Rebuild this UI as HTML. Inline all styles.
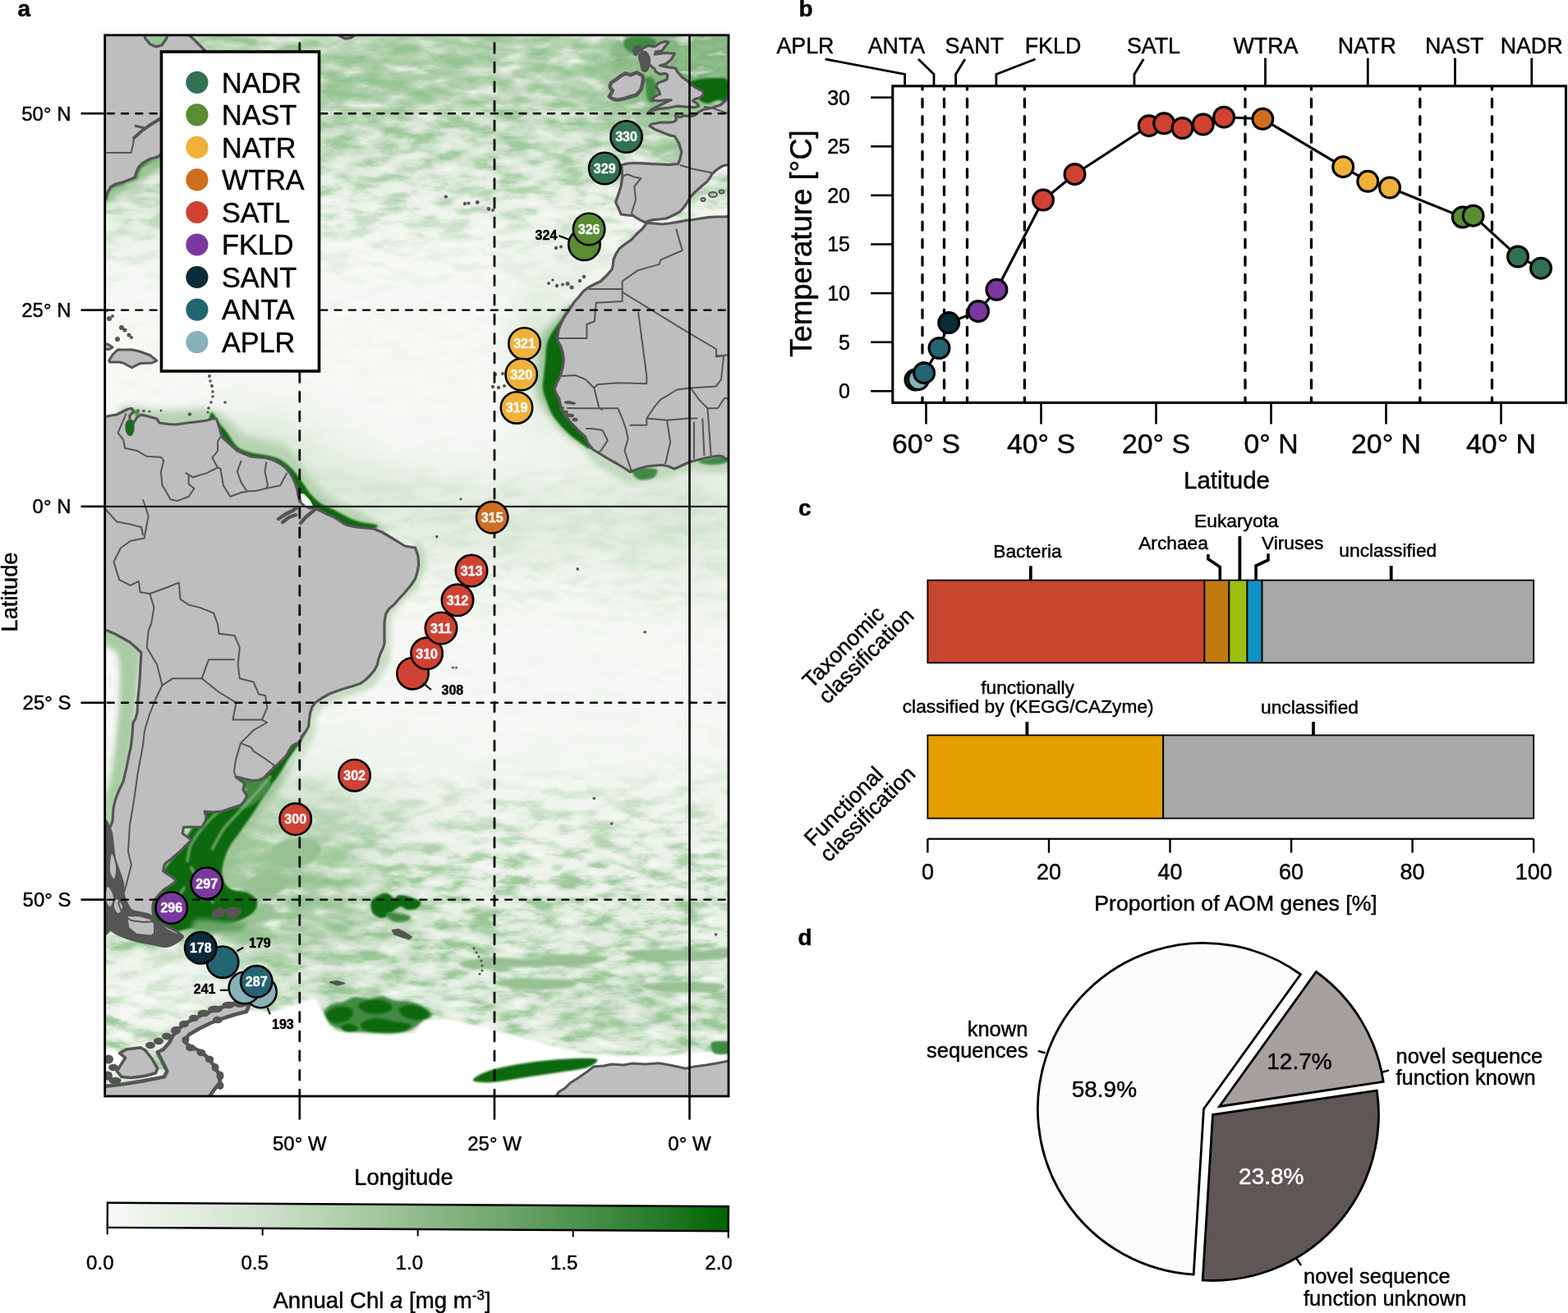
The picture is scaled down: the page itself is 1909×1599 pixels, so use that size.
<!DOCTYPE html>
<html><head><meta charset="utf-8"><title>Figure</title>
<style>
html,body{margin:0;padding:0;background:#fff;overflow:hidden;}
svg{display:block;}
text{font-family:"Liberation Sans", Arial, Helvetica, sans-serif;stroke-width:0.45px;}
</style></head>
<body>
<svg width="1909" height="1599" viewBox="0 0 1909 1599">
<rect width="1909" height="1599" fill="#fff"/>
<defs>
<clipPath id="mapclip"><rect x="127.7" y="42.8" width="759.3" height="1292.2"/></clipPath>
<filter id="blur8" x="-10%" y="-10%" width="120%" height="120%"><feGaussianBlur stdDeviation="9"/></filter>
<filter id="blur3" x="-20%" y="-20%" width="140%" height="140%"><feGaussianBlur stdDeviation="3"/></filter>
<filter id="blur2" x="-20%" y="-20%" width="140%" height="140%"><feGaussianBlur stdDeviation="1.6"/></filter>
<filter id="blur5" x="-30%" y="-30%" width="160%" height="160%"><feGaussianBlur stdDeviation="5"/></filter>
<filter id="blur1" x="-20%" y="-20%" width="140%" height="140%"><feGaussianBlur stdDeviation="0.8"/></filter>
</defs>
<rect x="87" y="34" width="806" height="1311" fill="#fdfdfd"/>
<g clip-path="url(#mapclip)">
<g filter="url(#blur8)">
<rect x="96" y="10" width="240" height="16" fill="#c3dabf"/>
<rect x="336" y="10" width="32" height="16" fill="#c2dabf"/>
<rect x="368" y="10" width="32" height="16" fill="#c2dabe"/>
<rect x="400" y="10" width="64" height="16" fill="#c2d9be"/>
<rect x="464" y="10" width="160" height="16" fill="#c1d9bd"/>
<rect x="624" y="10" width="16" height="16" fill="#c0d9bd"/>
<rect x="640" y="10" width="32" height="16" fill="#c0d8bc"/>
<rect x="672" y="10" width="32" height="16" fill="#bfd8bb"/>
<rect x="704" y="10" width="16" height="16" fill="#bed7ba"/>
<rect x="720" y="10" width="16" height="16" fill="#bdd7b9"/>
<rect x="736" y="10" width="16" height="16" fill="#bbd6b7"/>
<rect x="752" y="10" width="16" height="16" fill="#b9d4b4"/>
<rect x="768" y="10" width="16" height="16" fill="#b5d2b1"/>
<rect x="784" y="10" width="16" height="16" fill="#b3d0ae"/>
<rect x="800" y="10" width="32" height="16" fill="#b1cfac"/>
<rect x="832" y="10" width="16" height="16" fill="#b2d0ad"/>
<rect x="848" y="10" width="16" height="16" fill="#b4d1af"/>
<rect x="864" y="10" width="16" height="16" fill="#b7d3b2"/>
<rect x="880" y="10" width="16" height="16" fill="#b9d4b5"/>
<rect x="896" y="10" width="16" height="16" fill="#bcd6b8"/>
<rect x="912" y="10" width="16" height="16" fill="#bed7ba"/>
<rect x="96" y="26" width="208" height="16" fill="#c3dabf"/>
<rect x="304" y="26" width="32" height="16" fill="#c2dabf"/>
<rect x="336" y="26" width="16" height="16" fill="#c2dabe"/>
<rect x="352" y="26" width="32" height="16" fill="#c2d9be"/>
<rect x="384" y="26" width="16" height="16" fill="#c1d9be"/>
<rect x="400" y="26" width="32" height="16" fill="#c1d9bd"/>
<rect x="432" y="26" width="32" height="16" fill="#c0d8bc"/>
<rect x="464" y="26" width="48" height="16" fill="#bfd8bb"/>
<rect x="512" y="26" width="32" height="16" fill="#bfd7bb"/>
<rect x="544" y="26" width="80" height="16" fill="#bfd8bb"/>
<rect x="624" y="26" width="32" height="16" fill="#bed7ba"/>
<rect x="656" y="26" width="32" height="16" fill="#bdd7b9"/>
<rect x="688" y="26" width="16" height="16" fill="#bcd6b8"/>
<rect x="704" y="26" width="16" height="16" fill="#bbd6b7"/>
<rect x="720" y="26" width="16" height="16" fill="#bad5b5"/>
<rect x="736" y="26" width="16" height="16" fill="#b6d3b2"/>
<rect x="752" y="26" width="16" height="16" fill="#b1d0ac"/>
<rect x="768" y="26" width="16" height="16" fill="#abcca6"/>
<rect x="784" y="26" width="16" height="16" fill="#a6c9a1"/>
<rect x="800" y="26" width="16" height="16" fill="#a2c69d"/>
<rect x="816" y="26" width="16" height="16" fill="#a0c59b"/>
<rect x="832" y="26" width="16" height="16" fill="#a2c69d"/>
<rect x="848" y="26" width="16" height="16" fill="#a5c8a0"/>
<rect x="864" y="26" width="16" height="16" fill="#aacba5"/>
<rect x="880" y="26" width="16" height="16" fill="#afceaa"/>
<rect x="896" y="26" width="16" height="16" fill="#b5d2b0"/>
<rect x="912" y="26" width="16" height="16" fill="#b9d4b5"/>
<rect x="96" y="42" width="240" height="16" fill="#c3dabf"/>
<rect x="336" y="42" width="16" height="16" fill="#c2dabe"/>
<rect x="352" y="42" width="16" height="16" fill="#c2d9be"/>
<rect x="368" y="42" width="16" height="16" fill="#c1d9bd"/>
<rect x="384" y="42" width="16" height="16" fill="#c0d8bc"/>
<rect x="400" y="42" width="16" height="16" fill="#bfd8bb"/>
<rect x="416" y="42" width="16" height="16" fill="#bed7ba"/>
<rect x="432" y="42" width="16" height="16" fill="#bdd7b9"/>
<rect x="448" y="42" width="16" height="16" fill="#bcd6b8"/>
<rect x="464" y="42" width="16" height="16" fill="#bcd6b7"/>
<rect x="480" y="42" width="16" height="16" fill="#bbd5b7"/>
<rect x="496" y="42" width="16" height="16" fill="#bbd5b6"/>
<rect x="512" y="42" width="32" height="16" fill="#bbd5b7"/>
<rect x="544" y="42" width="16" height="16" fill="#bbd6b7"/>
<rect x="560" y="42" width="32" height="16" fill="#bcd6b8"/>
<rect x="592" y="42" width="32" height="16" fill="#bdd6b8"/>
<rect x="624" y="42" width="32" height="16" fill="#bcd6b8"/>
<rect x="656" y="42" width="16" height="16" fill="#bbd6b7"/>
<rect x="672" y="42" width="16" height="16" fill="#bbd5b6"/>
<rect x="688" y="42" width="16" height="16" fill="#bad5b5"/>
<rect x="704" y="42" width="16" height="16" fill="#b8d4b4"/>
<rect x="720" y="42" width="16" height="16" fill="#b6d2b1"/>
<rect x="736" y="42" width="16" height="16" fill="#b0cfab"/>
<rect x="752" y="42" width="16" height="16" fill="#a9cba4"/>
<rect x="768" y="42" width="16" height="16" fill="#a0c59b"/>
<rect x="784" y="42" width="16" height="16" fill="#97bf92"/>
<rect x="800" y="42" width="16" height="16" fill="#90bb8b"/>
<rect x="816" y="42" width="16" height="16" fill="#8db989"/>
<rect x="832" y="42" width="16" height="16" fill="#8eba8a"/>
<rect x="848" y="42" width="16" height="16" fill="#93bd8e"/>
<rect x="864" y="42" width="16" height="16" fill="#9bc196"/>
<rect x="880" y="42" width="16" height="16" fill="#a3c79e"/>
<rect x="896" y="42" width="16" height="16" fill="#accca7"/>
<rect x="912" y="42" width="16" height="16" fill="#b4d1af"/>
<rect x="96" y="58" width="192" height="16" fill="#c4dbc0"/>
<rect x="288" y="58" width="16" height="16" fill="#c4dac0"/>
<rect x="304" y="58" width="16" height="16" fill="#c3dac0"/>
<rect x="320" y="58" width="16" height="16" fill="#c3dabf"/>
<rect x="336" y="58" width="16" height="16" fill="#c2d9be"/>
<rect x="352" y="58" width="16" height="16" fill="#c1d9bd"/>
<rect x="368" y="58" width="16" height="16" fill="#c0d8bc"/>
<rect x="384" y="58" width="16" height="16" fill="#bed7ba"/>
<rect x="400" y="58" width="16" height="16" fill="#bcd6b8"/>
<rect x="416" y="58" width="16" height="16" fill="#bad5b6"/>
<rect x="432" y="58" width="16" height="16" fill="#b8d4b4"/>
<rect x="448" y="58" width="16" height="16" fill="#b7d3b2"/>
<rect x="464" y="58" width="48" height="16" fill="#b6d2b1"/>
<rect x="512" y="58" width="16" height="16" fill="#b6d3b2"/>
<rect x="528" y="58" width="16" height="16" fill="#b7d3b3"/>
<rect x="544" y="58" width="16" height="16" fill="#b8d4b4"/>
<rect x="560" y="58" width="16" height="16" fill="#b9d4b5"/>
<rect x="576" y="58" width="16" height="16" fill="#bad5b6"/>
<rect x="592" y="58" width="48" height="16" fill="#bbd5b7"/>
<rect x="640" y="58" width="16" height="16" fill="#bbd5b6"/>
<rect x="656" y="58" width="16" height="16" fill="#bad5b6"/>
<rect x="672" y="58" width="16" height="16" fill="#b9d4b5"/>
<rect x="688" y="58" width="16" height="16" fill="#b8d4b4"/>
<rect x="704" y="58" width="16" height="16" fill="#b6d3b2"/>
<rect x="720" y="58" width="16" height="16" fill="#b2d0ae"/>
<rect x="736" y="58" width="16" height="16" fill="#accca7"/>
<rect x="752" y="58" width="16" height="16" fill="#a2c69d"/>
<rect x="768" y="58" width="16" height="16" fill="#97bf92"/>
<rect x="784" y="58" width="16" height="16" fill="#8bb887"/>
<rect x="800" y="58" width="16" height="16" fill="#82b27e"/>
<rect x="816" y="58" width="16" height="16" fill="#7eb07a"/>
<rect x="832" y="58" width="16" height="16" fill="#7eb07b"/>
<rect x="848" y="58" width="16" height="16" fill="#84b37f"/>
<rect x="864" y="58" width="16" height="16" fill="#8db988"/>
<rect x="880" y="58" width="16" height="16" fill="#99c094"/>
<rect x="896" y="58" width="16" height="16" fill="#a5c8a0"/>
<rect x="912" y="58" width="16" height="16" fill="#b0cfab"/>
<rect x="96" y="74" width="176" height="16" fill="#c5dbc2"/>
<rect x="272" y="74" width="32" height="16" fill="#c5dbc1"/>
<rect x="304" y="74" width="16" height="16" fill="#c4dbc0"/>
<rect x="320" y="74" width="16" height="16" fill="#c3dabf"/>
<rect x="336" y="74" width="16" height="16" fill="#c2d9be"/>
<rect x="352" y="74" width="16" height="16" fill="#bfd8bb"/>
<rect x="368" y="74" width="16" height="16" fill="#bdd6b9"/>
<rect x="384" y="74" width="16" height="16" fill="#bad5b5"/>
<rect x="400" y="74" width="16" height="16" fill="#b6d3b2"/>
<rect x="416" y="74" width="16" height="16" fill="#b3d1af"/>
<rect x="432" y="74" width="16" height="16" fill="#b1d0ac"/>
<rect x="448" y="74" width="16" height="16" fill="#afcfaa"/>
<rect x="464" y="74" width="32" height="16" fill="#afceaa"/>
<rect x="496" y="74" width="16" height="16" fill="#b0cfab"/>
<rect x="512" y="74" width="16" height="16" fill="#b2d0ad"/>
<rect x="528" y="74" width="16" height="16" fill="#b4d1b0"/>
<rect x="544" y="74" width="16" height="16" fill="#b6d3b2"/>
<rect x="560" y="74" width="16" height="16" fill="#b8d4b4"/>
<rect x="576" y="74" width="16" height="16" fill="#bad5b5"/>
<rect x="592" y="74" width="16" height="16" fill="#bbd5b7"/>
<rect x="608" y="74" width="32" height="16" fill="#bbd6b7"/>
<rect x="640" y="74" width="16" height="16" fill="#bbd5b7"/>
<rect x="656" y="74" width="16" height="16" fill="#bad5b6"/>
<rect x="672" y="74" width="16" height="16" fill="#bad5b5"/>
<rect x="688" y="74" width="16" height="16" fill="#b8d4b4"/>
<rect x="704" y="74" width="16" height="16" fill="#b6d2b1"/>
<rect x="720" y="74" width="16" height="16" fill="#b1cfac"/>
<rect x="736" y="74" width="16" height="16" fill="#a9caa4"/>
<rect x="752" y="74" width="16" height="16" fill="#9ec399"/>
<rect x="768" y="74" width="16" height="16" fill="#92bc8d"/>
<rect x="784" y="74" width="16" height="16" fill="#86b582"/>
<rect x="800" y="74" width="16" height="16" fill="#7eaf7a"/>
<rect x="816" y="74" width="16" height="16" fill="#78ac74"/>
<rect x="832" y="74" width="16" height="16" fill="#75aa71"/>
<rect x="848" y="74" width="16" height="16" fill="#76aa73"/>
<rect x="864" y="74" width="16" height="16" fill="#7eaf7a"/>
<rect x="880" y="74" width="16" height="16" fill="#8db989"/>
<rect x="896" y="74" width="16" height="16" fill="#9fc49a"/>
<rect x="912" y="74" width="16" height="16" fill="#aecea9"/>
<rect x="96" y="90" width="176" height="16" fill="#c8ddc5"/>
<rect x="272" y="90" width="16" height="16" fill="#c8ddc4"/>
<rect x="288" y="90" width="16" height="16" fill="#c7ddc4"/>
<rect x="304" y="90" width="16" height="16" fill="#c7dcc3"/>
<rect x="320" y="90" width="16" height="16" fill="#c5dbc1"/>
<rect x="336" y="90" width="16" height="16" fill="#c3dabf"/>
<rect x="352" y="90" width="16" height="16" fill="#c0d8bc"/>
<rect x="368" y="90" width="16" height="16" fill="#bcd6b8"/>
<rect x="384" y="90" width="16" height="16" fill="#b8d3b3"/>
<rect x="400" y="90" width="16" height="16" fill="#b3d1ae"/>
<rect x="416" y="90" width="16" height="16" fill="#afcfaa"/>
<rect x="432" y="90" width="16" height="16" fill="#accda7"/>
<rect x="448" y="90" width="32" height="16" fill="#abcca6"/>
<rect x="480" y="90" width="16" height="16" fill="#adcda8"/>
<rect x="496" y="90" width="16" height="16" fill="#afcfaa"/>
<rect x="512" y="90" width="16" height="16" fill="#b3d1ae"/>
<rect x="528" y="90" width="16" height="16" fill="#b6d2b1"/>
<rect x="544" y="90" width="16" height="16" fill="#b9d4b5"/>
<rect x="560" y="90" width="16" height="16" fill="#bcd6b7"/>
<rect x="576" y="90" width="16" height="16" fill="#bdd7b9"/>
<rect x="592" y="90" width="16" height="16" fill="#bfd7bb"/>
<rect x="608" y="90" width="48" height="16" fill="#bfd8bb"/>
<rect x="656" y="90" width="16" height="16" fill="#bed7ba"/>
<rect x="672" y="90" width="16" height="16" fill="#bdd7b9"/>
<rect x="688" y="90" width="16" height="16" fill="#bcd6b7"/>
<rect x="704" y="90" width="16" height="16" fill="#b8d4b4"/>
<rect x="720" y="90" width="16" height="16" fill="#b1d0ad"/>
<rect x="736" y="90" width="16" height="16" fill="#a8caa3"/>
<rect x="752" y="90" width="16" height="16" fill="#9dc398"/>
<rect x="768" y="90" width="16" height="16" fill="#93bd8e"/>
<rect x="784" y="90" width="16" height="16" fill="#8ab786"/>
<rect x="800" y="90" width="16" height="16" fill="#83b37f"/>
<rect x="816" y="90" width="16" height="16" fill="#7cae78"/>
<rect x="832" y="90" width="16" height="16" fill="#72a86f"/>
<rect x="848" y="90" width="16" height="16" fill="#6ba469"/>
<rect x="864" y="90" width="16" height="16" fill="#70a76d"/>
<rect x="880" y="90" width="16" height="16" fill="#82b27e"/>
<rect x="896" y="90" width="16" height="16" fill="#9bc196"/>
<rect x="912" y="90" width="16" height="16" fill="#afceaa"/>
<rect x="96" y="106" width="192" height="16" fill="#cbdfc8"/>
<rect x="288" y="106" width="16" height="16" fill="#cadec7"/>
<rect x="304" y="106" width="16" height="16" fill="#c9dec6"/>
<rect x="320" y="106" width="16" height="16" fill="#c8ddc4"/>
<rect x="336" y="106" width="16" height="16" fill="#c6dcc2"/>
<rect x="352" y="106" width="16" height="16" fill="#c2dabf"/>
<rect x="368" y="106" width="16" height="16" fill="#bed7ba"/>
<rect x="384" y="106" width="16" height="16" fill="#bad5b6"/>
<rect x="400" y="106" width="16" height="16" fill="#b5d2b1"/>
<rect x="416" y="106" width="16" height="16" fill="#b2d0ad"/>
<rect x="432" y="106" width="16" height="16" fill="#afceaa"/>
<rect x="448" y="106" width="16" height="16" fill="#aecea9"/>
<rect x="464" y="106" width="16" height="16" fill="#afceaa"/>
<rect x="480" y="106" width="16" height="16" fill="#b1d0ac"/>
<rect x="496" y="106" width="16" height="16" fill="#b4d1b0"/>
<rect x="512" y="106" width="16" height="16" fill="#b8d4b3"/>
<rect x="528" y="106" width="16" height="16" fill="#bbd6b7"/>
<rect x="544" y="106" width="16" height="16" fill="#bfd7ba"/>
<rect x="560" y="106" width="16" height="16" fill="#c1d9bd"/>
<rect x="576" y="106" width="16" height="16" fill="#c3dabf"/>
<rect x="592" y="106" width="16" height="16" fill="#c4dac0"/>
<rect x="608" y="106" width="16" height="16" fill="#c4dbc0"/>
<rect x="624" y="106" width="16" height="16" fill="#c4dac0"/>
<rect x="640" y="106" width="16" height="16" fill="#c3dac0"/>
<rect x="656" y="106" width="16" height="16" fill="#c3dabf"/>
<rect x="672" y="106" width="16" height="16" fill="#c2d9be"/>
<rect x="688" y="106" width="16" height="16" fill="#c0d8bc"/>
<rect x="704" y="106" width="16" height="16" fill="#bbd5b7"/>
<rect x="720" y="106" width="16" height="16" fill="#b3d0ae"/>
<rect x="736" y="106" width="16" height="16" fill="#a8caa3"/>
<rect x="752" y="106" width="16" height="16" fill="#9dc398"/>
<rect x="768" y="106" width="16" height="16" fill="#96be91"/>
<rect x="784" y="106" width="16" height="16" fill="#92bc8d"/>
<rect x="800" y="106" width="16" height="16" fill="#90bb8b"/>
<rect x="816" y="106" width="16" height="16" fill="#8ab785"/>
<rect x="832" y="106" width="16" height="16" fill="#80b17c"/>
<rect x="848" y="106" width="16" height="16" fill="#76ab73"/>
<rect x="864" y="106" width="16" height="16" fill="#78ac75"/>
<rect x="880" y="106" width="16" height="16" fill="#89b785"/>
<rect x="896" y="106" width="16" height="16" fill="#a1c69c"/>
<rect x="912" y="106" width="16" height="16" fill="#b5d2b1"/>
<rect x="96" y="122" width="160" height="16" fill="#d0e1cd"/>
<rect x="256" y="122" width="48" height="16" fill="#cfe1cc"/>
<rect x="304" y="122" width="16" height="16" fill="#cee1cb"/>
<rect x="320" y="122" width="16" height="16" fill="#cde0ca"/>
<rect x="336" y="122" width="16" height="16" fill="#cbdfc8"/>
<rect x="352" y="122" width="16" height="16" fill="#c9ddc5"/>
<rect x="368" y="122" width="16" height="16" fill="#c5dbc2"/>
<rect x="384" y="122" width="16" height="16" fill="#c2d9be"/>
<rect x="400" y="122" width="16" height="16" fill="#bed7ba"/>
<rect x="416" y="122" width="16" height="16" fill="#bbd6b7"/>
<rect x="432" y="122" width="32" height="16" fill="#bad5b5"/>
<rect x="464" y="122" width="16" height="16" fill="#bbd5b7"/>
<rect x="480" y="122" width="16" height="16" fill="#bdd7b9"/>
<rect x="496" y="122" width="16" height="16" fill="#c0d8bc"/>
<rect x="512" y="122" width="16" height="16" fill="#c2dabf"/>
<rect x="528" y="122" width="16" height="16" fill="#c5dbc1"/>
<rect x="544" y="122" width="16" height="16" fill="#c7dcc3"/>
<rect x="560" y="122" width="16" height="16" fill="#c8ddc5"/>
<rect x="576" y="122" width="64" height="16" fill="#c9dec6"/>
<rect x="640" y="122" width="16" height="16" fill="#c9ddc5"/>
<rect x="656" y="122" width="16" height="16" fill="#c8ddc5"/>
<rect x="672" y="122" width="16" height="16" fill="#c7dcc4"/>
<rect x="688" y="122" width="16" height="16" fill="#c5dbc1"/>
<rect x="704" y="122" width="16" height="16" fill="#bfd8bb"/>
<rect x="720" y="122" width="16" height="16" fill="#b6d2b1"/>
<rect x="736" y="122" width="16" height="16" fill="#aacba5"/>
<rect x="752" y="122" width="16" height="16" fill="#a0c59b"/>
<rect x="768" y="122" width="16" height="16" fill="#9cc397"/>
<rect x="784" y="122" width="16" height="16" fill="#9ec399"/>
<rect x="800" y="122" width="16" height="16" fill="#a1c59c"/>
<rect x="816" y="122" width="16" height="16" fill="#a1c69c"/>
<rect x="832" y="122" width="16" height="16" fill="#9fc49a"/>
<rect x="848" y="122" width="16" height="16" fill="#9cc297"/>
<rect x="864" y="122" width="16" height="16" fill="#9ec499"/>
<rect x="880" y="122" width="16" height="16" fill="#a9caa4"/>
<rect x="896" y="122" width="16" height="16" fill="#b7d3b3"/>
<rect x="912" y="122" width="16" height="16" fill="#c4dac0"/>
<rect x="96" y="138" width="16" height="16" fill="#d3e4d0"/>
<rect x="112" y="138" width="64" height="16" fill="#d3e3d0"/>
<rect x="176" y="138" width="96" height="16" fill="#d3e4d0"/>
<rect x="272" y="138" width="48" height="16" fill="#d3e3d0"/>
<rect x="320" y="138" width="16" height="16" fill="#d2e3cf"/>
<rect x="336" y="138" width="16" height="16" fill="#d1e2ce"/>
<rect x="352" y="138" width="16" height="16" fill="#cfe1cc"/>
<rect x="368" y="138" width="16" height="16" fill="#ccdfc9"/>
<rect x="384" y="138" width="16" height="16" fill="#c8ddc5"/>
<rect x="400" y="138" width="16" height="16" fill="#c5dbc1"/>
<rect x="416" y="138" width="32" height="16" fill="#c3dac0"/>
<rect x="448" y="138" width="16" height="16" fill="#c5dbc1"/>
<rect x="464" y="138" width="16" height="16" fill="#c7ddc4"/>
<rect x="480" y="138" width="16" height="16" fill="#cadec6"/>
<rect x="496" y="138" width="16" height="16" fill="#ccdfc8"/>
<rect x="512" y="138" width="16" height="16" fill="#cde0ca"/>
<rect x="528" y="138" width="16" height="16" fill="#cee1cb"/>
<rect x="544" y="138" width="64" height="16" fill="#cfe1cc"/>
<rect x="608" y="138" width="16" height="16" fill="#cee1cb"/>
<rect x="624" y="138" width="16" height="16" fill="#cee0cb"/>
<rect x="640" y="138" width="16" height="16" fill="#cee0ca"/>
<rect x="656" y="138" width="16" height="16" fill="#cde0ca"/>
<rect x="672" y="138" width="16" height="16" fill="#cce0c9"/>
<rect x="688" y="138" width="16" height="16" fill="#cadec7"/>
<rect x="704" y="138" width="16" height="16" fill="#c5dbc2"/>
<rect x="720" y="138" width="16" height="16" fill="#bcd6b8"/>
<rect x="736" y="138" width="16" height="16" fill="#b2d0ad"/>
<rect x="752" y="138" width="16" height="16" fill="#aacba5"/>
<rect x="768" y="138" width="16" height="16" fill="#a8caa3"/>
<rect x="784" y="138" width="16" height="16" fill="#accca7"/>
<rect x="800" y="138" width="16" height="16" fill="#b2d0ad"/>
<rect x="816" y="138" width="16" height="16" fill="#b8d3b3"/>
<rect x="832" y="138" width="16" height="16" fill="#bbd6b7"/>
<rect x="848" y="138" width="16" height="16" fill="#bed7ba"/>
<rect x="864" y="138" width="16" height="16" fill="#c2d9be"/>
<rect x="880" y="138" width="16" height="16" fill="#c7dcc4"/>
<rect x="896" y="138" width="16" height="16" fill="#cde0c9"/>
<rect x="912" y="138" width="16" height="16" fill="#d0e2cd"/>
<rect x="96" y="154" width="32" height="16" fill="#d6e5d3"/>
<rect x="128" y="154" width="32" height="16" fill="#d5e5d3"/>
<rect x="160" y="154" width="16" height="16" fill="#d6e5d3"/>
<rect x="176" y="154" width="16" height="16" fill="#d6e5d4"/>
<rect x="192" y="154" width="16" height="16" fill="#d6e6d4"/>
<rect x="208" y="154" width="96" height="16" fill="#d7e6d4"/>
<rect x="304" y="154" width="16" height="16" fill="#d6e6d4"/>
<rect x="320" y="154" width="16" height="16" fill="#d6e5d3"/>
<rect x="336" y="154" width="16" height="16" fill="#d4e4d2"/>
<rect x="352" y="154" width="16" height="16" fill="#d2e3cf"/>
<rect x="368" y="154" width="16" height="16" fill="#cfe1cc"/>
<rect x="384" y="154" width="16" height="16" fill="#cbdfc8"/>
<rect x="400" y="154" width="16" height="16" fill="#c7ddc4"/>
<rect x="416" y="154" width="16" height="16" fill="#c6dcc3"/>
<rect x="432" y="154" width="16" height="16" fill="#c8ddc4"/>
<rect x="448" y="154" width="16" height="16" fill="#cbdfc8"/>
<rect x="464" y="154" width="16" height="16" fill="#cfe1cc"/>
<rect x="480" y="154" width="16" height="16" fill="#d1e2ce"/>
<rect x="496" y="154" width="16" height="16" fill="#d3e3d0"/>
<rect x="512" y="154" width="48" height="16" fill="#d3e4d1"/>
<rect x="560" y="154" width="32" height="16" fill="#d3e3d0"/>
<rect x="592" y="154" width="32" height="16" fill="#d2e3cf"/>
<rect x="624" y="154" width="16" height="16" fill="#d1e3cf"/>
<rect x="640" y="154" width="48" height="16" fill="#d1e2ce"/>
<rect x="688" y="154" width="16" height="16" fill="#d0e2cd"/>
<rect x="704" y="154" width="16" height="16" fill="#cde0ca"/>
<rect x="720" y="154" width="16" height="16" fill="#c6dcc3"/>
<rect x="736" y="154" width="16" height="16" fill="#bed7ba"/>
<rect x="752" y="154" width="16" height="16" fill="#b9d4b4"/>
<rect x="768" y="154" width="16" height="16" fill="#b8d4b4"/>
<rect x="784" y="154" width="16" height="16" fill="#bcd6b8"/>
<rect x="800" y="154" width="16" height="16" fill="#c2d9be"/>
<rect x="816" y="154" width="16" height="16" fill="#c8ddc4"/>
<rect x="832" y="154" width="16" height="16" fill="#cde0ca"/>
<rect x="848" y="154" width="16" height="16" fill="#d0e2cd"/>
<rect x="864" y="154" width="16" height="16" fill="#d2e3d0"/>
<rect x="880" y="154" width="16" height="16" fill="#d4e4d1"/>
<rect x="896" y="154" width="16" height="16" fill="#d5e5d3"/>
<rect x="912" y="154" width="16" height="16" fill="#d6e5d3"/>
<rect x="96" y="170" width="16" height="16" fill="#d7e6d4"/>
<rect x="112" y="170" width="16" height="16" fill="#d5e4d2"/>
<rect x="128" y="170" width="16" height="16" fill="#d3e4d0"/>
<rect x="144" y="170" width="16" height="16" fill="#d4e4d1"/>
<rect x="160" y="170" width="16" height="16" fill="#d5e5d3"/>
<rect x="176" y="170" width="16" height="16" fill="#d8e6d5"/>
<rect x="192" y="170" width="16" height="16" fill="#d9e7d7"/>
<rect x="208" y="170" width="16" height="16" fill="#dae8d7"/>
<rect x="224" y="170" width="80" height="16" fill="#dae8d8"/>
<rect x="304" y="170" width="16" height="16" fill="#dae8d7"/>
<rect x="320" y="170" width="16" height="16" fill="#d9e7d7"/>
<rect x="336" y="170" width="16" height="16" fill="#d8e7d6"/>
<rect x="352" y="170" width="16" height="16" fill="#d6e6d4"/>
<rect x="368" y="170" width="16" height="16" fill="#d4e4d1"/>
<rect x="384" y="170" width="16" height="16" fill="#d1e2ce"/>
<rect x="400" y="170" width="16" height="16" fill="#cfe1cc"/>
<rect x="416" y="170" width="16" height="16" fill="#cee0cb"/>
<rect x="432" y="170" width="16" height="16" fill="#cfe1cc"/>
<rect x="448" y="170" width="16" height="16" fill="#d2e3cf"/>
<rect x="464" y="170" width="16" height="16" fill="#d4e4d1"/>
<rect x="480" y="170" width="16" height="16" fill="#d6e5d4"/>
<rect x="496" y="170" width="16" height="16" fill="#d7e6d5"/>
<rect x="512" y="170" width="32" height="16" fill="#d8e6d5"/>
<rect x="544" y="170" width="16" height="16" fill="#d7e6d5"/>
<rect x="560" y="170" width="16" height="16" fill="#d7e6d4"/>
<rect x="576" y="170" width="16" height="16" fill="#d6e6d4"/>
<rect x="592" y="170" width="32" height="16" fill="#d6e5d3"/>
<rect x="624" y="170" width="16" height="16" fill="#d5e5d3"/>
<rect x="640" y="170" width="64" height="16" fill="#d5e5d2"/>
<rect x="704" y="170" width="16" height="16" fill="#d3e4d1"/>
<rect x="720" y="170" width="16" height="16" fill="#d1e2ce"/>
<rect x="736" y="170" width="16" height="16" fill="#cde0ca"/>
<rect x="752" y="170" width="32" height="16" fill="#cadec7"/>
<rect x="784" y="170" width="16" height="16" fill="#ccdfc9"/>
<rect x="800" y="170" width="16" height="16" fill="#d0e1cd"/>
<rect x="816" y="170" width="16" height="16" fill="#d2e3d0"/>
<rect x="832" y="170" width="16" height="16" fill="#d5e5d2"/>
<rect x="848" y="170" width="16" height="16" fill="#d7e6d4"/>
<rect x="864" y="170" width="16" height="16" fill="#d8e7d6"/>
<rect x="880" y="170" width="16" height="16" fill="#d9e7d7"/>
<rect x="896" y="170" width="16" height="16" fill="#dae8d7"/>
<rect x="912" y="170" width="16" height="16" fill="#dae8d8"/>
<rect x="96" y="186" width="16" height="16" fill="#d5e4d2"/>
<rect x="112" y="186" width="16" height="16" fill="#cee1cb"/>
<rect x="128" y="186" width="16" height="16" fill="#c9ddc6"/>
<rect x="144" y="186" width="16" height="16" fill="#cbdec7"/>
<rect x="160" y="186" width="16" height="16" fill="#d1e2ce"/>
<rect x="176" y="186" width="16" height="16" fill="#d7e6d4"/>
<rect x="192" y="186" width="16" height="16" fill="#dae8d8"/>
<rect x="208" y="186" width="16" height="16" fill="#dce9da"/>
<rect x="224" y="186" width="16" height="16" fill="#ddeadb"/>
<rect x="240" y="186" width="80" height="16" fill="#deeadb"/>
<rect x="320" y="186" width="32" height="16" fill="#ddeadb"/>
<rect x="352" y="186" width="16" height="16" fill="#dce9d9"/>
<rect x="368" y="186" width="16" height="16" fill="#dae8d8"/>
<rect x="384" y="186" width="16" height="16" fill="#d9e7d6"/>
<rect x="400" y="186" width="16" height="16" fill="#d8e7d5"/>
<rect x="416" y="186" width="16" height="16" fill="#d8e6d5"/>
<rect x="432" y="186" width="16" height="16" fill="#d8e7d6"/>
<rect x="448" y="186" width="16" height="16" fill="#d9e7d7"/>
<rect x="464" y="186" width="16" height="16" fill="#dbe8d8"/>
<rect x="480" y="186" width="16" height="16" fill="#dce9d9"/>
<rect x="496" y="186" width="48" height="16" fill="#dce9da"/>
<rect x="544" y="186" width="16" height="16" fill="#dce9d9"/>
<rect x="560" y="186" width="16" height="16" fill="#dbe9d9"/>
<rect x="576" y="186" width="16" height="16" fill="#dbe8d9"/>
<rect x="592" y="186" width="16" height="16" fill="#dbe8d8"/>
<rect x="608" y="186" width="96" height="16" fill="#dae8d8"/>
<rect x="704" y="186" width="16" height="16" fill="#dae8d7"/>
<rect x="720" y="186" width="16" height="16" fill="#d9e7d6"/>
<rect x="736" y="186" width="16" height="16" fill="#d7e6d5"/>
<rect x="752" y="186" width="32" height="16" fill="#d6e5d3"/>
<rect x="784" y="186" width="16" height="16" fill="#d7e6d4"/>
<rect x="800" y="186" width="16" height="16" fill="#d8e7d5"/>
<rect x="816" y="186" width="16" height="16" fill="#d9e7d7"/>
<rect x="832" y="186" width="16" height="16" fill="#dbe8d8"/>
<rect x="848" y="186" width="16" height="16" fill="#dce9da"/>
<rect x="864" y="186" width="32" height="16" fill="#ddeadb"/>
<rect x="896" y="186" width="16" height="16" fill="#deeadb"/>
<rect x="912" y="186" width="16" height="16" fill="#deeadc"/>
<rect x="96" y="202" width="16" height="16" fill="#d4e4d1"/>
<rect x="112" y="202" width="16" height="16" fill="#cadec6"/>
<rect x="128" y="202" width="16" height="16" fill="#c2d9be"/>
<rect x="144" y="202" width="16" height="16" fill="#c4dac0"/>
<rect x="160" y="202" width="16" height="16" fill="#cee0ca"/>
<rect x="176" y="202" width="16" height="16" fill="#d6e5d3"/>
<rect x="192" y="202" width="16" height="16" fill="#dbe9d9"/>
<rect x="208" y="202" width="16" height="16" fill="#deebdc"/>
<rect x="224" y="202" width="16" height="16" fill="#e0ebde"/>
<rect x="240" y="202" width="16" height="16" fill="#e1ecde"/>
<rect x="256" y="202" width="112" height="16" fill="#e1ecdf"/>
<rect x="368" y="202" width="16" height="16" fill="#e1ecde"/>
<rect x="384" y="202" width="16" height="16" fill="#e0ecde"/>
<rect x="400" y="202" width="16" height="16" fill="#e0ebde"/>
<rect x="416" y="202" width="16" height="16" fill="#e0ebdd"/>
<rect x="432" y="202" width="16" height="16" fill="#e0ebde"/>
<rect x="448" y="202" width="32" height="16" fill="#e0ecde"/>
<rect x="480" y="202" width="48" height="16" fill="#e1ecdf"/>
<rect x="528" y="202" width="16" height="16" fill="#e1ecde"/>
<rect x="544" y="202" width="32" height="16" fill="#e0ecde"/>
<rect x="576" y="202" width="16" height="16" fill="#e0ebde"/>
<rect x="592" y="202" width="32" height="16" fill="#e0ebdd"/>
<rect x="624" y="202" width="112" height="16" fill="#dfebdd"/>
<rect x="736" y="202" width="16" height="16" fill="#deebdc"/>
<rect x="752" y="202" width="48" height="16" fill="#deeadc"/>
<rect x="800" y="202" width="16" height="16" fill="#dfebdc"/>
<rect x="816" y="202" width="16" height="16" fill="#dfebdd"/>
<rect x="832" y="202" width="16" height="16" fill="#e0ebde"/>
<rect x="848" y="202" width="16" height="16" fill="#e0ecde"/>
<rect x="864" y="202" width="64" height="16" fill="#e1ecdf"/>
<rect x="96" y="218" width="16" height="16" fill="#dae8d7"/>
<rect x="112" y="218" width="16" height="16" fill="#d3e3d0"/>
<rect x="128" y="218" width="32" height="16" fill="#cee0cb"/>
<rect x="160" y="218" width="16" height="16" fill="#d3e4d0"/>
<rect x="176" y="218" width="16" height="16" fill="#d9e7d6"/>
<rect x="192" y="218" width="16" height="16" fill="#ddeadb"/>
<rect x="208" y="218" width="16" height="16" fill="#e0ecde"/>
<rect x="224" y="218" width="16" height="16" fill="#e2ede0"/>
<rect x="240" y="218" width="16" height="16" fill="#e4eee1"/>
<rect x="256" y="218" width="16" height="16" fill="#e4eee2"/>
<rect x="272" y="218" width="304" height="16" fill="#e5efe3"/>
<rect x="576" y="218" width="144" height="16" fill="#e5eee3"/>
<rect x="720" y="218" width="112" height="16" fill="#e4eee2"/>
<rect x="832" y="218" width="16" height="16" fill="#e5eee3"/>
<rect x="848" y="218" width="80" height="16" fill="#e5efe3"/>
<rect x="96" y="234" width="16" height="16" fill="#e2ede0"/>
<rect x="112" y="234" width="16" height="16" fill="#ddeadb"/>
<rect x="128" y="234" width="16" height="16" fill="#dae8d8"/>
<rect x="144" y="234" width="16" height="16" fill="#d9e7d7"/>
<rect x="160" y="234" width="16" height="16" fill="#dae8d8"/>
<rect x="176" y="234" width="16" height="16" fill="#ddeadb"/>
<rect x="192" y="234" width="16" height="16" fill="#e0ebde"/>
<rect x="208" y="234" width="16" height="16" fill="#e2ede0"/>
<rect x="224" y="234" width="16" height="16" fill="#e5eee3"/>
<rect x="240" y="234" width="16" height="16" fill="#e6efe4"/>
<rect x="256" y="234" width="16" height="16" fill="#e8f0e6"/>
<rect x="272" y="234" width="16" height="16" fill="#e8f1e6"/>
<rect x="288" y="234" width="640" height="16" fill="#e9f1e7"/>
<rect x="96" y="250" width="16" height="16" fill="#e7f0e5"/>
<rect x="112" y="250" width="16" height="16" fill="#e4eee2"/>
<rect x="128" y="250" width="16" height="16" fill="#e2ede0"/>
<rect x="144" y="250" width="16" height="16" fill="#e0ecde"/>
<rect x="160" y="250" width="16" height="16" fill="#e0ebdd"/>
<rect x="176" y="250" width="16" height="16" fill="#e1ecde"/>
<rect x="192" y="250" width="16" height="16" fill="#e2ede0"/>
<rect x="208" y="250" width="16" height="16" fill="#e5eee3"/>
<rect x="224" y="250" width="16" height="16" fill="#e7f0e5"/>
<rect x="240" y="250" width="16" height="16" fill="#e9f1e7"/>
<rect x="256" y="250" width="16" height="16" fill="#ebf2e9"/>
<rect x="272" y="250" width="16" height="16" fill="#ecf2ea"/>
<rect x="288" y="250" width="32" height="16" fill="#ecf3ea"/>
<rect x="320" y="250" width="288" height="16" fill="#edf3eb"/>
<rect x="608" y="250" width="224" height="16" fill="#ecf3ea"/>
<rect x="832" y="250" width="96" height="16" fill="#edf3eb"/>
<rect x="96" y="266" width="16" height="16" fill="#ebf2e9"/>
<rect x="112" y="266" width="16" height="16" fill="#e9f1e7"/>
<rect x="128" y="266" width="16" height="16" fill="#e7f0e5"/>
<rect x="144" y="266" width="16" height="16" fill="#e5efe3"/>
<rect x="160" y="266" width="16" height="16" fill="#e5eee3"/>
<rect x="176" y="266" width="16" height="16" fill="#e5efe3"/>
<rect x="192" y="266" width="16" height="16" fill="#e7f0e5"/>
<rect x="208" y="266" width="16" height="16" fill="#e9f1e7"/>
<rect x="224" y="266" width="16" height="16" fill="#ebf2e9"/>
<rect x="240" y="266" width="16" height="16" fill="#ecf3ea"/>
<rect x="256" y="266" width="16" height="16" fill="#eef4ec"/>
<rect x="272" y="266" width="16" height="16" fill="#eff4ed"/>
<rect x="288" y="266" width="32" height="16" fill="#eff5ed"/>
<rect x="320" y="266" width="288" height="16" fill="#f0f5ee"/>
<rect x="608" y="266" width="16" height="16" fill="#eff5ed"/>
<rect x="624" y="266" width="32" height="16" fill="#eff4ed"/>
<rect x="656" y="266" width="64" height="16" fill="#eef4ec"/>
<rect x="720" y="266" width="16" height="16" fill="#eff4ed"/>
<rect x="736" y="266" width="16" height="16" fill="#eff5ed"/>
<rect x="752" y="266" width="176" height="16" fill="#f0f5ee"/>
<rect x="96" y="282" width="16" height="16" fill="#eff4ed"/>
<rect x="112" y="282" width="16" height="16" fill="#edf3eb"/>
<rect x="128" y="282" width="16" height="16" fill="#ecf3ea"/>
<rect x="144" y="282" width="16" height="16" fill="#ebf2e9"/>
<rect x="160" y="282" width="16" height="16" fill="#eaf2e8"/>
<rect x="176" y="282" width="16" height="16" fill="#ebf2e9"/>
<rect x="192" y="282" width="16" height="16" fill="#ecf2ea"/>
<rect x="208" y="282" width="16" height="16" fill="#edf3eb"/>
<rect x="224" y="282" width="16" height="16" fill="#eef4ec"/>
<rect x="240" y="282" width="16" height="16" fill="#eff5ed"/>
<rect x="256" y="282" width="16" height="16" fill="#f0f5ee"/>
<rect x="272" y="282" width="16" height="16" fill="#f1f6ef"/>
<rect x="288" y="282" width="16" height="16" fill="#f1f6f0"/>
<rect x="304" y="282" width="304" height="16" fill="#f2f6f0"/>
<rect x="608" y="282" width="16" height="16" fill="#f1f6f0"/>
<rect x="624" y="282" width="16" height="16" fill="#f1f5ef"/>
<rect x="640" y="282" width="16" height="16" fill="#eff5ed"/>
<rect x="656" y="282" width="16" height="16" fill="#eff4ed"/>
<rect x="672" y="282" width="32" height="16" fill="#eef4ec"/>
<rect x="704" y="282" width="16" height="16" fill="#eff4ed"/>
<rect x="720" y="282" width="16" height="16" fill="#f0f5ee"/>
<rect x="736" y="282" width="16" height="16" fill="#f1f6ef"/>
<rect x="752" y="282" width="176" height="16" fill="#f2f6f0"/>
<rect x="96" y="298" width="16" height="16" fill="#f2f6f0"/>
<rect x="112" y="298" width="16" height="16" fill="#f1f6ef"/>
<rect x="128" y="298" width="32" height="16" fill="#f0f5ee"/>
<rect x="160" y="298" width="16" height="16" fill="#eff5ed"/>
<rect x="176" y="298" width="32" height="16" fill="#f0f5ee"/>
<rect x="208" y="298" width="16" height="16" fill="#f1f5ef"/>
<rect x="224" y="298" width="16" height="16" fill="#f2f6f0"/>
<rect x="240" y="298" width="16" height="16" fill="#f2f6f1"/>
<rect x="256" y="298" width="16" height="16" fill="#f3f7f1"/>
<rect x="272" y="298" width="48" height="16" fill="#f3f7f2"/>
<rect x="320" y="298" width="272" height="16" fill="#f4f7f2"/>
<rect x="592" y="298" width="16" height="16" fill="#f3f7f2"/>
<rect x="608" y="298" width="16" height="16" fill="#f3f7f1"/>
<rect x="624" y="298" width="16" height="16" fill="#f1f6ef"/>
<rect x="640" y="298" width="16" height="16" fill="#eff5ed"/>
<rect x="656" y="298" width="16" height="16" fill="#eef4ec"/>
<rect x="672" y="298" width="32" height="16" fill="#edf3eb"/>
<rect x="704" y="298" width="16" height="16" fill="#eef4ec"/>
<rect x="720" y="298" width="16" height="16" fill="#f0f5ee"/>
<rect x="736" y="298" width="16" height="16" fill="#f2f6f0"/>
<rect x="752" y="298" width="32" height="16" fill="#f3f7f2"/>
<rect x="784" y="298" width="144" height="16" fill="#f4f7f2"/>
<rect x="96" y="314" width="32" height="16" fill="#f4f7f2"/>
<rect x="128" y="314" width="16" height="16" fill="#f3f7f2"/>
<rect x="144" y="314" width="48" height="16" fill="#f3f7f1"/>
<rect x="192" y="314" width="16" height="16" fill="#f3f7f2"/>
<rect x="208" y="314" width="32" height="16" fill="#f4f7f2"/>
<rect x="240" y="314" width="48" height="16" fill="#f4f7f3"/>
<rect x="288" y="314" width="304" height="16" fill="#f5f8f3"/>
<rect x="592" y="314" width="16" height="16" fill="#f4f7f3"/>
<rect x="608" y="314" width="16" height="16" fill="#f3f7f2"/>
<rect x="624" y="314" width="16" height="16" fill="#f1f5ef"/>
<rect x="640" y="314" width="16" height="16" fill="#eef4ec"/>
<rect x="656" y="314" width="16" height="16" fill="#ecf3ea"/>
<rect x="672" y="314" width="32" height="16" fill="#ecf2ea"/>
<rect x="704" y="314" width="16" height="16" fill="#edf3eb"/>
<rect x="720" y="314" width="16" height="16" fill="#f0f5ee"/>
<rect x="736" y="314" width="16" height="16" fill="#f3f7f1"/>
<rect x="752" y="314" width="16" height="16" fill="#f4f7f3"/>
<rect x="768" y="314" width="160" height="16" fill="#f5f8f3"/>
<rect x="96" y="330" width="16" height="16" fill="#f6f8f4"/>
<rect x="112" y="330" width="112" height="16" fill="#f5f8f4"/>
<rect x="224" y="330" width="368" height="16" fill="#f6f8f4"/>
<rect x="592" y="330" width="16" height="16" fill="#f5f8f4"/>
<rect x="608" y="330" width="16" height="16" fill="#f4f7f2"/>
<rect x="624" y="330" width="16" height="16" fill="#f0f5ee"/>
<rect x="640" y="330" width="16" height="16" fill="#ecf3ea"/>
<rect x="656" y="330" width="16" height="16" fill="#eaf2e8"/>
<rect x="672" y="330" width="16" height="16" fill="#ebf2e9"/>
<rect x="688" y="330" width="16" height="16" fill="#ecf3ea"/>
<rect x="704" y="330" width="16" height="16" fill="#eef4ec"/>
<rect x="720" y="330" width="16" height="16" fill="#f1f6ef"/>
<rect x="736" y="330" width="16" height="16" fill="#f4f7f2"/>
<rect x="752" y="330" width="16" height="16" fill="#f5f8f4"/>
<rect x="768" y="330" width="160" height="16" fill="#f6f8f4"/>
<rect x="96" y="346" width="496" height="16" fill="#f6f8f5"/>
<rect x="592" y="346" width="16" height="16" fill="#f5f8f4"/>
<rect x="608" y="346" width="16" height="16" fill="#f3f7f1"/>
<rect x="624" y="346" width="16" height="16" fill="#eef4ec"/>
<rect x="640" y="346" width="16" height="16" fill="#e9f1e7"/>
<rect x="656" y="346" width="16" height="16" fill="#e8f0e6"/>
<rect x="672" y="346" width="16" height="16" fill="#ebf2e9"/>
<rect x="688" y="346" width="16" height="16" fill="#edf4eb"/>
<rect x="704" y="346" width="16" height="16" fill="#f0f5ee"/>
<rect x="720" y="346" width="16" height="16" fill="#f3f6f1"/>
<rect x="736" y="346" width="16" height="16" fill="#f5f8f3"/>
<rect x="752" y="346" width="16" height="16" fill="#f6f8f4"/>
<rect x="768" y="346" width="160" height="16" fill="#f6f8f5"/>
<rect x="96" y="362" width="496" height="16" fill="#f6f8f5"/>
<rect x="592" y="362" width="16" height="16" fill="#f5f8f4"/>
<rect x="608" y="362" width="16" height="16" fill="#f2f6f1"/>
<rect x="624" y="362" width="16" height="16" fill="#ecf2ea"/>
<rect x="640" y="362" width="16" height="16" fill="#e5efe3"/>
<rect x="656" y="362" width="16" height="16" fill="#e5eee3"/>
<rect x="672" y="362" width="16" height="16" fill="#eaf2e8"/>
<rect x="688" y="362" width="16" height="16" fill="#eff5ed"/>
<rect x="704" y="362" width="16" height="16" fill="#f2f6f1"/>
<rect x="720" y="362" width="16" height="16" fill="#f4f7f3"/>
<rect x="736" y="362" width="16" height="16" fill="#f6f8f4"/>
<rect x="752" y="362" width="176" height="16" fill="#f6f8f5"/>
<rect x="96" y="378" width="480" height="16" fill="#f7f9f5"/>
<rect x="576" y="378" width="16" height="16" fill="#f6f9f5"/>
<rect x="592" y="378" width="16" height="16" fill="#f5f8f4"/>
<rect x="608" y="378" width="16" height="16" fill="#f2f6f0"/>
<rect x="624" y="378" width="16" height="16" fill="#e9f1e7"/>
<rect x="640" y="378" width="16" height="16" fill="#e1ecdf"/>
<rect x="656" y="378" width="16" height="16" fill="#e2ecdf"/>
<rect x="672" y="378" width="16" height="16" fill="#eaf1e8"/>
<rect x="688" y="378" width="16" height="16" fill="#f1f5ef"/>
<rect x="704" y="378" width="16" height="16" fill="#f4f7f3"/>
<rect x="720" y="378" width="16" height="16" fill="#f6f8f4"/>
<rect x="736" y="378" width="16" height="16" fill="#f6f8f5"/>
<rect x="752" y="378" width="16" height="16" fill="#f6f9f5"/>
<rect x="768" y="378" width="160" height="16" fill="#f7f9f5"/>
<rect x="96" y="394" width="496" height="16" fill="#f7f9f5"/>
<rect x="592" y="394" width="16" height="16" fill="#f6f8f4"/>
<rect x="608" y="394" width="16" height="16" fill="#f1f5ef"/>
<rect x="624" y="394" width="16" height="16" fill="#e7f0e5"/>
<rect x="640" y="394" width="16" height="16" fill="#deeadb"/>
<rect x="656" y="394" width="16" height="16" fill="#deebdc"/>
<rect x="672" y="394" width="16" height="16" fill="#e9f1e7"/>
<rect x="688" y="394" width="16" height="16" fill="#f1f6ef"/>
<rect x="704" y="394" width="16" height="16" fill="#f5f8f4"/>
<rect x="720" y="394" width="16" height="16" fill="#f6f9f5"/>
<rect x="736" y="394" width="192" height="16" fill="#f7f9f5"/>
<rect x="96" y="410" width="496" height="16" fill="#f7f9f5"/>
<rect x="592" y="410" width="16" height="16" fill="#f5f8f4"/>
<rect x="608" y="410" width="16" height="16" fill="#f0f5ee"/>
<rect x="624" y="410" width="16" height="16" fill="#e6efe4"/>
<rect x="640" y="410" width="16" height="16" fill="#dbe9d9"/>
<rect x="656" y="410" width="16" height="16" fill="#dce9da"/>
<rect x="672" y="410" width="16" height="16" fill="#e8f0e6"/>
<rect x="688" y="410" width="16" height="16" fill="#f1f6ef"/>
<rect x="704" y="410" width="16" height="16" fill="#f6f8f4"/>
<rect x="720" y="410" width="208" height="16" fill="#f7f9f5"/>
<rect x="96" y="426" width="496" height="16" fill="#f7f9f5"/>
<rect x="592" y="426" width="16" height="16" fill="#f5f8f4"/>
<rect x="608" y="426" width="16" height="16" fill="#f0f5ee"/>
<rect x="624" y="426" width="16" height="16" fill="#e6efe4"/>
<rect x="640" y="426" width="16" height="16" fill="#dbe8d9"/>
<rect x="656" y="426" width="16" height="16" fill="#dce9da"/>
<rect x="672" y="426" width="16" height="16" fill="#e7f0e5"/>
<rect x="688" y="426" width="16" height="16" fill="#f1f6ef"/>
<rect x="704" y="426" width="16" height="16" fill="#f6f8f4"/>
<rect x="720" y="426" width="208" height="16" fill="#f7f9f5"/>
<rect x="96" y="442" width="496" height="16" fill="#f7f9f5"/>
<rect x="592" y="442" width="16" height="16" fill="#f5f8f4"/>
<rect x="608" y="442" width="16" height="16" fill="#f1f5ef"/>
<rect x="624" y="442" width="16" height="16" fill="#e7f0e5"/>
<rect x="640" y="442" width="16" height="16" fill="#dce9da"/>
<rect x="656" y="442" width="16" height="16" fill="#ddeadb"/>
<rect x="672" y="442" width="16" height="16" fill="#e8f0e6"/>
<rect x="688" y="442" width="16" height="16" fill="#f1f6ef"/>
<rect x="704" y="442" width="16" height="16" fill="#f5f8f4"/>
<rect x="720" y="442" width="16" height="16" fill="#f6f8f5"/>
<rect x="736" y="442" width="16" height="16" fill="#f6f9f5"/>
<rect x="752" y="442" width="176" height="16" fill="#f7f9f5"/>
<rect x="96" y="458" width="144" height="16" fill="#f7f9f5"/>
<rect x="240" y="458" width="16" height="16" fill="#f6f9f5"/>
<rect x="256" y="458" width="96" height="16" fill="#f6f8f5"/>
<rect x="352" y="458" width="32" height="16" fill="#f6f9f5"/>
<rect x="384" y="458" width="208" height="16" fill="#f7f9f5"/>
<rect x="592" y="458" width="16" height="16" fill="#f6f8f4"/>
<rect x="608" y="458" width="16" height="16" fill="#f1f6ef"/>
<rect x="624" y="458" width="16" height="16" fill="#e8f1e6"/>
<rect x="640" y="458" width="16" height="16" fill="#e0ebdd"/>
<rect x="656" y="458" width="16" height="16" fill="#e0ecde"/>
<rect x="672" y="458" width="16" height="16" fill="#e9f1e7"/>
<rect x="688" y="458" width="16" height="16" fill="#f1f5ef"/>
<rect x="704" y="458" width="16" height="16" fill="#f3f7f2"/>
<rect x="720" y="458" width="16" height="16" fill="#f4f7f3"/>
<rect x="736" y="458" width="16" height="16" fill="#f5f8f4"/>
<rect x="752" y="458" width="16" height="16" fill="#f6f9f5"/>
<rect x="768" y="458" width="160" height="16" fill="#f7f9f5"/>
<rect x="96" y="474" width="96" height="16" fill="#f7f9f5"/>
<rect x="192" y="474" width="16" height="16" fill="#f6f9f5"/>
<rect x="208" y="474" width="16" height="16" fill="#f6f8f5"/>
<rect x="224" y="474" width="16" height="16" fill="#f6f8f4"/>
<rect x="240" y="474" width="16" height="16" fill="#f5f8f4"/>
<rect x="256" y="474" width="16" height="16" fill="#f5f8f3"/>
<rect x="272" y="474" width="16" height="16" fill="#f4f7f3"/>
<rect x="288" y="474" width="32" height="16" fill="#f4f7f2"/>
<rect x="320" y="474" width="16" height="16" fill="#f4f7f3"/>
<rect x="336" y="474" width="16" height="16" fill="#f5f8f3"/>
<rect x="352" y="474" width="16" height="16" fill="#f5f8f4"/>
<rect x="368" y="474" width="16" height="16" fill="#f6f8f4"/>
<rect x="384" y="474" width="32" height="16" fill="#f6f8f5"/>
<rect x="416" y="474" width="16" height="16" fill="#f6f9f5"/>
<rect x="432" y="474" width="160" height="16" fill="#f7f9f5"/>
<rect x="592" y="474" width="16" height="16" fill="#f6f8f4"/>
<rect x="608" y="474" width="16" height="16" fill="#f2f6f1"/>
<rect x="624" y="474" width="16" height="16" fill="#ebf2e9"/>
<rect x="640" y="474" width="32" height="16" fill="#e4eee2"/>
<rect x="672" y="474" width="16" height="16" fill="#ebf2e9"/>
<rect x="688" y="474" width="16" height="16" fill="#eff4ed"/>
<rect x="704" y="474" width="16" height="16" fill="#eef4ec"/>
<rect x="720" y="474" width="16" height="16" fill="#eff4ed"/>
<rect x="736" y="474" width="16" height="16" fill="#f3f6f1"/>
<rect x="752" y="474" width="16" height="16" fill="#f6f8f4"/>
<rect x="768" y="474" width="16" height="16" fill="#f6f9f5"/>
<rect x="784" y="474" width="144" height="16" fill="#f7f9f5"/>
<rect x="96" y="490" width="64" height="16" fill="#f7f9f5"/>
<rect x="160" y="490" width="16" height="16" fill="#f6f9f5"/>
<rect x="176" y="490" width="16" height="16" fill="#f6f8f5"/>
<rect x="192" y="490" width="16" height="16" fill="#f6f8f4"/>
<rect x="208" y="490" width="16" height="16" fill="#f5f8f3"/>
<rect x="224" y="490" width="16" height="16" fill="#f4f7f2"/>
<rect x="240" y="490" width="16" height="16" fill="#f2f6f0"/>
<rect x="256" y="490" width="16" height="16" fill="#f1f5ef"/>
<rect x="272" y="490" width="16" height="16" fill="#eff5ed"/>
<rect x="288" y="490" width="48" height="16" fill="#eff4ed"/>
<rect x="336" y="490" width="16" height="16" fill="#f0f5ee"/>
<rect x="352" y="490" width="16" height="16" fill="#f2f6f0"/>
<rect x="368" y="490" width="16" height="16" fill="#f3f7f1"/>
<rect x="384" y="490" width="16" height="16" fill="#f4f7f3"/>
<rect x="400" y="490" width="16" height="16" fill="#f5f8f4"/>
<rect x="416" y="490" width="16" height="16" fill="#f6f8f4"/>
<rect x="432" y="490" width="16" height="16" fill="#f6f8f5"/>
<rect x="448" y="490" width="16" height="16" fill="#f6f9f5"/>
<rect x="464" y="490" width="128" height="16" fill="#f7f9f5"/>
<rect x="592" y="490" width="16" height="16" fill="#f6f8f5"/>
<rect x="608" y="490" width="16" height="16" fill="#f3f7f2"/>
<rect x="624" y="490" width="16" height="16" fill="#edf4eb"/>
<rect x="640" y="490" width="32" height="16" fill="#e8f0e6"/>
<rect x="672" y="490" width="16" height="16" fill="#ecf3ea"/>
<rect x="688" y="490" width="16" height="16" fill="#ebf2e9"/>
<rect x="704" y="490" width="16" height="16" fill="#e6efe4"/>
<rect x="720" y="490" width="16" height="16" fill="#e7f0e5"/>
<rect x="736" y="490" width="16" height="16" fill="#eef4ec"/>
<rect x="752" y="490" width="16" height="16" fill="#f4f7f3"/>
<rect x="768" y="490" width="16" height="16" fill="#f6f8f5"/>
<rect x="784" y="490" width="128" height="16" fill="#f6f9f5"/>
<rect x="912" y="490" width="16" height="16" fill="#f7f9f5"/>
<rect x="96" y="506" width="64" height="16" fill="#f6f8f5"/>
<rect x="160" y="506" width="16" height="16" fill="#f6f8f4"/>
<rect x="176" y="506" width="16" height="16" fill="#f5f8f4"/>
<rect x="192" y="506" width="16" height="16" fill="#f4f7f3"/>
<rect x="208" y="506" width="16" height="16" fill="#f2f6f1"/>
<rect x="224" y="506" width="16" height="16" fill="#f0f5ee"/>
<rect x="240" y="506" width="16" height="16" fill="#edf3eb"/>
<rect x="256" y="506" width="16" height="16" fill="#ebf2e9"/>
<rect x="272" y="506" width="16" height="16" fill="#e8f0e6"/>
<rect x="288" y="506" width="16" height="16" fill="#e7efe5"/>
<rect x="304" y="506" width="16" height="16" fill="#e6efe4"/>
<rect x="320" y="506" width="16" height="16" fill="#e7f0e5"/>
<rect x="336" y="506" width="16" height="16" fill="#e9f1e7"/>
<rect x="352" y="506" width="16" height="16" fill="#ebf2e9"/>
<rect x="368" y="506" width="16" height="16" fill="#eef4ec"/>
<rect x="384" y="506" width="16" height="16" fill="#f0f5ee"/>
<rect x="400" y="506" width="16" height="16" fill="#f2f6f0"/>
<rect x="416" y="506" width="16" height="16" fill="#f4f7f2"/>
<rect x="432" y="506" width="16" height="16" fill="#f5f8f3"/>
<rect x="448" y="506" width="16" height="16" fill="#f5f8f4"/>
<rect x="464" y="506" width="16" height="16" fill="#f6f8f4"/>
<rect x="480" y="506" width="112" height="16" fill="#f6f8f5"/>
<rect x="592" y="506" width="16" height="16" fill="#f6f8f4"/>
<rect x="608" y="506" width="16" height="16" fill="#f4f7f2"/>
<rect x="624" y="506" width="16" height="16" fill="#eff5ed"/>
<rect x="640" y="506" width="32" height="16" fill="#ebf2e9"/>
<rect x="672" y="506" width="16" height="16" fill="#edf3eb"/>
<rect x="688" y="506" width="16" height="16" fill="#e8f0e6"/>
<rect x="704" y="506" width="16" height="16" fill="#dfebdd"/>
<rect x="720" y="506" width="16" height="16" fill="#e0ebdd"/>
<rect x="736" y="506" width="16" height="16" fill="#eaf1e8"/>
<rect x="752" y="506" width="16" height="16" fill="#f2f6f1"/>
<rect x="768" y="506" width="16" height="16" fill="#f5f8f4"/>
<rect x="784" y="506" width="32" height="16" fill="#f6f8f4"/>
<rect x="816" y="506" width="64" height="16" fill="#f5f8f4"/>
<rect x="880" y="506" width="48" height="16" fill="#f6f8f4"/>
<rect x="96" y="522" width="32" height="16" fill="#f6f8f4"/>
<rect x="128" y="522" width="32" height="16" fill="#f5f8f4"/>
<rect x="160" y="522" width="16" height="16" fill="#f5f8f3"/>
<rect x="176" y="522" width="16" height="16" fill="#f4f7f2"/>
<rect x="192" y="522" width="16" height="16" fill="#f2f6f1"/>
<rect x="208" y="522" width="16" height="16" fill="#f0f5ee"/>
<rect x="224" y="522" width="16" height="16" fill="#edf3eb"/>
<rect x="240" y="522" width="16" height="16" fill="#e9f1e7"/>
<rect x="256" y="522" width="16" height="16" fill="#e5efe3"/>
<rect x="272" y="522" width="16" height="16" fill="#e1ecdf"/>
<rect x="288" y="522" width="16" height="16" fill="#deebdc"/>
<rect x="304" y="522" width="16" height="16" fill="#ddeadb"/>
<rect x="320" y="522" width="16" height="16" fill="#deeadc"/>
<rect x="336" y="522" width="16" height="16" fill="#e1ecdf"/>
<rect x="352" y="522" width="16" height="16" fill="#e4eee2"/>
<rect x="368" y="522" width="16" height="16" fill="#e8f0e6"/>
<rect x="384" y="522" width="16" height="16" fill="#ecf2ea"/>
<rect x="400" y="522" width="16" height="16" fill="#eef4ec"/>
<rect x="416" y="522" width="16" height="16" fill="#f1f5ef"/>
<rect x="432" y="522" width="16" height="16" fill="#f3f6f1"/>
<rect x="448" y="522" width="16" height="16" fill="#f4f7f2"/>
<rect x="464" y="522" width="16" height="16" fill="#f5f8f3"/>
<rect x="480" y="522" width="128" height="16" fill="#f5f8f4"/>
<rect x="608" y="522" width="16" height="16" fill="#f4f7f2"/>
<rect x="624" y="522" width="16" height="16" fill="#f1f6ef"/>
<rect x="640" y="522" width="48" height="16" fill="#eef4ec"/>
<rect x="688" y="522" width="16" height="16" fill="#e9f1e7"/>
<rect x="704" y="522" width="16" height="16" fill="#e0ebde"/>
<rect x="720" y="522" width="16" height="16" fill="#e0ecde"/>
<rect x="736" y="522" width="16" height="16" fill="#eaf1e8"/>
<rect x="752" y="522" width="16" height="16" fill="#f2f6f0"/>
<rect x="768" y="522" width="64" height="16" fill="#f4f7f3"/>
<rect x="832" y="522" width="32" height="16" fill="#f4f7f2"/>
<rect x="864" y="522" width="32" height="16" fill="#f4f7f3"/>
<rect x="896" y="522" width="32" height="16" fill="#f5f8f3"/>
<rect x="96" y="538" width="32" height="16" fill="#f5f8f4"/>
<rect x="128" y="538" width="32" height="16" fill="#f5f8f3"/>
<rect x="160" y="538" width="16" height="16" fill="#f4f7f3"/>
<rect x="176" y="538" width="16" height="16" fill="#f3f7f2"/>
<rect x="192" y="538" width="16" height="16" fill="#f2f6f0"/>
<rect x="208" y="538" width="16" height="16" fill="#eff4ed"/>
<rect x="224" y="538" width="16" height="16" fill="#ecf3ea"/>
<rect x="240" y="538" width="16" height="16" fill="#e8f0e6"/>
<rect x="256" y="538" width="16" height="16" fill="#e3ede1"/>
<rect x="272" y="538" width="16" height="16" fill="#deebdc"/>
<rect x="288" y="538" width="16" height="16" fill="#dbe8d8"/>
<rect x="304" y="538" width="32" height="16" fill="#d9e7d7"/>
<rect x="336" y="538" width="16" height="16" fill="#dbe9d9"/>
<rect x="352" y="538" width="16" height="16" fill="#dfebdd"/>
<rect x="368" y="538" width="16" height="16" fill="#e3ede1"/>
<rect x="384" y="538" width="16" height="16" fill="#e7f0e5"/>
<rect x="400" y="538" width="16" height="16" fill="#ebf2e9"/>
<rect x="416" y="538" width="16" height="16" fill="#edf4eb"/>
<rect x="432" y="538" width="16" height="16" fill="#f0f5ee"/>
<rect x="448" y="538" width="16" height="16" fill="#f1f6ef"/>
<rect x="464" y="538" width="16" height="16" fill="#f2f6f1"/>
<rect x="480" y="538" width="16" height="16" fill="#f3f7f2"/>
<rect x="496" y="538" width="16" height="16" fill="#f4f7f2"/>
<rect x="512" y="538" width="96" height="16" fill="#f4f7f3"/>
<rect x="608" y="538" width="16" height="16" fill="#f3f7f2"/>
<rect x="624" y="538" width="16" height="16" fill="#f2f6f0"/>
<rect x="640" y="538" width="48" height="16" fill="#f0f5ee"/>
<rect x="688" y="538" width="16" height="16" fill="#ecf3ea"/>
<rect x="704" y="538" width="32" height="16" fill="#e6efe4"/>
<rect x="736" y="538" width="16" height="16" fill="#ecf3ea"/>
<rect x="752" y="538" width="16" height="16" fill="#f1f6ef"/>
<rect x="768" y="538" width="32" height="16" fill="#f2f6f1"/>
<rect x="800" y="538" width="80" height="16" fill="#f2f6f0"/>
<rect x="880" y="538" width="16" height="16" fill="#f2f6f1"/>
<rect x="896" y="538" width="16" height="16" fill="#f3f7f1"/>
<rect x="912" y="538" width="16" height="16" fill="#f3f7f2"/>
<rect x="96" y="554" width="48" height="16" fill="#f4f7f3"/>
<rect x="144" y="554" width="16" height="16" fill="#f4f7f2"/>
<rect x="160" y="554" width="16" height="16" fill="#f3f7f2"/>
<rect x="176" y="554" width="16" height="16" fill="#f3f6f1"/>
<rect x="192" y="554" width="16" height="16" fill="#f1f6ef"/>
<rect x="208" y="554" width="16" height="16" fill="#eff5ed"/>
<rect x="224" y="554" width="16" height="16" fill="#ecf3ea"/>
<rect x="240" y="554" width="16" height="16" fill="#e9f1e7"/>
<rect x="256" y="554" width="16" height="16" fill="#e5eee3"/>
<rect x="272" y="554" width="16" height="16" fill="#e0ecde"/>
<rect x="288" y="554" width="16" height="16" fill="#dde9da"/>
<rect x="304" y="554" width="16" height="16" fill="#dae8d8"/>
<rect x="320" y="554" width="16" height="16" fill="#d9e7d7"/>
<rect x="336" y="554" width="16" height="16" fill="#dae8d8"/>
<rect x="352" y="554" width="16" height="16" fill="#dce9da"/>
<rect x="368" y="554" width="16" height="16" fill="#dfebdd"/>
<rect x="384" y="554" width="16" height="16" fill="#e2ede0"/>
<rect x="400" y="554" width="16" height="16" fill="#e5efe3"/>
<rect x="416" y="554" width="16" height="16" fill="#e8f0e6"/>
<rect x="432" y="554" width="16" height="16" fill="#eaf2e8"/>
<rect x="448" y="554" width="16" height="16" fill="#ecf3ea"/>
<rect x="464" y="554" width="16" height="16" fill="#eef4ec"/>
<rect x="480" y="554" width="16" height="16" fill="#eff4ed"/>
<rect x="496" y="554" width="16" height="16" fill="#f0f5ee"/>
<rect x="512" y="554" width="16" height="16" fill="#f1f5ef"/>
<rect x="528" y="554" width="16" height="16" fill="#f1f6f0"/>
<rect x="544" y="554" width="32" height="16" fill="#f2f6f0"/>
<rect x="576" y="554" width="32" height="16" fill="#f2f6f1"/>
<rect x="608" y="554" width="16" height="16" fill="#f2f6f0"/>
<rect x="624" y="554" width="16" height="16" fill="#f1f5ef"/>
<rect x="640" y="554" width="16" height="16" fill="#f0f5ee"/>
<rect x="656" y="554" width="32" height="16" fill="#eff5ed"/>
<rect x="688" y="554" width="16" height="16" fill="#eef4ec"/>
<rect x="704" y="554" width="32" height="16" fill="#ebf2e9"/>
<rect x="736" y="554" width="16" height="16" fill="#edf3eb"/>
<rect x="752" y="554" width="48" height="16" fill="#eef4ec"/>
<rect x="800" y="554" width="64" height="16" fill="#edf3eb"/>
<rect x="864" y="554" width="16" height="16" fill="#eef4ec"/>
<rect x="880" y="554" width="16" height="16" fill="#eff4ed"/>
<rect x="896" y="554" width="16" height="16" fill="#f0f5ee"/>
<rect x="912" y="554" width="16" height="16" fill="#f1f5ef"/>
<rect x="96" y="570" width="48" height="16" fill="#f2f6f1"/>
<rect x="144" y="570" width="32" height="16" fill="#f2f6f0"/>
<rect x="176" y="570" width="16" height="16" fill="#f1f6ef"/>
<rect x="192" y="570" width="16" height="16" fill="#f0f5ee"/>
<rect x="208" y="570" width="16" height="16" fill="#eff4ed"/>
<rect x="224" y="570" width="16" height="16" fill="#edf3eb"/>
<rect x="240" y="570" width="16" height="16" fill="#eaf2e8"/>
<rect x="256" y="570" width="16" height="16" fill="#e7f0e5"/>
<rect x="272" y="570" width="16" height="16" fill="#e4eee2"/>
<rect x="288" y="570" width="16" height="16" fill="#e1ecde"/>
<rect x="304" y="570" width="16" height="16" fill="#deeadb"/>
<rect x="320" y="570" width="16" height="16" fill="#dce9da"/>
<rect x="336" y="570" width="32" height="16" fill="#dbe8d9"/>
<rect x="368" y="570" width="16" height="16" fill="#dce9d9"/>
<rect x="384" y="570" width="16" height="16" fill="#dde9da"/>
<rect x="400" y="570" width="16" height="16" fill="#deeadc"/>
<rect x="416" y="570" width="16" height="16" fill="#dfebdd"/>
<rect x="432" y="570" width="16" height="16" fill="#e1ecdf"/>
<rect x="448" y="570" width="16" height="16" fill="#e3ede0"/>
<rect x="464" y="570" width="16" height="16" fill="#e4eee2"/>
<rect x="480" y="570" width="16" height="16" fill="#e6efe4"/>
<rect x="496" y="570" width="16" height="16" fill="#e8f0e6"/>
<rect x="512" y="570" width="16" height="16" fill="#eaf1e8"/>
<rect x="528" y="570" width="16" height="16" fill="#ebf2e9"/>
<rect x="544" y="570" width="32" height="16" fill="#edf3eb"/>
<rect x="576" y="570" width="48" height="16" fill="#eef4ec"/>
<rect x="624" y="570" width="32" height="16" fill="#edf3eb"/>
<rect x="656" y="570" width="32" height="16" fill="#ecf3ea"/>
<rect x="688" y="570" width="16" height="16" fill="#ebf2e9"/>
<rect x="704" y="570" width="16" height="16" fill="#eaf1e8"/>
<rect x="720" y="570" width="16" height="16" fill="#e9f1e7"/>
<rect x="736" y="570" width="32" height="16" fill="#e8f0e6"/>
<rect x="768" y="570" width="16" height="16" fill="#e7f0e5"/>
<rect x="784" y="570" width="16" height="16" fill="#e6efe4"/>
<rect x="800" y="570" width="32" height="16" fill="#e5efe3"/>
<rect x="832" y="570" width="32" height="16" fill="#e6efe4"/>
<rect x="864" y="570" width="16" height="16" fill="#e8f0e6"/>
<rect x="880" y="570" width="16" height="16" fill="#e9f1e7"/>
<rect x="896" y="570" width="16" height="16" fill="#ebf2e9"/>
<rect x="912" y="570" width="16" height="16" fill="#ecf3ea"/>
<rect x="96" y="586" width="48" height="16" fill="#f1f5ef"/>
<rect x="144" y="586" width="16" height="16" fill="#f0f5ef"/>
<rect x="160" y="586" width="32" height="16" fill="#f0f5ee"/>
<rect x="192" y="586" width="16" height="16" fill="#eff5ed"/>
<rect x="208" y="586" width="16" height="16" fill="#eff4ed"/>
<rect x="224" y="586" width="16" height="16" fill="#edf4eb"/>
<rect x="240" y="586" width="16" height="16" fill="#ecf3ea"/>
<rect x="256" y="586" width="16" height="16" fill="#eaf1e8"/>
<rect x="272" y="586" width="16" height="16" fill="#e8f0e6"/>
<rect x="288" y="586" width="16" height="16" fill="#e5efe3"/>
<rect x="304" y="586" width="16" height="16" fill="#e3ede1"/>
<rect x="320" y="586" width="16" height="16" fill="#e1ecdf"/>
<rect x="336" y="586" width="16" height="16" fill="#dfebdd"/>
<rect x="352" y="586" width="16" height="16" fill="#deeadc"/>
<rect x="368" y="586" width="16" height="16" fill="#dde9da"/>
<rect x="384" y="586" width="16" height="16" fill="#dce9d9"/>
<rect x="400" y="586" width="16" height="16" fill="#dbe8d8"/>
<rect x="416" y="586" width="16" height="16" fill="#dae8d8"/>
<rect x="432" y="586" width="16" height="16" fill="#dbe8d8"/>
<rect x="448" y="586" width="16" height="16" fill="#dbe9d9"/>
<rect x="464" y="586" width="16" height="16" fill="#ddeadb"/>
<rect x="480" y="586" width="16" height="16" fill="#dfebdc"/>
<rect x="496" y="586" width="16" height="16" fill="#e1ecdf"/>
<rect x="512" y="586" width="16" height="16" fill="#e3ede1"/>
<rect x="528" y="586" width="16" height="16" fill="#e5eee3"/>
<rect x="544" y="586" width="16" height="16" fill="#e6efe4"/>
<rect x="560" y="586" width="16" height="16" fill="#e8f0e6"/>
<rect x="576" y="586" width="64" height="16" fill="#e9f1e7"/>
<rect x="640" y="586" width="16" height="16" fill="#e8f1e6"/>
<rect x="656" y="586" width="16" height="16" fill="#e8f0e6"/>
<rect x="672" y="586" width="32" height="16" fill="#e7f0e5"/>
<rect x="704" y="586" width="16" height="16" fill="#e6efe4"/>
<rect x="720" y="586" width="16" height="16" fill="#e5eee3"/>
<rect x="736" y="586" width="16" height="16" fill="#e3eee1"/>
<rect x="752" y="586" width="16" height="16" fill="#e2ede0"/>
<rect x="768" y="586" width="16" height="16" fill="#e1ecdf"/>
<rect x="784" y="586" width="16" height="16" fill="#e0ebde"/>
<rect x="800" y="586" width="48" height="16" fill="#dfebdd"/>
<rect x="848" y="586" width="16" height="16" fill="#e0ecde"/>
<rect x="864" y="586" width="16" height="16" fill="#e2ede0"/>
<rect x="880" y="586" width="16" height="16" fill="#e4eee2"/>
<rect x="896" y="586" width="16" height="16" fill="#e6efe4"/>
<rect x="912" y="586" width="16" height="16" fill="#e8f1e6"/>
<rect x="96" y="602" width="80" height="16" fill="#eff5ed"/>
<rect x="176" y="602" width="32" height="16" fill="#eff4ed"/>
<rect x="208" y="602" width="32" height="16" fill="#eef4ec"/>
<rect x="240" y="602" width="16" height="16" fill="#edf3eb"/>
<rect x="256" y="602" width="16" height="16" fill="#ecf3ea"/>
<rect x="272" y="602" width="16" height="16" fill="#ebf2e9"/>
<rect x="288" y="602" width="16" height="16" fill="#eaf1e8"/>
<rect x="304" y="602" width="16" height="16" fill="#e8f1e6"/>
<rect x="320" y="602" width="16" height="16" fill="#e7f0e5"/>
<rect x="336" y="602" width="16" height="16" fill="#e6efe4"/>
<rect x="352" y="602" width="16" height="16" fill="#e4eee2"/>
<rect x="368" y="602" width="16" height="16" fill="#e3ede1"/>
<rect x="384" y="602" width="16" height="16" fill="#e1ecdf"/>
<rect x="400" y="602" width="16" height="16" fill="#e0ecde"/>
<rect x="416" y="602" width="16" height="16" fill="#dfebdd"/>
<rect x="432" y="602" width="16" height="16" fill="#deeadc"/>
<rect x="448" y="602" width="32" height="16" fill="#deeadb"/>
<rect x="480" y="602" width="16" height="16" fill="#deeadc"/>
<rect x="496" y="602" width="16" height="16" fill="#dfebdd"/>
<rect x="512" y="602" width="16" height="16" fill="#e0ecde"/>
<rect x="528" y="602" width="16" height="16" fill="#e1ecdf"/>
<rect x="544" y="602" width="16" height="16" fill="#e2ede0"/>
<rect x="560" y="602" width="16" height="16" fill="#e3eee1"/>
<rect x="576" y="602" width="128" height="16" fill="#e4eee2"/>
<rect x="704" y="602" width="16" height="16" fill="#e3ede1"/>
<rect x="720" y="602" width="16" height="16" fill="#e2ede0"/>
<rect x="736" y="602" width="16" height="16" fill="#e1ecdf"/>
<rect x="752" y="602" width="16" height="16" fill="#e0ecde"/>
<rect x="768" y="602" width="16" height="16" fill="#dfebdd"/>
<rect x="784" y="602" width="16" height="16" fill="#deeadc"/>
<rect x="800" y="602" width="16" height="16" fill="#ddeadb"/>
<rect x="816" y="602" width="16" height="16" fill="#ddeada"/>
<rect x="832" y="602" width="16" height="16" fill="#ddeadb"/>
<rect x="848" y="602" width="16" height="16" fill="#deeadc"/>
<rect x="864" y="602" width="16" height="16" fill="#e0ebdd"/>
<rect x="880" y="602" width="16" height="16" fill="#e2ede0"/>
<rect x="896" y="602" width="16" height="16" fill="#e4eee2"/>
<rect x="912" y="602" width="16" height="16" fill="#e6efe4"/>
<rect x="96" y="618" width="144" height="16" fill="#eef4ec"/>
<rect x="240" y="618" width="32" height="16" fill="#edf3eb"/>
<rect x="272" y="618" width="32" height="16" fill="#ecf3ea"/>
<rect x="304" y="618" width="32" height="16" fill="#ebf2e9"/>
<rect x="336" y="618" width="16" height="16" fill="#eaf2e8"/>
<rect x="352" y="618" width="16" height="16" fill="#e9f1e7"/>
<rect x="368" y="618" width="16" height="16" fill="#e8f1e6"/>
<rect x="384" y="618" width="16" height="16" fill="#e8f0e6"/>
<rect x="400" y="618" width="16" height="16" fill="#e6efe4"/>
<rect x="416" y="618" width="16" height="16" fill="#e5efe3"/>
<rect x="432" y="618" width="16" height="16" fill="#e4eee2"/>
<rect x="448" y="618" width="16" height="16" fill="#e3eee1"/>
<rect x="464" y="618" width="32" height="16" fill="#e2ede0"/>
<rect x="496" y="618" width="240" height="16" fill="#e1ecdf"/>
<rect x="736" y="618" width="16" height="16" fill="#e0ecde"/>
<rect x="752" y="618" width="16" height="16" fill="#e0ebdd"/>
<rect x="768" y="618" width="16" height="16" fill="#dfebdc"/>
<rect x="784" y="618" width="16" height="16" fill="#deeadb"/>
<rect x="800" y="618" width="16" height="16" fill="#dde9da"/>
<rect x="816" y="618" width="32" height="16" fill="#dce9da"/>
<rect x="848" y="618" width="16" height="16" fill="#ddeadb"/>
<rect x="864" y="618" width="16" height="16" fill="#deeadc"/>
<rect x="880" y="618" width="16" height="16" fill="#e0ecde"/>
<rect x="896" y="618" width="16" height="16" fill="#e3ede0"/>
<rect x="912" y="618" width="16" height="16" fill="#e5eee3"/>
<rect x="96" y="634" width="112" height="16" fill="#eef4ec"/>
<rect x="208" y="634" width="16" height="16" fill="#edf4eb"/>
<rect x="224" y="634" width="80" height="16" fill="#edf3eb"/>
<rect x="304" y="634" width="32" height="16" fill="#ecf3ea"/>
<rect x="336" y="634" width="16" height="16" fill="#ecf2ea"/>
<rect x="352" y="634" width="32" height="16" fill="#ebf2e9"/>
<rect x="384" y="634" width="16" height="16" fill="#eaf2e8"/>
<rect x="400" y="634" width="32" height="16" fill="#e9f1e7"/>
<rect x="432" y="634" width="16" height="16" fill="#e8f0e6"/>
<rect x="448" y="634" width="16" height="16" fill="#e7efe5"/>
<rect x="464" y="634" width="16" height="16" fill="#e5efe3"/>
<rect x="480" y="634" width="16" height="16" fill="#e4eee2"/>
<rect x="496" y="634" width="16" height="16" fill="#e3eee1"/>
<rect x="512" y="634" width="16" height="16" fill="#e2ede0"/>
<rect x="528" y="634" width="32" height="16" fill="#e1ecdf"/>
<rect x="560" y="634" width="32" height="16" fill="#e0ecde"/>
<rect x="592" y="634" width="32" height="16" fill="#e0ebde"/>
<rect x="624" y="634" width="32" height="16" fill="#e0ecde"/>
<rect x="656" y="634" width="16" height="16" fill="#e1ecde"/>
<rect x="672" y="634" width="64" height="16" fill="#e1ecdf"/>
<rect x="736" y="634" width="16" height="16" fill="#e0ecde"/>
<rect x="752" y="634" width="16" height="16" fill="#e0ebdd"/>
<rect x="768" y="634" width="16" height="16" fill="#dfebdc"/>
<rect x="784" y="634" width="16" height="16" fill="#deeadb"/>
<rect x="800" y="634" width="16" height="16" fill="#dde9da"/>
<rect x="816" y="634" width="16" height="16" fill="#dce9da"/>
<rect x="832" y="634" width="16" height="16" fill="#dce9d9"/>
<rect x="848" y="634" width="16" height="16" fill="#dce9da"/>
<rect x="864" y="634" width="16" height="16" fill="#deeadb"/>
<rect x="880" y="634" width="16" height="16" fill="#e0ebdd"/>
<rect x="896" y="634" width="16" height="16" fill="#e2ede0"/>
<rect x="912" y="634" width="16" height="16" fill="#e4eee2"/>
<rect x="96" y="650" width="128" height="16" fill="#eff4ed"/>
<rect x="224" y="650" width="112" height="16" fill="#eef4ec"/>
<rect x="336" y="650" width="16" height="16" fill="#edf4eb"/>
<rect x="352" y="650" width="32" height="16" fill="#edf3eb"/>
<rect x="384" y="650" width="32" height="16" fill="#ecf3ea"/>
<rect x="416" y="650" width="16" height="16" fill="#ebf2e9"/>
<rect x="432" y="650" width="16" height="16" fill="#eaf2e8"/>
<rect x="448" y="650" width="16" height="16" fill="#eaf1e8"/>
<rect x="464" y="650" width="16" height="16" fill="#e9f1e7"/>
<rect x="480" y="650" width="16" height="16" fill="#e8f0e6"/>
<rect x="496" y="650" width="16" height="16" fill="#e7f0e5"/>
<rect x="512" y="650" width="16" height="16" fill="#e6efe4"/>
<rect x="528" y="650" width="16" height="16" fill="#e5efe3"/>
<rect x="544" y="650" width="48" height="16" fill="#e4eee2"/>
<rect x="592" y="650" width="32" height="16" fill="#e4eee1"/>
<rect x="624" y="650" width="128" height="16" fill="#e4eee2"/>
<rect x="752" y="650" width="16" height="16" fill="#e3ede1"/>
<rect x="768" y="650" width="16" height="16" fill="#e2ede0"/>
<rect x="784" y="650" width="16" height="16" fill="#e1ecdf"/>
<rect x="800" y="650" width="16" height="16" fill="#e0ebdd"/>
<rect x="816" y="650" width="16" height="16" fill="#dfebdd"/>
<rect x="832" y="650" width="16" height="16" fill="#dfebdc"/>
<rect x="848" y="650" width="16" height="16" fill="#dfebdd"/>
<rect x="864" y="650" width="16" height="16" fill="#e0ecde"/>
<rect x="880" y="650" width="16" height="16" fill="#e2ede0"/>
<rect x="896" y="650" width="16" height="16" fill="#e4eee2"/>
<rect x="912" y="650" width="16" height="16" fill="#e6efe4"/>
<rect x="96" y="666" width="128" height="16" fill="#f0f5ee"/>
<rect x="224" y="666" width="96" height="16" fill="#eff5ed"/>
<rect x="320" y="666" width="48" height="16" fill="#eff4ed"/>
<rect x="368" y="666" width="48" height="16" fill="#eef4ec"/>
<rect x="416" y="666" width="32" height="16" fill="#edf3eb"/>
<rect x="448" y="666" width="32" height="16" fill="#ecf3ea"/>
<rect x="480" y="666" width="32" height="16" fill="#ebf2e9"/>
<rect x="512" y="666" width="16" height="16" fill="#eaf1e8"/>
<rect x="528" y="666" width="48" height="16" fill="#e9f1e7"/>
<rect x="576" y="666" width="80" height="16" fill="#e8f1e6"/>
<rect x="656" y="666" width="64" height="16" fill="#e9f1e7"/>
<rect x="720" y="666" width="16" height="16" fill="#e8f1e6"/>
<rect x="736" y="666" width="16" height="16" fill="#e8f0e6"/>
<rect x="752" y="666" width="16" height="16" fill="#e7f0e5"/>
<rect x="768" y="666" width="16" height="16" fill="#e6efe4"/>
<rect x="784" y="666" width="16" height="16" fill="#e5eee3"/>
<rect x="800" y="666" width="16" height="16" fill="#e4eee2"/>
<rect x="816" y="666" width="16" height="16" fill="#e3ede1"/>
<rect x="832" y="666" width="16" height="16" fill="#e3ede0"/>
<rect x="848" y="666" width="16" height="16" fill="#e3ede1"/>
<rect x="864" y="666" width="16" height="16" fill="#e4eee2"/>
<rect x="880" y="666" width="16" height="16" fill="#e5efe3"/>
<rect x="896" y="666" width="16" height="16" fill="#e7f0e5"/>
<rect x="912" y="666" width="16" height="16" fill="#e9f1e7"/>
<rect x="96" y="682" width="240" height="16" fill="#f1f5ef"/>
<rect x="336" y="682" width="16" height="16" fill="#f0f5ef"/>
<rect x="352" y="682" width="80" height="16" fill="#f0f5ee"/>
<rect x="432" y="682" width="16" height="16" fill="#eff5ed"/>
<rect x="448" y="682" width="48" height="16" fill="#eff4ed"/>
<rect x="496" y="682" width="48" height="16" fill="#eef4ec"/>
<rect x="544" y="682" width="176" height="16" fill="#edf3eb"/>
<rect x="720" y="682" width="32" height="16" fill="#ecf3ea"/>
<rect x="752" y="682" width="16" height="16" fill="#ebf2e9"/>
<rect x="768" y="682" width="16" height="16" fill="#eaf2e8"/>
<rect x="784" y="682" width="16" height="16" fill="#e9f1e7"/>
<rect x="800" y="682" width="16" height="16" fill="#e8f0e6"/>
<rect x="816" y="682" width="48" height="16" fill="#e7f0e5"/>
<rect x="864" y="682" width="16" height="16" fill="#e8f0e6"/>
<rect x="880" y="682" width="16" height="16" fill="#e9f1e7"/>
<rect x="896" y="682" width="16" height="16" fill="#eaf2e8"/>
<rect x="912" y="682" width="16" height="16" fill="#ebf2e9"/>
<rect x="96" y="698" width="192" height="16" fill="#f2f6f1"/>
<rect x="288" y="698" width="176" height="16" fill="#f2f6f0"/>
<rect x="464" y="698" width="16" height="16" fill="#f1f6f0"/>
<rect x="480" y="698" width="48" height="16" fill="#f1f6ef"/>
<rect x="528" y="698" width="144" height="16" fill="#f1f5ef"/>
<rect x="672" y="698" width="16" height="16" fill="#f0f5ef"/>
<rect x="688" y="698" width="48" height="16" fill="#f0f5ee"/>
<rect x="736" y="698" width="16" height="16" fill="#eff5ed"/>
<rect x="752" y="698" width="16" height="16" fill="#eff4ed"/>
<rect x="768" y="698" width="16" height="16" fill="#eef4ec"/>
<rect x="784" y="698" width="16" height="16" fill="#edf3eb"/>
<rect x="800" y="698" width="16" height="16" fill="#ecf3ea"/>
<rect x="816" y="698" width="64" height="16" fill="#ebf2e9"/>
<rect x="880" y="698" width="16" height="16" fill="#ecf3ea"/>
<rect x="896" y="698" width="16" height="16" fill="#edf3eb"/>
<rect x="912" y="698" width="16" height="16" fill="#eef4ec"/>
<rect x="96" y="714" width="320" height="16" fill="#f4f7f2"/>
<rect x="416" y="714" width="144" height="16" fill="#f3f7f2"/>
<rect x="560" y="714" width="160" height="16" fill="#f3f7f1"/>
<rect x="720" y="714" width="16" height="16" fill="#f2f6f1"/>
<rect x="736" y="714" width="16" height="16" fill="#f2f6f0"/>
<rect x="752" y="714" width="16" height="16" fill="#f1f6f0"/>
<rect x="768" y="714" width="16" height="16" fill="#f1f5ef"/>
<rect x="784" y="714" width="16" height="16" fill="#f0f5ee"/>
<rect x="800" y="714" width="16" height="16" fill="#eff5ed"/>
<rect x="816" y="714" width="16" height="16" fill="#eff4ed"/>
<rect x="832" y="714" width="32" height="16" fill="#eef4ec"/>
<rect x="864" y="714" width="16" height="16" fill="#eff4ed"/>
<rect x="880" y="714" width="16" height="16" fill="#eff5ed"/>
<rect x="896" y="714" width="16" height="16" fill="#f0f5ee"/>
<rect x="912" y="714" width="16" height="16" fill="#f1f5ef"/>
<rect x="96" y="730" width="576" height="16" fill="#f4f7f3"/>
<rect x="672" y="730" width="64" height="16" fill="#f4f7f2"/>
<rect x="736" y="730" width="16" height="16" fill="#f3f7f2"/>
<rect x="752" y="730" width="16" height="16" fill="#f3f7f1"/>
<rect x="768" y="730" width="16" height="16" fill="#f2f6f1"/>
<rect x="784" y="730" width="16" height="16" fill="#f2f6f0"/>
<rect x="800" y="730" width="16" height="16" fill="#f1f6ef"/>
<rect x="816" y="730" width="64" height="16" fill="#f1f5ef"/>
<rect x="880" y="730" width="16" height="16" fill="#f1f6ef"/>
<rect x="896" y="730" width="16" height="16" fill="#f2f6f0"/>
<rect x="912" y="730" width="16" height="16" fill="#f2f6f1"/>
<rect x="96" y="746" width="640" height="16" fill="#f5f8f3"/>
<rect x="736" y="746" width="32" height="16" fill="#f4f7f3"/>
<rect x="768" y="746" width="16" height="16" fill="#f4f7f2"/>
<rect x="784" y="746" width="16" height="16" fill="#f3f7f2"/>
<rect x="800" y="746" width="16" height="16" fill="#f3f7f1"/>
<rect x="816" y="746" width="16" height="16" fill="#f3f6f1"/>
<rect x="832" y="746" width="32" height="16" fill="#f2f6f1"/>
<rect x="864" y="746" width="16" height="16" fill="#f3f6f1"/>
<rect x="880" y="746" width="16" height="16" fill="#f3f7f1"/>
<rect x="896" y="746" width="16" height="16" fill="#f3f7f2"/>
<rect x="912" y="746" width="16" height="16" fill="#f4f7f2"/>
<rect x="96" y="762" width="672" height="16" fill="#f5f8f4"/>
<rect x="768" y="762" width="32" height="16" fill="#f5f8f3"/>
<rect x="800" y="762" width="32" height="16" fill="#f4f7f3"/>
<rect x="832" y="762" width="32" height="16" fill="#f4f7f2"/>
<rect x="864" y="762" width="48" height="16" fill="#f4f7f3"/>
<rect x="912" y="762" width="16" height="16" fill="#f5f8f3"/>
<rect x="96" y="778" width="608" height="16" fill="#f6f8f5"/>
<rect x="704" y="778" width="80" height="16" fill="#f6f8f4"/>
<rect x="784" y="778" width="144" height="16" fill="#f5f8f4"/>
<rect x="96" y="794" width="656" height="16" fill="#f6f8f5"/>
<rect x="752" y="794" width="176" height="16" fill="#f6f8f4"/>
<rect x="96" y="810" width="832" height="16" fill="#f6f8f5"/>
<rect x="96" y="826" width="832" height="16" fill="#f6f8f5"/>
<rect x="96" y="842" width="224" height="16" fill="#f6f8f5"/>
<rect x="320" y="842" width="144" height="16" fill="#f6f8f4"/>
<rect x="464" y="842" width="464" height="16" fill="#f6f8f5"/>
<rect x="96" y="858" width="112" height="16" fill="#f6f8f5"/>
<rect x="208" y="858" width="64" height="16" fill="#f6f8f4"/>
<rect x="272" y="858" width="48" height="16" fill="#f5f8f4"/>
<rect x="320" y="858" width="48" height="16" fill="#f5f8f3"/>
<rect x="368" y="858" width="48" height="16" fill="#f4f7f3"/>
<rect x="416" y="858" width="32" height="16" fill="#f5f8f3"/>
<rect x="448" y="858" width="32" height="16" fill="#f5f8f4"/>
<rect x="480" y="858" width="48" height="16" fill="#f6f8f4"/>
<rect x="528" y="858" width="400" height="16" fill="#f6f8f5"/>
<rect x="96" y="874" width="96" height="16" fill="#f6f8f4"/>
<rect x="192" y="874" width="64" height="16" fill="#f5f8f4"/>
<rect x="256" y="874" width="32" height="16" fill="#f5f8f3"/>
<rect x="288" y="874" width="16" height="16" fill="#f4f7f3"/>
<rect x="304" y="874" width="32" height="16" fill="#f4f7f2"/>
<rect x="336" y="874" width="16" height="16" fill="#f3f7f2"/>
<rect x="352" y="874" width="64" height="16" fill="#f3f7f1"/>
<rect x="416" y="874" width="16" height="16" fill="#f3f7f2"/>
<rect x="432" y="874" width="32" height="16" fill="#f4f7f2"/>
<rect x="464" y="874" width="16" height="16" fill="#f4f7f3"/>
<rect x="480" y="874" width="16" height="16" fill="#f5f8f3"/>
<rect x="496" y="874" width="32" height="16" fill="#f5f8f4"/>
<rect x="528" y="874" width="400" height="16" fill="#f6f8f4"/>
<rect x="96" y="890" width="96" height="16" fill="#f5f8f4"/>
<rect x="192" y="890" width="32" height="16" fill="#f5f8f3"/>
<rect x="224" y="890" width="32" height="16" fill="#f4f7f3"/>
<rect x="256" y="890" width="16" height="16" fill="#f4f7f2"/>
<rect x="272" y="890" width="16" height="16" fill="#f3f7f2"/>
<rect x="288" y="890" width="16" height="16" fill="#f3f7f1"/>
<rect x="304" y="890" width="16" height="16" fill="#f2f6f1"/>
<rect x="320" y="890" width="16" height="16" fill="#f2f6f0"/>
<rect x="336" y="890" width="16" height="16" fill="#f1f6ef"/>
<rect x="352" y="890" width="64" height="16" fill="#f1f5ef"/>
<rect x="416" y="890" width="16" height="16" fill="#f1f6ef"/>
<rect x="432" y="890" width="16" height="16" fill="#f2f6f0"/>
<rect x="448" y="890" width="16" height="16" fill="#f3f6f1"/>
<rect x="464" y="890" width="16" height="16" fill="#f3f7f2"/>
<rect x="480" y="890" width="16" height="16" fill="#f4f7f2"/>
<rect x="496" y="890" width="16" height="16" fill="#f4f7f3"/>
<rect x="512" y="890" width="16" height="16" fill="#f5f8f3"/>
<rect x="528" y="890" width="400" height="16" fill="#f5f8f4"/>
<rect x="96" y="906" width="64" height="16" fill="#f4f7f3"/>
<rect x="160" y="906" width="32" height="16" fill="#f4f7f2"/>
<rect x="192" y="906" width="16" height="16" fill="#f3f7f2"/>
<rect x="208" y="906" width="16" height="16" fill="#f3f7f1"/>
<rect x="224" y="906" width="16" height="16" fill="#f3f6f1"/>
<rect x="240" y="906" width="16" height="16" fill="#f2f6f0"/>
<rect x="256" y="906" width="16" height="16" fill="#f1f6f0"/>
<rect x="272" y="906" width="16" height="16" fill="#f1f5ef"/>
<rect x="288" y="906" width="16" height="16" fill="#f0f5ee"/>
<rect x="304" y="906" width="16" height="16" fill="#eff5ed"/>
<rect x="320" y="906" width="16" height="16" fill="#eff4ed"/>
<rect x="336" y="906" width="16" height="16" fill="#eef4ec"/>
<rect x="352" y="906" width="16" height="16" fill="#edf4eb"/>
<rect x="368" y="906" width="32" height="16" fill="#edf3eb"/>
<rect x="400" y="906" width="32" height="16" fill="#eef4ec"/>
<rect x="432" y="906" width="16" height="16" fill="#eff5ed"/>
<rect x="448" y="906" width="16" height="16" fill="#f0f5ee"/>
<rect x="464" y="906" width="16" height="16" fill="#f1f6f0"/>
<rect x="480" y="906" width="16" height="16" fill="#f2f6f1"/>
<rect x="496" y="906" width="16" height="16" fill="#f3f7f1"/>
<rect x="512" y="906" width="32" height="16" fill="#f4f7f2"/>
<rect x="544" y="906" width="384" height="16" fill="#f4f7f3"/>
<rect x="96" y="922" width="64" height="16" fill="#f3f7f1"/>
<rect x="160" y="922" width="16" height="16" fill="#f2f6f1"/>
<rect x="176" y="922" width="32" height="16" fill="#f2f6f0"/>
<rect x="208" y="922" width="16" height="16" fill="#f1f6ef"/>
<rect x="224" y="922" width="16" height="16" fill="#f0f5ee"/>
<rect x="240" y="922" width="16" height="16" fill="#eff5ed"/>
<rect x="256" y="922" width="16" height="16" fill="#eff4ed"/>
<rect x="272" y="922" width="16" height="16" fill="#eef4ec"/>
<rect x="288" y="922" width="16" height="16" fill="#edf3eb"/>
<rect x="304" y="922" width="16" height="16" fill="#ecf2ea"/>
<rect x="320" y="922" width="16" height="16" fill="#ebf2e9"/>
<rect x="336" y="922" width="16" height="16" fill="#eaf1e8"/>
<rect x="352" y="922" width="48" height="16" fill="#e9f1e7"/>
<rect x="400" y="922" width="16" height="16" fill="#eaf1e8"/>
<rect x="416" y="922" width="16" height="16" fill="#ebf2e9"/>
<rect x="432" y="922" width="16" height="16" fill="#ecf3ea"/>
<rect x="448" y="922" width="16" height="16" fill="#eef4ec"/>
<rect x="464" y="922" width="16" height="16" fill="#eff4ed"/>
<rect x="480" y="922" width="16" height="16" fill="#f0f5ee"/>
<rect x="496" y="922" width="16" height="16" fill="#f1f6ef"/>
<rect x="512" y="922" width="16" height="16" fill="#f2f6f0"/>
<rect x="528" y="922" width="16" height="16" fill="#f3f6f1"/>
<rect x="544" y="922" width="48" height="16" fill="#f3f7f1"/>
<rect x="592" y="922" width="336" height="16" fill="#f3f7f2"/>
<rect x="96" y="938" width="48" height="16" fill="#f2f6f0"/>
<rect x="144" y="938" width="16" height="16" fill="#f1f6ef"/>
<rect x="160" y="938" width="16" height="16" fill="#f1f5ef"/>
<rect x="176" y="938" width="32" height="16" fill="#f0f5ee"/>
<rect x="208" y="938" width="16" height="16" fill="#eff4ed"/>
<rect x="224" y="938" width="16" height="16" fill="#eef4ec"/>
<rect x="240" y="938" width="16" height="16" fill="#edf3eb"/>
<rect x="256" y="938" width="16" height="16" fill="#ebf2e9"/>
<rect x="272" y="938" width="16" height="16" fill="#eaf1e8"/>
<rect x="288" y="938" width="16" height="16" fill="#e8f0e6"/>
<rect x="304" y="938" width="16" height="16" fill="#e7f0e5"/>
<rect x="320" y="938" width="16" height="16" fill="#e5efe3"/>
<rect x="336" y="938" width="16" height="16" fill="#e4eee2"/>
<rect x="352" y="938" width="16" height="16" fill="#e3eee1"/>
<rect x="368" y="938" width="16" height="16" fill="#e3ede1"/>
<rect x="384" y="938" width="16" height="16" fill="#e4eee2"/>
<rect x="400" y="938" width="16" height="16" fill="#e5eee3"/>
<rect x="416" y="938" width="16" height="16" fill="#e6efe4"/>
<rect x="432" y="938" width="16" height="16" fill="#e8f1e6"/>
<rect x="448" y="938" width="16" height="16" fill="#eaf2e8"/>
<rect x="464" y="938" width="16" height="16" fill="#ecf3ea"/>
<rect x="480" y="938" width="16" height="16" fill="#eef4ec"/>
<rect x="496" y="938" width="16" height="16" fill="#eff5ed"/>
<rect x="512" y="938" width="16" height="16" fill="#f0f5ee"/>
<rect x="528" y="938" width="16" height="16" fill="#f1f6ef"/>
<rect x="544" y="938" width="384" height="16" fill="#f2f6f0"/>
<rect x="96" y="954" width="48" height="16" fill="#eef4ec"/>
<rect x="144" y="954" width="32" height="16" fill="#edf3eb"/>
<rect x="176" y="954" width="16" height="16" fill="#ecf3ea"/>
<rect x="192" y="954" width="16" height="16" fill="#ebf2e9"/>
<rect x="208" y="954" width="16" height="16" fill="#eaf1e8"/>
<rect x="224" y="954" width="16" height="16" fill="#e8f0e6"/>
<rect x="240" y="954" width="16" height="16" fill="#e6efe4"/>
<rect x="256" y="954" width="16" height="16" fill="#e5eee3"/>
<rect x="272" y="954" width="16" height="16" fill="#e2ede0"/>
<rect x="288" y="954" width="16" height="16" fill="#e0ecde"/>
<rect x="304" y="954" width="16" height="16" fill="#deeadc"/>
<rect x="320" y="954" width="16" height="16" fill="#dce9da"/>
<rect x="336" y="954" width="16" height="16" fill="#dae8d8"/>
<rect x="352" y="954" width="32" height="16" fill="#dae8d7"/>
<rect x="384" y="954" width="16" height="16" fill="#dae8d8"/>
<rect x="400" y="954" width="16" height="16" fill="#dce9da"/>
<rect x="416" y="954" width="16" height="16" fill="#dfebdd"/>
<rect x="432" y="954" width="16" height="16" fill="#e2ede0"/>
<rect x="448" y="954" width="16" height="16" fill="#e5efe3"/>
<rect x="464" y="954" width="16" height="16" fill="#e8f1e6"/>
<rect x="480" y="954" width="16" height="16" fill="#ebf2e9"/>
<rect x="496" y="954" width="16" height="16" fill="#edf3eb"/>
<rect x="512" y="954" width="16" height="16" fill="#eef4ec"/>
<rect x="528" y="954" width="16" height="16" fill="#eff4ed"/>
<rect x="544" y="954" width="48" height="16" fill="#f0f5ee"/>
<rect x="592" y="954" width="336" height="16" fill="#f1f5ef"/>
<rect x="96" y="970" width="48" height="16" fill="#e9f1e7"/>
<rect x="144" y="970" width="16" height="16" fill="#e8f1e6"/>
<rect x="160" y="970" width="16" height="16" fill="#e8f0e6"/>
<rect x="176" y="970" width="16" height="16" fill="#e7f0e5"/>
<rect x="192" y="970" width="16" height="16" fill="#e5efe3"/>
<rect x="208" y="970" width="16" height="16" fill="#e4eee2"/>
<rect x="224" y="970" width="16" height="16" fill="#e1ecdf"/>
<rect x="240" y="970" width="16" height="16" fill="#dfebdd"/>
<rect x="256" y="970" width="16" height="16" fill="#dce9da"/>
<rect x="272" y="970" width="16" height="16" fill="#d9e7d7"/>
<rect x="288" y="970" width="16" height="16" fill="#d6e6d4"/>
<rect x="304" y="970" width="16" height="16" fill="#d4e4d1"/>
<rect x="320" y="970" width="16" height="16" fill="#d1e2ce"/>
<rect x="336" y="970" width="16" height="16" fill="#cfe1cc"/>
<rect x="352" y="970" width="16" height="16" fill="#cee1cb"/>
<rect x="368" y="970" width="16" height="16" fill="#cfe1cc"/>
<rect x="384" y="970" width="16" height="16" fill="#d0e2cd"/>
<rect x="400" y="970" width="16" height="16" fill="#d3e4d0"/>
<rect x="416" y="970" width="16" height="16" fill="#d7e6d4"/>
<rect x="432" y="970" width="16" height="16" fill="#dbe9d9"/>
<rect x="448" y="970" width="16" height="16" fill="#e0ebde"/>
<rect x="464" y="970" width="16" height="16" fill="#e4eee2"/>
<rect x="480" y="970" width="16" height="16" fill="#e7f0e5"/>
<rect x="496" y="970" width="16" height="16" fill="#eaf1e8"/>
<rect x="512" y="970" width="16" height="16" fill="#ecf2ea"/>
<rect x="528" y="970" width="16" height="16" fill="#edf3eb"/>
<rect x="544" y="970" width="16" height="16" fill="#eef4ec"/>
<rect x="560" y="970" width="368" height="16" fill="#eff4ed"/>
<rect x="96" y="986" width="16" height="16" fill="#e5efe3"/>
<rect x="112" y="986" width="16" height="16" fill="#e5eee3"/>
<rect x="128" y="986" width="16" height="16" fill="#e4eee2"/>
<rect x="144" y="986" width="16" height="16" fill="#e3eee1"/>
<rect x="160" y="986" width="16" height="16" fill="#e2ede0"/>
<rect x="176" y="986" width="16" height="16" fill="#e1ecdf"/>
<rect x="192" y="986" width="16" height="16" fill="#dfebdd"/>
<rect x="208" y="986" width="16" height="16" fill="#ddeadb"/>
<rect x="224" y="986" width="16" height="16" fill="#dae8d8"/>
<rect x="240" y="986" width="16" height="16" fill="#d7e6d4"/>
<rect x="256" y="986" width="16" height="16" fill="#d4e4d1"/>
<rect x="272" y="986" width="16" height="16" fill="#d0e2ce"/>
<rect x="288" y="986" width="16" height="16" fill="#ccdfc9"/>
<rect x="304" y="986" width="16" height="16" fill="#c7dcc4"/>
<rect x="320" y="986" width="16" height="16" fill="#c3dabf"/>
<rect x="336" y="986" width="16" height="16" fill="#c0d8bc"/>
<rect x="352" y="986" width="16" height="16" fill="#bfd8bb"/>
<rect x="368" y="986" width="16" height="16" fill="#c1d9bd"/>
<rect x="384" y="986" width="16" height="16" fill="#c4dbc1"/>
<rect x="400" y="986" width="16" height="16" fill="#cadec7"/>
<rect x="416" y="986" width="16" height="16" fill="#d0e2cd"/>
<rect x="432" y="986" width="16" height="16" fill="#d6e5d3"/>
<rect x="448" y="986" width="16" height="16" fill="#dbe8d9"/>
<rect x="464" y="986" width="16" height="16" fill="#e0ebde"/>
<rect x="480" y="986" width="16" height="16" fill="#e4eee2"/>
<rect x="496" y="986" width="16" height="16" fill="#e7f0e5"/>
<rect x="512" y="986" width="16" height="16" fill="#e9f1e7"/>
<rect x="528" y="986" width="16" height="16" fill="#ebf2e9"/>
<rect x="544" y="986" width="16" height="16" fill="#ecf3ea"/>
<rect x="560" y="986" width="16" height="16" fill="#edf3eb"/>
<rect x="576" y="986" width="16" height="16" fill="#edf4eb"/>
<rect x="592" y="986" width="336" height="16" fill="#eef4ec"/>
<rect x="96" y="1002" width="16" height="16" fill="#e0ecde"/>
<rect x="112" y="1002" width="16" height="16" fill="#e0ebde"/>
<rect x="128" y="1002" width="16" height="16" fill="#dfebdd"/>
<rect x="144" y="1002" width="16" height="16" fill="#deebdc"/>
<rect x="160" y="1002" width="16" height="16" fill="#ddeadb"/>
<rect x="176" y="1002" width="16" height="16" fill="#dce9d9"/>
<rect x="192" y="1002" width="16" height="16" fill="#d9e7d7"/>
<rect x="208" y="1002" width="16" height="16" fill="#d7e6d4"/>
<rect x="224" y="1002" width="16" height="16" fill="#d4e4d1"/>
<rect x="240" y="1002" width="16" height="16" fill="#d0e1cd"/>
<rect x="256" y="1002" width="16" height="16" fill="#cbdfc7"/>
<rect x="272" y="1002" width="16" height="16" fill="#c5dbc1"/>
<rect x="288" y="1002" width="16" height="16" fill="#bfd8bb"/>
<rect x="304" y="1002" width="16" height="16" fill="#bad5b6"/>
<rect x="320" y="1002" width="16" height="16" fill="#b6d3b2"/>
<rect x="336" y="1002" width="32" height="16" fill="#b4d1af"/>
<rect x="368" y="1002" width="16" height="16" fill="#b6d3b2"/>
<rect x="384" y="1002" width="16" height="16" fill="#bbd6b7"/>
<rect x="400" y="1002" width="16" height="16" fill="#c2dabe"/>
<rect x="416" y="1002" width="16" height="16" fill="#cbdfc7"/>
<rect x="432" y="1002" width="16" height="16" fill="#d2e3cf"/>
<rect x="448" y="1002" width="16" height="16" fill="#d8e7d5"/>
<rect x="464" y="1002" width="16" height="16" fill="#ddeadb"/>
<rect x="480" y="1002" width="16" height="16" fill="#e2ede0"/>
<rect x="496" y="1002" width="16" height="16" fill="#e5efe3"/>
<rect x="512" y="1002" width="16" height="16" fill="#e8f0e6"/>
<rect x="528" y="1002" width="16" height="16" fill="#e9f1e7"/>
<rect x="544" y="1002" width="16" height="16" fill="#ebf2e9"/>
<rect x="560" y="1002" width="368" height="16" fill="#ecf3ea"/>
<rect x="96" y="1018" width="16" height="16" fill="#dbe9d9"/>
<rect x="112" y="1018" width="16" height="16" fill="#dbe8d9"/>
<rect x="128" y="1018" width="16" height="16" fill="#dae8d8"/>
<rect x="144" y="1018" width="16" height="16" fill="#d9e7d7"/>
<rect x="160" y="1018" width="16" height="16" fill="#d8e7d6"/>
<rect x="176" y="1018" width="16" height="16" fill="#d6e6d4"/>
<rect x="192" y="1018" width="16" height="16" fill="#d4e4d1"/>
<rect x="208" y="1018" width="16" height="16" fill="#d1e2ce"/>
<rect x="224" y="1018" width="16" height="16" fill="#cde0c9"/>
<rect x="240" y="1018" width="16" height="16" fill="#c6dcc3"/>
<rect x="256" y="1018" width="16" height="16" fill="#c1d9bd"/>
<rect x="272" y="1018" width="16" height="16" fill="#bbd5b6"/>
<rect x="288" y="1018" width="16" height="16" fill="#b5d2b0"/>
<rect x="304" y="1018" width="16" height="16" fill="#b0cfab"/>
<rect x="320" y="1018" width="16" height="16" fill="#adcda8"/>
<rect x="336" y="1018" width="16" height="16" fill="#abcca6"/>
<rect x="352" y="1018" width="16" height="16" fill="#accca7"/>
<rect x="368" y="1018" width="16" height="16" fill="#b0cfab"/>
<rect x="384" y="1018" width="16" height="16" fill="#b6d2b1"/>
<rect x="400" y="1018" width="16" height="16" fill="#bed7ba"/>
<rect x="416" y="1018" width="16" height="16" fill="#c7dcc3"/>
<rect x="432" y="1018" width="16" height="16" fill="#d0e2cd"/>
<rect x="448" y="1018" width="16" height="16" fill="#d6e5d3"/>
<rect x="464" y="1018" width="16" height="16" fill="#dbe9d9"/>
<rect x="480" y="1018" width="16" height="16" fill="#e0ebde"/>
<rect x="496" y="1018" width="16" height="16" fill="#e3eee1"/>
<rect x="512" y="1018" width="16" height="16" fill="#e6efe4"/>
<rect x="528" y="1018" width="16" height="16" fill="#e8f0e6"/>
<rect x="544" y="1018" width="16" height="16" fill="#e9f1e7"/>
<rect x="560" y="1018" width="16" height="16" fill="#eaf2e8"/>
<rect x="576" y="1018" width="352" height="16" fill="#ebf2e9"/>
<rect x="96" y="1034" width="16" height="16" fill="#d8e6d5"/>
<rect x="112" y="1034" width="16" height="16" fill="#d7e6d5"/>
<rect x="128" y="1034" width="16" height="16" fill="#d7e6d4"/>
<rect x="144" y="1034" width="16" height="16" fill="#d6e5d3"/>
<rect x="160" y="1034" width="16" height="16" fill="#d4e4d2"/>
<rect x="176" y="1034" width="16" height="16" fill="#d2e3cf"/>
<rect x="192" y="1034" width="16" height="16" fill="#d0e1cd"/>
<rect x="208" y="1034" width="16" height="16" fill="#cbdfc8"/>
<rect x="224" y="1034" width="16" height="16" fill="#c6dcc2"/>
<rect x="240" y="1034" width="16" height="16" fill="#bfd8bb"/>
<rect x="256" y="1034" width="16" height="16" fill="#b9d4b5"/>
<rect x="272" y="1034" width="16" height="16" fill="#b4d1af"/>
<rect x="288" y="1034" width="16" height="16" fill="#aecea9"/>
<rect x="304" y="1034" width="16" height="16" fill="#aacba5"/>
<rect x="320" y="1034" width="16" height="16" fill="#a7c9a2"/>
<rect x="336" y="1034" width="16" height="16" fill="#a6c9a1"/>
<rect x="352" y="1034" width="16" height="16" fill="#a8caa3"/>
<rect x="368" y="1034" width="16" height="16" fill="#adcda8"/>
<rect x="384" y="1034" width="16" height="16" fill="#b3d1af"/>
<rect x="400" y="1034" width="16" height="16" fill="#bcd6b8"/>
<rect x="416" y="1034" width="16" height="16" fill="#c6dcc2"/>
<rect x="432" y="1034" width="16" height="16" fill="#cfe1cc"/>
<rect x="448" y="1034" width="16" height="16" fill="#d5e5d3"/>
<rect x="464" y="1034" width="16" height="16" fill="#dbe8d8"/>
<rect x="480" y="1034" width="16" height="16" fill="#dfebdd"/>
<rect x="496" y="1034" width="16" height="16" fill="#e2ede0"/>
<rect x="512" y="1034" width="16" height="16" fill="#e5efe3"/>
<rect x="528" y="1034" width="16" height="16" fill="#e7f0e5"/>
<rect x="544" y="1034" width="16" height="16" fill="#e8f1e6"/>
<rect x="560" y="1034" width="16" height="16" fill="#eaf1e8"/>
<rect x="576" y="1034" width="352" height="16" fill="#eaf2e8"/>
<rect x="96" y="1050" width="16" height="16" fill="#d5e5d3"/>
<rect x="112" y="1050" width="16" height="16" fill="#d5e5d2"/>
<rect x="128" y="1050" width="16" height="16" fill="#d4e4d2"/>
<rect x="144" y="1050" width="16" height="16" fill="#d3e4d0"/>
<rect x="160" y="1050" width="16" height="16" fill="#d2e3cf"/>
<rect x="176" y="1050" width="16" height="16" fill="#d0e1cd"/>
<rect x="192" y="1050" width="16" height="16" fill="#ccdfc9"/>
<rect x="208" y="1050" width="16" height="16" fill="#c7dcc3"/>
<rect x="224" y="1050" width="16" height="16" fill="#c1d9bd"/>
<rect x="240" y="1050" width="16" height="16" fill="#bad5b5"/>
<rect x="256" y="1050" width="16" height="16" fill="#b4d1af"/>
<rect x="272" y="1050" width="16" height="16" fill="#aecea9"/>
<rect x="288" y="1050" width="16" height="16" fill="#aacba5"/>
<rect x="304" y="1050" width="16" height="16" fill="#a6c9a1"/>
<rect x="320" y="1050" width="16" height="16" fill="#a4c79f"/>
<rect x="336" y="1050" width="16" height="16" fill="#a4c89f"/>
<rect x="352" y="1050" width="16" height="16" fill="#a7c9a2"/>
<rect x="368" y="1050" width="16" height="16" fill="#accca7"/>
<rect x="384" y="1050" width="16" height="16" fill="#b3d1ae"/>
<rect x="400" y="1050" width="16" height="16" fill="#bcd6b8"/>
<rect x="416" y="1050" width="16" height="16" fill="#c5dbc1"/>
<rect x="432" y="1050" width="16" height="16" fill="#cee0cb"/>
<rect x="448" y="1050" width="16" height="16" fill="#d4e4d1"/>
<rect x="464" y="1050" width="16" height="16" fill="#d9e7d6"/>
<rect x="480" y="1050" width="16" height="16" fill="#ddeadb"/>
<rect x="496" y="1050" width="16" height="16" fill="#e1ecdf"/>
<rect x="512" y="1050" width="16" height="16" fill="#e4eee2"/>
<rect x="528" y="1050" width="16" height="16" fill="#e6efe4"/>
<rect x="544" y="1050" width="16" height="16" fill="#e7f0e5"/>
<rect x="560" y="1050" width="256" height="16" fill="#e9f1e7"/>
<rect x="816" y="1050" width="112" height="16" fill="#eaf1e8"/>
<rect x="96" y="1066" width="16" height="16" fill="#d4e4d2"/>
<rect x="112" y="1066" width="16" height="16" fill="#d4e4d1"/>
<rect x="128" y="1066" width="16" height="16" fill="#d3e4d0"/>
<rect x="144" y="1066" width="16" height="16" fill="#d2e3cf"/>
<rect x="160" y="1066" width="16" height="16" fill="#d0e2cd"/>
<rect x="176" y="1066" width="16" height="16" fill="#cde0ca"/>
<rect x="192" y="1066" width="16" height="16" fill="#c8ddc5"/>
<rect x="208" y="1066" width="16" height="16" fill="#c2dabe"/>
<rect x="224" y="1066" width="16" height="16" fill="#bbd6b7"/>
<rect x="240" y="1066" width="16" height="16" fill="#b4d1af"/>
<rect x="256" y="1066" width="16" height="16" fill="#aecea9"/>
<rect x="272" y="1066" width="16" height="16" fill="#a9cba4"/>
<rect x="288" y="1066" width="16" height="16" fill="#a5c8a0"/>
<rect x="304" y="1066" width="16" height="16" fill="#a3c79e"/>
<rect x="320" y="1066" width="16" height="16" fill="#a2c69d"/>
<rect x="336" y="1066" width="16" height="16" fill="#a4c79f"/>
<rect x="352" y="1066" width="16" height="16" fill="#a7caa2"/>
<rect x="368" y="1066" width="16" height="16" fill="#adcda8"/>
<rect x="384" y="1066" width="16" height="16" fill="#b4d1af"/>
<rect x="400" y="1066" width="16" height="16" fill="#bbd5b7"/>
<rect x="416" y="1066" width="16" height="16" fill="#c2dabf"/>
<rect x="432" y="1066" width="16" height="16" fill="#c9dec6"/>
<rect x="448" y="1066" width="16" height="16" fill="#d0e1cd"/>
<rect x="464" y="1066" width="16" height="16" fill="#d4e4d1"/>
<rect x="480" y="1066" width="16" height="16" fill="#d8e7d6"/>
<rect x="496" y="1066" width="16" height="16" fill="#dce9da"/>
<rect x="512" y="1066" width="16" height="16" fill="#e0ecde"/>
<rect x="528" y="1066" width="16" height="16" fill="#e3ede1"/>
<rect x="544" y="1066" width="16" height="16" fill="#e5efe3"/>
<rect x="560" y="1066" width="176" height="16" fill="#e7f0e5"/>
<rect x="736" y="1066" width="144" height="16" fill="#e8f0e6"/>
<rect x="880" y="1066" width="48" height="16" fill="#e8f1e6"/>
<rect x="96" y="1082" width="16" height="16" fill="#d4e4d1"/>
<rect x="112" y="1082" width="16" height="16" fill="#d3e4d1"/>
<rect x="128" y="1082" width="16" height="16" fill="#d3e3d0"/>
<rect x="144" y="1082" width="16" height="16" fill="#d1e2ce"/>
<rect x="160" y="1082" width="16" height="16" fill="#cfe1cc"/>
<rect x="176" y="1082" width="16" height="16" fill="#cbdec7"/>
<rect x="192" y="1082" width="16" height="16" fill="#c4dbc1"/>
<rect x="208" y="1082" width="16" height="16" fill="#bdd7b9"/>
<rect x="224" y="1082" width="16" height="16" fill="#b5d2b0"/>
<rect x="240" y="1082" width="16" height="16" fill="#accda7"/>
<rect x="256" y="1082" width="16" height="16" fill="#a6c9a1"/>
<rect x="272" y="1082" width="16" height="16" fill="#a1c69c"/>
<rect x="288" y="1082" width="32" height="16" fill="#9ec499"/>
<rect x="320" y="1082" width="16" height="16" fill="#9fc59a"/>
<rect x="336" y="1082" width="16" height="16" fill="#a3c79e"/>
<rect x="352" y="1082" width="16" height="16" fill="#a8caa3"/>
<rect x="368" y="1082" width="16" height="16" fill="#aecea9"/>
<rect x="384" y="1082" width="16" height="16" fill="#b4d1af"/>
<rect x="400" y="1082" width="16" height="16" fill="#b9d5b5"/>
<rect x="416" y="1082" width="16" height="16" fill="#bed7ba"/>
<rect x="432" y="1082" width="16" height="16" fill="#c1d9bd"/>
<rect x="448" y="1082" width="16" height="16" fill="#c5dbc1"/>
<rect x="464" y="1082" width="16" height="16" fill="#cadec6"/>
<rect x="480" y="1082" width="16" height="16" fill="#d0e2cd"/>
<rect x="496" y="1082" width="16" height="16" fill="#d5e5d3"/>
<rect x="512" y="1082" width="16" height="16" fill="#dbe8d8"/>
<rect x="528" y="1082" width="16" height="16" fill="#dfebdd"/>
<rect x="544" y="1082" width="16" height="16" fill="#e2ede0"/>
<rect x="560" y="1082" width="16" height="16" fill="#e4eee2"/>
<rect x="576" y="1082" width="160" height="16" fill="#e5efe3"/>
<rect x="736" y="1082" width="64" height="16" fill="#e6efe4"/>
<rect x="800" y="1082" width="16" height="16" fill="#e7efe5"/>
<rect x="816" y="1082" width="96" height="16" fill="#e7f0e5"/>
<rect x="912" y="1082" width="16" height="16" fill="#e8f0e6"/>
<rect x="96" y="1098" width="16" height="16" fill="#d4e4d1"/>
<rect x="112" y="1098" width="16" height="16" fill="#d3e4d1"/>
<rect x="128" y="1098" width="16" height="16" fill="#d3e3d0"/>
<rect x="144" y="1098" width="16" height="16" fill="#d1e2ce"/>
<rect x="160" y="1098" width="16" height="16" fill="#cee1cb"/>
<rect x="176" y="1098" width="16" height="16" fill="#c9dec6"/>
<rect x="192" y="1098" width="16" height="16" fill="#c2d9be"/>
<rect x="208" y="1098" width="16" height="16" fill="#b9d4b5"/>
<rect x="224" y="1098" width="16" height="16" fill="#afcfaa"/>
<rect x="240" y="1098" width="16" height="16" fill="#a6c9a1"/>
<rect x="256" y="1098" width="16" height="16" fill="#9fc49a"/>
<rect x="272" y="1098" width="16" height="16" fill="#9bc296"/>
<rect x="288" y="1098" width="16" height="16" fill="#99c094"/>
<rect x="304" y="1098" width="16" height="16" fill="#9ac195"/>
<rect x="320" y="1098" width="16" height="16" fill="#9ec399"/>
<rect x="336" y="1098" width="16" height="16" fill="#a3c79e"/>
<rect x="352" y="1098" width="16" height="16" fill="#a9cba4"/>
<rect x="368" y="1098" width="16" height="16" fill="#b0cfab"/>
<rect x="384" y="1098" width="16" height="16" fill="#b5d2b1"/>
<rect x="400" y="1098" width="16" height="16" fill="#b9d4b5"/>
<rect x="416" y="1098" width="16" height="16" fill="#bbd5b7"/>
<rect x="432" y="1098" width="16" height="16" fill="#bcd6b8"/>
<rect x="448" y="1098" width="16" height="16" fill="#bed7b9"/>
<rect x="464" y="1098" width="16" height="16" fill="#c1d9be"/>
<rect x="480" y="1098" width="16" height="16" fill="#c8ddc5"/>
<rect x="496" y="1098" width="16" height="16" fill="#d0e2cd"/>
<rect x="512" y="1098" width="16" height="16" fill="#d6e6d4"/>
<rect x="528" y="1098" width="16" height="16" fill="#dce9d9"/>
<rect x="544" y="1098" width="16" height="16" fill="#dfebdd"/>
<rect x="560" y="1098" width="16" height="16" fill="#e2ecdf"/>
<rect x="576" y="1098" width="144" height="16" fill="#e2ede0"/>
<rect x="720" y="1098" width="32" height="16" fill="#e3ede1"/>
<rect x="752" y="1098" width="48" height="16" fill="#e4eee2"/>
<rect x="800" y="1098" width="16" height="16" fill="#e5eee3"/>
<rect x="816" y="1098" width="32" height="16" fill="#e5efe3"/>
<rect x="848" y="1098" width="80" height="16" fill="#e6efe4"/>
<rect x="96" y="1114" width="16" height="16" fill="#d5e4d2"/>
<rect x="112" y="1114" width="16" height="16" fill="#d4e4d2"/>
<rect x="128" y="1114" width="16" height="16" fill="#d4e4d1"/>
<rect x="144" y="1114" width="16" height="16" fill="#d3e3d0"/>
<rect x="160" y="1114" width="16" height="16" fill="#d0e2cd"/>
<rect x="176" y="1114" width="16" height="16" fill="#ccdfc9"/>
<rect x="192" y="1114" width="16" height="16" fill="#c4dbc1"/>
<rect x="208" y="1114" width="16" height="16" fill="#bbd6b7"/>
<rect x="224" y="1114" width="16" height="16" fill="#b2d0ad"/>
<rect x="240" y="1114" width="16" height="16" fill="#a8caa3"/>
<rect x="256" y="1114" width="16" height="16" fill="#a1c69c"/>
<rect x="272" y="1114" width="16" height="16" fill="#9dc398"/>
<rect x="288" y="1114" width="16" height="16" fill="#9cc297"/>
<rect x="304" y="1114" width="16" height="16" fill="#9ec399"/>
<rect x="320" y="1114" width="16" height="16" fill="#a2c69d"/>
<rect x="336" y="1114" width="16" height="16" fill="#a8caa3"/>
<rect x="352" y="1114" width="16" height="16" fill="#aecea9"/>
<rect x="368" y="1114" width="16" height="16" fill="#b4d2b0"/>
<rect x="384" y="1114" width="16" height="16" fill="#bad5b5"/>
<rect x="400" y="1114" width="16" height="16" fill="#bed7ba"/>
<rect x="416" y="1114" width="16" height="16" fill="#c0d8bc"/>
<rect x="432" y="1114" width="16" height="16" fill="#c2d9be"/>
<rect x="448" y="1114" width="16" height="16" fill="#c4dac0"/>
<rect x="464" y="1114" width="16" height="16" fill="#c7dcc4"/>
<rect x="480" y="1114" width="16" height="16" fill="#cde0ca"/>
<rect x="496" y="1114" width="16" height="16" fill="#d2e3cf"/>
<rect x="512" y="1114" width="16" height="16" fill="#d7e6d4"/>
<rect x="528" y="1114" width="16" height="16" fill="#dbe8d8"/>
<rect x="544" y="1114" width="16" height="16" fill="#deeadb"/>
<rect x="560" y="1114" width="16" height="16" fill="#e0ebdd"/>
<rect x="576" y="1114" width="16" height="16" fill="#e0ecde"/>
<rect x="592" y="1114" width="32" height="16" fill="#e0ebde"/>
<rect x="624" y="1114" width="16" height="16" fill="#e0ebdd"/>
<rect x="640" y="1114" width="48" height="16" fill="#dfebdd"/>
<rect x="688" y="1114" width="16" height="16" fill="#e0ebdd"/>
<rect x="704" y="1114" width="32" height="16" fill="#e0ecde"/>
<rect x="736" y="1114" width="32" height="16" fill="#e1ecdf"/>
<rect x="768" y="1114" width="16" height="16" fill="#e2ede0"/>
<rect x="784" y="1114" width="32" height="16" fill="#e3ede1"/>
<rect x="816" y="1114" width="32" height="16" fill="#e4eee2"/>
<rect x="848" y="1114" width="16" height="16" fill="#e5eee3"/>
<rect x="864" y="1114" width="32" height="16" fill="#e5efe3"/>
<rect x="896" y="1114" width="32" height="16" fill="#e6efe4"/>
<rect x="96" y="1130" width="16" height="16" fill="#d6e5d3"/>
<rect x="112" y="1130" width="32" height="16" fill="#d7e6d4"/>
<rect x="144" y="1130" width="16" height="16" fill="#d6e5d3"/>
<rect x="160" y="1130" width="16" height="16" fill="#d5e4d2"/>
<rect x="176" y="1130" width="16" height="16" fill="#d2e3cf"/>
<rect x="192" y="1130" width="16" height="16" fill="#cde0ca"/>
<rect x="208" y="1130" width="16" height="16" fill="#c6dcc2"/>
<rect x="224" y="1130" width="16" height="16" fill="#bdd7b9"/>
<rect x="240" y="1130" width="16" height="16" fill="#b4d2b0"/>
<rect x="256" y="1130" width="16" height="16" fill="#aecea9"/>
<rect x="272" y="1130" width="16" height="16" fill="#abcca6"/>
<rect x="288" y="1130" width="16" height="16" fill="#a9cba4"/>
<rect x="304" y="1130" width="16" height="16" fill="#aacba5"/>
<rect x="320" y="1130" width="16" height="16" fill="#adcda8"/>
<rect x="336" y="1130" width="16" height="16" fill="#b2d0ad"/>
<rect x="352" y="1130" width="16" height="16" fill="#b7d3b2"/>
<rect x="368" y="1130" width="16" height="16" fill="#bcd6b8"/>
<rect x="384" y="1130" width="16" height="16" fill="#c1d9bd"/>
<rect x="400" y="1130" width="16" height="16" fill="#c5dbc1"/>
<rect x="416" y="1130" width="16" height="16" fill="#c8ddc4"/>
<rect x="432" y="1130" width="16" height="16" fill="#cbdec7"/>
<rect x="448" y="1130" width="16" height="16" fill="#cee0cb"/>
<rect x="464" y="1130" width="16" height="16" fill="#d0e2cd"/>
<rect x="480" y="1130" width="16" height="16" fill="#d3e4d0"/>
<rect x="496" y="1130" width="16" height="16" fill="#d6e5d4"/>
<rect x="512" y="1130" width="16" height="16" fill="#d9e7d7"/>
<rect x="528" y="1130" width="16" height="16" fill="#dce9d9"/>
<rect x="544" y="1130" width="16" height="16" fill="#ddeadb"/>
<rect x="560" y="1130" width="32" height="16" fill="#dfebdd"/>
<rect x="592" y="1130" width="16" height="16" fill="#dfebdc"/>
<rect x="608" y="1130" width="16" height="16" fill="#deebdc"/>
<rect x="624" y="1130" width="80" height="16" fill="#deeadc"/>
<rect x="704" y="1130" width="16" height="16" fill="#deebdc"/>
<rect x="720" y="1130" width="32" height="16" fill="#dfebdd"/>
<rect x="752" y="1130" width="16" height="16" fill="#e0ebde"/>
<rect x="768" y="1130" width="16" height="16" fill="#e1ecde"/>
<rect x="784" y="1130" width="16" height="16" fill="#e1ecdf"/>
<rect x="800" y="1130" width="32" height="16" fill="#e2ede0"/>
<rect x="832" y="1130" width="16" height="16" fill="#e3ede1"/>
<rect x="848" y="1130" width="16" height="16" fill="#e3eee1"/>
<rect x="864" y="1130" width="32" height="16" fill="#e4eee2"/>
<rect x="896" y="1130" width="16" height="16" fill="#e5eee3"/>
<rect x="912" y="1130" width="16" height="16" fill="#e5efe3"/>
<rect x="96" y="1146" width="16" height="16" fill="#d8e7d6"/>
<rect x="112" y="1146" width="16" height="16" fill="#d9e7d7"/>
<rect x="128" y="1146" width="16" height="16" fill="#dae8d8"/>
<rect x="144" y="1146" width="16" height="16" fill="#dbe8d8"/>
<rect x="160" y="1146" width="16" height="16" fill="#dae8d8"/>
<rect x="176" y="1146" width="16" height="16" fill="#d9e7d6"/>
<rect x="192" y="1146" width="16" height="16" fill="#d6e5d3"/>
<rect x="208" y="1146" width="16" height="16" fill="#d2e3d0"/>
<rect x="224" y="1146" width="16" height="16" fill="#cde0ca"/>
<rect x="240" y="1146" width="16" height="16" fill="#c6dcc3"/>
<rect x="256" y="1146" width="16" height="16" fill="#c1d9bd"/>
<rect x="272" y="1146" width="16" height="16" fill="#bed7b9"/>
<rect x="288" y="1146" width="16" height="16" fill="#bbd6b7"/>
<rect x="304" y="1146" width="16" height="16" fill="#bbd5b7"/>
<rect x="320" y="1146" width="16" height="16" fill="#bcd6b8"/>
<rect x="336" y="1146" width="16" height="16" fill="#bed7ba"/>
<rect x="352" y="1146" width="16" height="16" fill="#c1d9bd"/>
<rect x="368" y="1146" width="16" height="16" fill="#c4dbc0"/>
<rect x="384" y="1146" width="16" height="16" fill="#c7dcc4"/>
<rect x="400" y="1146" width="16" height="16" fill="#cadec7"/>
<rect x="416" y="1146" width="16" height="16" fill="#cde0ca"/>
<rect x="432" y="1146" width="16" height="16" fill="#d0e2cd"/>
<rect x="448" y="1146" width="16" height="16" fill="#d2e3cf"/>
<rect x="464" y="1146" width="16" height="16" fill="#d4e4d1"/>
<rect x="480" y="1146" width="16" height="16" fill="#d7e6d4"/>
<rect x="496" y="1146" width="16" height="16" fill="#d9e7d6"/>
<rect x="512" y="1146" width="16" height="16" fill="#dbe8d8"/>
<rect x="528" y="1146" width="16" height="16" fill="#dce9da"/>
<rect x="544" y="1146" width="16" height="16" fill="#deeadc"/>
<rect x="560" y="1146" width="32" height="16" fill="#dfebdd"/>
<rect x="592" y="1146" width="16" height="16" fill="#dfebdc"/>
<rect x="608" y="1146" width="16" height="16" fill="#deebdc"/>
<rect x="624" y="1146" width="32" height="16" fill="#deeadc"/>
<rect x="656" y="1146" width="64" height="16" fill="#deeadb"/>
<rect x="720" y="1146" width="16" height="16" fill="#deeadc"/>
<rect x="736" y="1146" width="16" height="16" fill="#deebdc"/>
<rect x="752" y="1146" width="32" height="16" fill="#dfebdd"/>
<rect x="784" y="1146" width="16" height="16" fill="#e0ecde"/>
<rect x="800" y="1146" width="16" height="16" fill="#e1ecde"/>
<rect x="816" y="1146" width="16" height="16" fill="#e1ecdf"/>
<rect x="832" y="1146" width="32" height="16" fill="#e2ede0"/>
<rect x="864" y="1146" width="16" height="16" fill="#e3ede1"/>
<rect x="880" y="1146" width="32" height="16" fill="#e4eee2"/>
<rect x="912" y="1146" width="16" height="16" fill="#e5eee3"/>
<rect x="96" y="1162" width="16" height="16" fill="#dbe8d8"/>
<rect x="112" y="1162" width="16" height="16" fill="#dde9da"/>
<rect x="128" y="1162" width="16" height="16" fill="#deeadc"/>
<rect x="144" y="1162" width="16" height="16" fill="#e0ebdd"/>
<rect x="160" y="1162" width="16" height="16" fill="#e0ecde"/>
<rect x="176" y="1162" width="16" height="16" fill="#e0ebdd"/>
<rect x="192" y="1162" width="16" height="16" fill="#deeadc"/>
<rect x="208" y="1162" width="16" height="16" fill="#dbe9d9"/>
<rect x="224" y="1162" width="16" height="16" fill="#d8e6d5"/>
<rect x="240" y="1162" width="16" height="16" fill="#d4e4d1"/>
<rect x="256" y="1162" width="16" height="16" fill="#d1e2ce"/>
<rect x="272" y="1162" width="16" height="16" fill="#cde0ca"/>
<rect x="288" y="1162" width="16" height="16" fill="#cadec7"/>
<rect x="304" y="1162" width="16" height="16" fill="#c8ddc5"/>
<rect x="320" y="1162" width="32" height="16" fill="#c7ddc4"/>
<rect x="352" y="1162" width="16" height="16" fill="#c8ddc5"/>
<rect x="368" y="1162" width="16" height="16" fill="#cadec6"/>
<rect x="384" y="1162" width="16" height="16" fill="#ccdfc8"/>
<rect x="400" y="1162" width="16" height="16" fill="#cee0cb"/>
<rect x="416" y="1162" width="16" height="16" fill="#d0e2cd"/>
<rect x="432" y="1162" width="16" height="16" fill="#d2e3cf"/>
<rect x="448" y="1162" width="16" height="16" fill="#d4e4d1"/>
<rect x="464" y="1162" width="16" height="16" fill="#d6e6d4"/>
<rect x="480" y="1162" width="16" height="16" fill="#d8e7d6"/>
<rect x="496" y="1162" width="16" height="16" fill="#dae8d8"/>
<rect x="512" y="1162" width="16" height="16" fill="#dce9da"/>
<rect x="528" y="1162" width="16" height="16" fill="#deeadb"/>
<rect x="544" y="1162" width="16" height="16" fill="#dfebdd"/>
<rect x="560" y="1162" width="32" height="16" fill="#e0ecde"/>
<rect x="592" y="1162" width="16" height="16" fill="#e0ebde"/>
<rect x="608" y="1162" width="32" height="16" fill="#dfebdd"/>
<rect x="640" y="1162" width="16" height="16" fill="#dfebdc"/>
<rect x="656" y="1162" width="48" height="16" fill="#deeadc"/>
<rect x="704" y="1162" width="32" height="16" fill="#deeadb"/>
<rect x="736" y="1162" width="32" height="16" fill="#deeadc"/>
<rect x="768" y="1162" width="16" height="16" fill="#deebdc"/>
<rect x="784" y="1162" width="32" height="16" fill="#dfebdd"/>
<rect x="816" y="1162" width="16" height="16" fill="#e0ecde"/>
<rect x="832" y="1162" width="32" height="16" fill="#e1ecdf"/>
<rect x="864" y="1162" width="16" height="16" fill="#e2ede0"/>
<rect x="880" y="1162" width="16" height="16" fill="#e3ede1"/>
<rect x="896" y="1162" width="32" height="16" fill="#e4eee2"/>
<rect x="96" y="1178" width="16" height="16" fill="#e0ecde"/>
<rect x="112" y="1178" width="16" height="16" fill="#e2ede0"/>
<rect x="128" y="1178" width="16" height="16" fill="#e5eee3"/>
<rect x="144" y="1178" width="16" height="16" fill="#e6efe4"/>
<rect x="160" y="1178" width="32" height="16" fill="#e7f0e5"/>
<rect x="192" y="1178" width="16" height="16" fill="#e6efe4"/>
<rect x="208" y="1178" width="16" height="16" fill="#e4eee2"/>
<rect x="224" y="1178" width="16" height="16" fill="#e1ecdf"/>
<rect x="240" y="1178" width="16" height="16" fill="#ddeadb"/>
<rect x="256" y="1178" width="16" height="16" fill="#dae8d7"/>
<rect x="272" y="1178" width="16" height="16" fill="#d6e6d4"/>
<rect x="288" y="1178" width="16" height="16" fill="#d3e4d1"/>
<rect x="304" y="1178" width="16" height="16" fill="#d1e2ce"/>
<rect x="320" y="1178" width="16" height="16" fill="#cfe1cc"/>
<rect x="336" y="1178" width="16" height="16" fill="#cee1cb"/>
<rect x="352" y="1178" width="16" height="16" fill="#cee0cb"/>
<rect x="368" y="1178" width="16" height="16" fill="#cee1cb"/>
<rect x="384" y="1178" width="16" height="16" fill="#cfe1cc"/>
<rect x="400" y="1178" width="16" height="16" fill="#d1e2ce"/>
<rect x="416" y="1178" width="16" height="16" fill="#d2e3cf"/>
<rect x="432" y="1178" width="16" height="16" fill="#d4e4d1"/>
<rect x="448" y="1178" width="16" height="16" fill="#d6e5d3"/>
<rect x="464" y="1178" width="16" height="16" fill="#d8e6d5"/>
<rect x="480" y="1178" width="16" height="16" fill="#dae8d7"/>
<rect x="496" y="1178" width="16" height="16" fill="#dbe9d9"/>
<rect x="512" y="1178" width="16" height="16" fill="#dde9da"/>
<rect x="528" y="1178" width="16" height="16" fill="#deeadc"/>
<rect x="544" y="1178" width="16" height="16" fill="#dfebdd"/>
<rect x="560" y="1178" width="16" height="16" fill="#e0ebdd"/>
<rect x="576" y="1178" width="32" height="16" fill="#dfebdd"/>
<rect x="608" y="1178" width="16" height="16" fill="#dfebdc"/>
<rect x="624" y="1178" width="16" height="16" fill="#deeadc"/>
<rect x="640" y="1178" width="16" height="16" fill="#ddeadb"/>
<rect x="656" y="1178" width="16" height="16" fill="#dde9da"/>
<rect x="672" y="1178" width="16" height="16" fill="#dce9da"/>
<rect x="688" y="1178" width="16" height="16" fill="#dce9d9"/>
<rect x="704" y="1178" width="16" height="16" fill="#dbe8d9"/>
<rect x="720" y="1178" width="16" height="16" fill="#dbe8d8"/>
<rect x="736" y="1178" width="48" height="16" fill="#dae8d8"/>
<rect x="784" y="1178" width="16" height="16" fill="#dbe8d8"/>
<rect x="800" y="1178" width="16" height="16" fill="#dbe9d9"/>
<rect x="816" y="1178" width="16" height="16" fill="#dce9d9"/>
<rect x="832" y="1178" width="16" height="16" fill="#dde9da"/>
<rect x="848" y="1178" width="16" height="16" fill="#deeadb"/>
<rect x="864" y="1178" width="16" height="16" fill="#dfebdc"/>
<rect x="880" y="1178" width="16" height="16" fill="#e0ebdd"/>
<rect x="896" y="1178" width="16" height="16" fill="#e1ecde"/>
<rect x="912" y="1178" width="16" height="16" fill="#e2ecdf"/>
<rect x="96" y="1194" width="16" height="16" fill="#e5efe3"/>
<rect x="112" y="1194" width="16" height="16" fill="#e7f0e5"/>
<rect x="128" y="1194" width="16" height="16" fill="#e9f1e7"/>
<rect x="144" y="1194" width="16" height="16" fill="#ebf2e9"/>
<rect x="160" y="1194" width="32" height="16" fill="#edf3eb"/>
<rect x="192" y="1194" width="16" height="16" fill="#ecf3ea"/>
<rect x="208" y="1194" width="16" height="16" fill="#eaf2e8"/>
<rect x="224" y="1194" width="16" height="16" fill="#e8f0e6"/>
<rect x="240" y="1194" width="16" height="16" fill="#e4eee2"/>
<rect x="256" y="1194" width="16" height="16" fill="#e1ecdf"/>
<rect x="272" y="1194" width="16" height="16" fill="#ddeadb"/>
<rect x="288" y="1194" width="16" height="16" fill="#dae8d8"/>
<rect x="304" y="1194" width="16" height="16" fill="#d8e6d5"/>
<rect x="320" y="1194" width="16" height="16" fill="#d6e5d3"/>
<rect x="336" y="1194" width="16" height="16" fill="#d4e4d2"/>
<rect x="352" y="1194" width="32" height="16" fill="#d4e4d1"/>
<rect x="384" y="1194" width="16" height="16" fill="#d4e4d2"/>
<rect x="400" y="1194" width="16" height="16" fill="#d5e5d2"/>
<rect x="416" y="1194" width="16" height="16" fill="#d6e6d4"/>
<rect x="432" y="1194" width="16" height="16" fill="#d8e6d5"/>
<rect x="448" y="1194" width="16" height="16" fill="#d9e7d7"/>
<rect x="464" y="1194" width="16" height="16" fill="#dbe8d8"/>
<rect x="480" y="1194" width="16" height="16" fill="#dce9d9"/>
<rect x="496" y="1194" width="16" height="16" fill="#ddeadb"/>
<rect x="512" y="1194" width="16" height="16" fill="#deeadc"/>
<rect x="528" y="1194" width="16" height="16" fill="#dfebdc"/>
<rect x="544" y="1194" width="48" height="16" fill="#dfebdd"/>
<rect x="592" y="1194" width="16" height="16" fill="#deebdc"/>
<rect x="608" y="1194" width="16" height="16" fill="#deeadb"/>
<rect x="624" y="1194" width="16" height="16" fill="#ddeadb"/>
<rect x="640" y="1194" width="16" height="16" fill="#dce9da"/>
<rect x="656" y="1194" width="16" height="16" fill="#dbe8d8"/>
<rect x="672" y="1194" width="16" height="16" fill="#dae8d7"/>
<rect x="688" y="1194" width="16" height="16" fill="#d9e7d6"/>
<rect x="704" y="1194" width="16" height="16" fill="#d8e6d5"/>
<rect x="720" y="1194" width="16" height="16" fill="#d7e6d4"/>
<rect x="736" y="1194" width="16" height="16" fill="#d6e5d3"/>
<rect x="752" y="1194" width="16" height="16" fill="#d5e5d3"/>
<rect x="768" y="1194" width="16" height="16" fill="#d5e5d2"/>
<rect x="784" y="1194" width="16" height="16" fill="#d5e5d3"/>
<rect x="800" y="1194" width="16" height="16" fill="#d6e5d3"/>
<rect x="816" y="1194" width="16" height="16" fill="#d6e6d4"/>
<rect x="832" y="1194" width="16" height="16" fill="#d7e6d5"/>
<rect x="848" y="1194" width="16" height="16" fill="#d9e7d6"/>
<rect x="864" y="1194" width="16" height="16" fill="#dae8d8"/>
<rect x="880" y="1194" width="16" height="16" fill="#dce9d9"/>
<rect x="896" y="1194" width="16" height="16" fill="#ddeadb"/>
<rect x="912" y="1194" width="16" height="16" fill="#dfebdc"/>
<rect x="96" y="1210" width="16" height="16" fill="#e8f1e6"/>
<rect x="112" y="1210" width="16" height="16" fill="#ebf2e9"/>
<rect x="128" y="1210" width="16" height="16" fill="#edf3eb"/>
<rect x="144" y="1210" width="16" height="16" fill="#eef4ec"/>
<rect x="160" y="1210" width="16" height="16" fill="#eff5ed"/>
<rect x="176" y="1210" width="16" height="16" fill="#f0f5ee"/>
<rect x="192" y="1210" width="16" height="16" fill="#eff4ed"/>
<rect x="208" y="1210" width="16" height="16" fill="#eef4ec"/>
<rect x="224" y="1210" width="16" height="16" fill="#ebf2e9"/>
<rect x="240" y="1210" width="16" height="16" fill="#e9f1e7"/>
<rect x="256" y="1210" width="16" height="16" fill="#e6efe4"/>
<rect x="272" y="1210" width="16" height="16" fill="#e3eee1"/>
<rect x="288" y="1210" width="16" height="16" fill="#e1ecdf"/>
<rect x="304" y="1210" width="16" height="16" fill="#dfebdd"/>
<rect x="320" y="1210" width="16" height="16" fill="#ddeadb"/>
<rect x="336" y="1210" width="16" height="16" fill="#dce9da"/>
<rect x="352" y="1210" width="48" height="16" fill="#dce9d9"/>
<rect x="400" y="1210" width="16" height="16" fill="#dce9da"/>
<rect x="416" y="1210" width="16" height="16" fill="#dde9da"/>
<rect x="432" y="1210" width="16" height="16" fill="#ddeadb"/>
<rect x="448" y="1210" width="16" height="16" fill="#deeadb"/>
<rect x="464" y="1210" width="16" height="16" fill="#deeadc"/>
<rect x="480" y="1210" width="48" height="16" fill="#dfebdd"/>
<rect x="528" y="1210" width="32" height="16" fill="#e0ebdd"/>
<rect x="560" y="1210" width="32" height="16" fill="#dfebdd"/>
<rect x="592" y="1210" width="16" height="16" fill="#deeadc"/>
<rect x="608" y="1210" width="16" height="16" fill="#ddeadb"/>
<rect x="624" y="1210" width="16" height="16" fill="#dce9da"/>
<rect x="640" y="1210" width="16" height="16" fill="#dbe8d8"/>
<rect x="656" y="1210" width="16" height="16" fill="#d9e7d7"/>
<rect x="672" y="1210" width="16" height="16" fill="#d8e6d5"/>
<rect x="688" y="1210" width="16" height="16" fill="#d6e5d4"/>
<rect x="704" y="1210" width="16" height="16" fill="#d5e5d2"/>
<rect x="720" y="1210" width="16" height="16" fill="#d3e4d0"/>
<rect x="736" y="1210" width="16" height="16" fill="#d2e3cf"/>
<rect x="752" y="1210" width="16" height="16" fill="#d1e2ce"/>
<rect x="768" y="1210" width="32" height="16" fill="#d0e2cd"/>
<rect x="800" y="1210" width="16" height="16" fill="#d0e2ce"/>
<rect x="816" y="1210" width="16" height="16" fill="#d1e2ce"/>
<rect x="832" y="1210" width="16" height="16" fill="#d3e3d0"/>
<rect x="848" y="1210" width="16" height="16" fill="#d4e4d1"/>
<rect x="864" y="1210" width="16" height="16" fill="#d6e5d3"/>
<rect x="880" y="1210" width="16" height="16" fill="#d8e7d5"/>
<rect x="896" y="1210" width="16" height="16" fill="#dae8d8"/>
<rect x="912" y="1210" width="16" height="16" fill="#dce9da"/>
<rect x="96" y="1226" width="16" height="16" fill="#eaf2e8"/>
<rect x="112" y="1226" width="16" height="16" fill="#ecf3ea"/>
<rect x="128" y="1226" width="16" height="16" fill="#edf3eb"/>
<rect x="144" y="1226" width="16" height="16" fill="#eef4ec"/>
<rect x="160" y="1226" width="16" height="16" fill="#eff4ed"/>
<rect x="176" y="1226" width="16" height="16" fill="#eef4ec"/>
<rect x="192" y="1226" width="16" height="16" fill="#edf3eb"/>
<rect x="208" y="1226" width="16" height="16" fill="#ecf3ea"/>
<rect x="224" y="1226" width="16" height="16" fill="#eaf1e8"/>
<rect x="240" y="1226" width="16" height="16" fill="#e8f0e6"/>
<rect x="256" y="1226" width="16" height="16" fill="#e6efe4"/>
<rect x="272" y="1226" width="16" height="16" fill="#e4eee2"/>
<rect x="288" y="1226" width="16" height="16" fill="#e3ede1"/>
<rect x="304" y="1226" width="32" height="16" fill="#e2ede0"/>
<rect x="336" y="1226" width="16" height="16" fill="#e2ecdf"/>
<rect x="352" y="1226" width="192" height="16" fill="#e1ecdf"/>
<rect x="544" y="1226" width="32" height="16" fill="#e0ecde"/>
<rect x="576" y="1226" width="16" height="16" fill="#dfebdd"/>
<rect x="592" y="1226" width="16" height="16" fill="#dfebdc"/>
<rect x="608" y="1226" width="16" height="16" fill="#deeadb"/>
<rect x="624" y="1226" width="16" height="16" fill="#dce9da"/>
<rect x="640" y="1226" width="16" height="16" fill="#dbe8d9"/>
<rect x="656" y="1226" width="16" height="16" fill="#dae8d7"/>
<rect x="672" y="1226" width="16" height="16" fill="#d8e6d5"/>
<rect x="688" y="1226" width="16" height="16" fill="#d6e5d3"/>
<rect x="704" y="1226" width="16" height="16" fill="#d4e4d1"/>
<rect x="720" y="1226" width="16" height="16" fill="#d2e3d0"/>
<rect x="736" y="1226" width="16" height="16" fill="#d1e2ce"/>
<rect x="752" y="1226" width="16" height="16" fill="#d0e1cd"/>
<rect x="768" y="1226" width="16" height="16" fill="#cfe1cc"/>
<rect x="784" y="1226" width="16" height="16" fill="#cee1cb"/>
<rect x="800" y="1226" width="16" height="16" fill="#cfe1cc"/>
<rect x="816" y="1226" width="16" height="16" fill="#d0e1cd"/>
<rect x="832" y="1226" width="16" height="16" fill="#d1e2ce"/>
<rect x="848" y="1226" width="16" height="16" fill="#d3e3d0"/>
<rect x="864" y="1226" width="16" height="16" fill="#d5e4d2"/>
<rect x="880" y="1226" width="16" height="16" fill="#d7e6d4"/>
<rect x="896" y="1226" width="16" height="16" fill="#d9e7d6"/>
<rect x="912" y="1226" width="16" height="16" fill="#dbe8d9"/>
<rect x="96" y="1242" width="16" height="16" fill="#e9f1e7"/>
<rect x="112" y="1242" width="16" height="16" fill="#eaf1e8"/>
<rect x="128" y="1242" width="16" height="16" fill="#eaf2e8"/>
<rect x="144" y="1242" width="16" height="16" fill="#ebf2e9"/>
<rect x="160" y="1242" width="16" height="16" fill="#eaf2e8"/>
<rect x="176" y="1242" width="16" height="16" fill="#e9f1e7"/>
<rect x="192" y="1242" width="16" height="16" fill="#e7f0e5"/>
<rect x="208" y="1242" width="16" height="16" fill="#e5efe3"/>
<rect x="224" y="1242" width="16" height="16" fill="#e3ede1"/>
<rect x="240" y="1242" width="16" height="16" fill="#e1ecdf"/>
<rect x="256" y="1242" width="16" height="16" fill="#e0ebde"/>
<rect x="272" y="1242" width="16" height="16" fill="#dfebdd"/>
<rect x="288" y="1242" width="16" height="16" fill="#e0ebde"/>
<rect x="304" y="1242" width="16" height="16" fill="#e0ecde"/>
<rect x="320" y="1242" width="16" height="16" fill="#e1ecdf"/>
<rect x="336" y="1242" width="16" height="16" fill="#e2ede0"/>
<rect x="352" y="1242" width="16" height="16" fill="#e3ede1"/>
<rect x="368" y="1242" width="16" height="16" fill="#e3eee1"/>
<rect x="384" y="1242" width="112" height="16" fill="#e4eee2"/>
<rect x="496" y="1242" width="32" height="16" fill="#e3eee1"/>
<rect x="528" y="1242" width="32" height="16" fill="#e3ede1"/>
<rect x="560" y="1242" width="32" height="16" fill="#e2ede0"/>
<rect x="592" y="1242" width="16" height="16" fill="#e1ecdf"/>
<rect x="608" y="1242" width="16" height="16" fill="#e0ecde"/>
<rect x="624" y="1242" width="16" height="16" fill="#dfebdd"/>
<rect x="640" y="1242" width="16" height="16" fill="#deeadc"/>
<rect x="656" y="1242" width="16" height="16" fill="#dde9da"/>
<rect x="672" y="1242" width="16" height="16" fill="#dbe9d9"/>
<rect x="688" y="1242" width="16" height="16" fill="#dae8d7"/>
<rect x="704" y="1242" width="16" height="16" fill="#d8e7d5"/>
<rect x="720" y="1242" width="16" height="16" fill="#d6e6d4"/>
<rect x="736" y="1242" width="16" height="16" fill="#d5e5d2"/>
<rect x="752" y="1242" width="16" height="16" fill="#d4e4d1"/>
<rect x="768" y="1242" width="16" height="16" fill="#d3e4d0"/>
<rect x="784" y="1242" width="16" height="16" fill="#d3e3d0"/>
<rect x="800" y="1242" width="16" height="16" fill="#d3e4d0"/>
<rect x="816" y="1242" width="16" height="16" fill="#d4e4d1"/>
<rect x="832" y="1242" width="16" height="16" fill="#d5e5d2"/>
<rect x="848" y="1242" width="16" height="16" fill="#d6e6d4"/>
<rect x="864" y="1242" width="16" height="16" fill="#d8e7d5"/>
<rect x="880" y="1242" width="16" height="16" fill="#dae8d7"/>
<rect x="896" y="1242" width="16" height="16" fill="#dce9d9"/>
<rect x="912" y="1242" width="16" height="16" fill="#ddeadb"/>
<rect x="96" y="1258" width="16" height="16" fill="#e8f1e6"/>
<rect x="112" y="1258" width="32" height="16" fill="#e9f1e7"/>
<rect x="144" y="1258" width="16" height="16" fill="#e8f1e6"/>
<rect x="160" y="1258" width="16" height="16" fill="#e7f0e5"/>
<rect x="176" y="1258" width="16" height="16" fill="#e6efe4"/>
<rect x="192" y="1258" width="16" height="16" fill="#e4eee2"/>
<rect x="208" y="1258" width="16" height="16" fill="#e2ede0"/>
<rect x="224" y="1258" width="16" height="16" fill="#e0ecde"/>
<rect x="240" y="1258" width="16" height="16" fill="#dfebdc"/>
<rect x="256" y="1258" width="32" height="16" fill="#deeadc"/>
<rect x="288" y="1258" width="16" height="16" fill="#dfebdd"/>
<rect x="304" y="1258" width="16" height="16" fill="#e0ecde"/>
<rect x="320" y="1258" width="16" height="16" fill="#e2ede0"/>
<rect x="336" y="1258" width="16" height="16" fill="#e3ede1"/>
<rect x="352" y="1258" width="16" height="16" fill="#e4eee2"/>
<rect x="368" y="1258" width="16" height="16" fill="#e5eee3"/>
<rect x="384" y="1258" width="144" height="16" fill="#e5efe3"/>
<rect x="528" y="1258" width="32" height="16" fill="#e5eee3"/>
<rect x="560" y="1258" width="32" height="16" fill="#e4eee2"/>
<rect x="592" y="1258" width="16" height="16" fill="#e4eee1"/>
<rect x="608" y="1258" width="16" height="16" fill="#e3ede1"/>
<rect x="624" y="1258" width="16" height="16" fill="#e2ede0"/>
<rect x="640" y="1258" width="16" height="16" fill="#e2ecdf"/>
<rect x="656" y="1258" width="16" height="16" fill="#e1ecde"/>
<rect x="672" y="1258" width="16" height="16" fill="#e0ebdd"/>
<rect x="688" y="1258" width="16" height="16" fill="#dfebdc"/>
<rect x="704" y="1258" width="16" height="16" fill="#deeadb"/>
<rect x="720" y="1258" width="16" height="16" fill="#dce9da"/>
<rect x="736" y="1258" width="16" height="16" fill="#dce9d9"/>
<rect x="752" y="1258" width="16" height="16" fill="#dbe8d8"/>
<rect x="768" y="1258" width="48" height="16" fill="#dae8d8"/>
<rect x="816" y="1258" width="16" height="16" fill="#dbe8d8"/>
<rect x="832" y="1258" width="16" height="16" fill="#dbe9d9"/>
<rect x="848" y="1258" width="16" height="16" fill="#dce9da"/>
<rect x="864" y="1258" width="16" height="16" fill="#deeadb"/>
<rect x="880" y="1258" width="16" height="16" fill="#dfebdc"/>
<rect x="896" y="1258" width="16" height="16" fill="#e0ecde"/>
<rect x="912" y="1258" width="16" height="16" fill="#e1ecdf"/>
<rect x="96" y="1274" width="64" height="16" fill="#e8f0e6"/>
<rect x="160" y="1274" width="16" height="16" fill="#e7f0e5"/>
<rect x="176" y="1274" width="16" height="16" fill="#e6efe4"/>
<rect x="192" y="1274" width="16" height="16" fill="#e5efe3"/>
<rect x="208" y="1274" width="16" height="16" fill="#e4eee2"/>
<rect x="224" y="1274" width="16" height="16" fill="#e3ede1"/>
<rect x="240" y="1274" width="48" height="16" fill="#e2ede0"/>
<rect x="288" y="1274" width="16" height="16" fill="#e3ede1"/>
<rect x="304" y="1274" width="16" height="16" fill="#e3eee1"/>
<rect x="320" y="1274" width="16" height="16" fill="#e4eee2"/>
<rect x="336" y="1274" width="16" height="16" fill="#e5eee3"/>
<rect x="352" y="1274" width="16" height="16" fill="#e5efe3"/>
<rect x="368" y="1274" width="192" height="16" fill="#e6efe4"/>
<rect x="560" y="1274" width="48" height="16" fill="#e5efe3"/>
<rect x="608" y="1274" width="16" height="16" fill="#e5eee3"/>
<rect x="624" y="1274" width="48" height="16" fill="#e4eee2"/>
<rect x="672" y="1274" width="32" height="16" fill="#e3ede1"/>
<rect x="704" y="1274" width="16" height="16" fill="#e2ede0"/>
<rect x="720" y="1274" width="16" height="16" fill="#e2ecdf"/>
<rect x="736" y="1274" width="32" height="16" fill="#e1ecdf"/>
<rect x="768" y="1274" width="48" height="16" fill="#e0ecde"/>
<rect x="816" y="1274" width="32" height="16" fill="#e1ecdf"/>
<rect x="848" y="1274" width="16" height="16" fill="#e2eddf"/>
<rect x="864" y="1274" width="16" height="16" fill="#e2ede0"/>
<rect x="880" y="1274" width="16" height="16" fill="#e3ede1"/>
<rect x="896" y="1274" width="16" height="16" fill="#e3eee1"/>
<rect x="912" y="1274" width="16" height="16" fill="#e4eee2"/>
<rect x="96" y="1290" width="16" height="16" fill="#e7f0e5"/>
<rect x="112" y="1290" width="64" height="16" fill="#e8f0e6"/>
<rect x="176" y="1290" width="48" height="16" fill="#e7f0e5"/>
<rect x="224" y="1290" width="144" height="16" fill="#e6efe4"/>
<rect x="368" y="1290" width="32" height="16" fill="#e7efe5"/>
<rect x="400" y="1290" width="48" height="16" fill="#e7f0e5"/>
<rect x="448" y="1290" width="32" height="16" fill="#e7efe5"/>
<rect x="480" y="1290" width="176" height="16" fill="#e6efe4"/>
<rect x="656" y="1290" width="64" height="16" fill="#e5efe3"/>
<rect x="720" y="1290" width="32" height="16" fill="#e5eee3"/>
<rect x="752" y="1290" width="80" height="16" fill="#e4eee2"/>
<rect x="832" y="1290" width="32" height="16" fill="#e5eee3"/>
<rect x="864" y="1290" width="48" height="16" fill="#e5efe3"/>
<rect x="912" y="1290" width="16" height="16" fill="#e6efe4"/>
<rect x="96" y="1306" width="528" height="16" fill="#e7f0e5"/>
<rect x="624" y="1306" width="16" height="16" fill="#e7efe5"/>
<rect x="640" y="1306" width="256" height="16" fill="#e6efe4"/>
<rect x="896" y="1306" width="16" height="16" fill="#e7efe5"/>
<rect x="912" y="1306" width="16" height="16" fill="#e7f0e5"/>
<rect x="96" y="1322" width="832" height="16" fill="#e7f0e5"/>
<rect x="96" y="1338" width="832" height="16" fill="#e7f0e5"/>
<rect x="96" y="1354" width="832" height="16" fill="#e8f0e6"/>
</g>
<defs><filter id="texg" x="0" y="0" width="1" height="1"><feTurbulence type="fractalNoise" baseFrequency="0.028 0.075" numOctaves="5" seed="7"/><feColorMatrix type="matrix" values="0 0 0 0 0.28  0 0 0 0 0.54  0 0 0 0 0.27  3.6 0 0 0 -1.62"/></filter><filter id="texw" x="0" y="0" width="1" height="1"><feTurbulence type="fractalNoise" baseFrequency="0.028 0.075" numOctaves="5" seed="7"/><feColorMatrix type="matrix" values="0 0 0 0 1  0 0 0 0 1  0 0 0 0 1  -3.2 0 0 0 1.42"/></filter><linearGradient id="texgrad" x1="0" y1="0" x2="0" y2="1" gradientUnits="userSpaceOnUse" gradientTransform="translate(0,0)"></linearGradient><mask id="texmask" maskUnits="userSpaceOnUse" x="120" y="40" width="780" height="1300"><rect x="120" y="40" width="780" height="1300" fill="url(#tg2)"/></mask><linearGradient id="tg2" gradientUnits="userSpaceOnUse" x1="0" y1="42" x2="0" y2="1335"><stop offset="0" stop-color="#fff"/><stop offset="0.09" stop-color="#fff"/><stop offset="0.16" stop-color="#aaa"/><stop offset="0.2" stop-color="#444"/><stop offset="0.24" stop-color="#111"/><stop offset="0.4" stop-color="#080808"/><stop offset="0.44" stop-color="#333"/><stop offset="0.52" stop-color="#333"/><stop offset="0.56" stop-color="#0a0a0a"/><stop offset="0.68" stop-color="#111"/><stop offset="0.74" stop-color="#888"/><stop offset="0.8" stop-color="#fff"/><stop offset="1" stop-color="#fff"/></linearGradient></defs>
<path d="M700.0,368.0 C696.7,368.0 686.0,379.3 680.0,385.0 C674.0,390.7 668.2,396.2 664.0,402.0 C659.8,407.8 656.5,412.8 655.0,420.0 C653.5,427.2 655.5,437.5 655.0,445.0 C654.5,452.5 652.0,458.3 652.0,465.0 C652.0,471.7 652.3,478.3 655.0,485.0 C657.7,491.7 663.0,498.3 668.0,505.0 C673.0,511.7 678.8,519.2 685.0,525.0 C691.2,530.8 698.3,536.2 705.0,540.0 C711.7,543.8 725.8,554.7 725.0,548.0 C724.2,541.3 705.8,514.7 700.0,500.0 C694.2,485.3 691.3,473.3 690.0,460.0 C688.7,446.7 690.3,432.5 692.0,420.0 C693.7,407.5 698.7,393.7 700.0,385.0 C701.3,376.3 703.3,368.0 700.0,368.0Z" fill="#9ec499" filter="url(#blur5)"/>
<path d="M750.0,50.0 C759.2,42.8 776.8,43.3 800.0,42.0 C823.2,40.7 874.2,32.3 889.0,42.0 C903.8,51.7 893.8,91.2 889.0,100.0 C884.2,108.8 869.8,98.3 860.0,95.0 C850.2,91.7 840.0,84.2 830.0,80.0 C820.0,75.8 810.0,70.8 800.0,70.0 C790.0,69.2 779.2,72.5 770.0,75.0 C760.8,77.5 748.3,89.2 745.0,85.0 C741.7,80.8 740.8,57.2 750.0,50.0Z" fill="#85b481" filter="url(#blur5)"/>
<path d="M780.0,92.0 C785.0,89.5 795.8,89.5 800.0,95.0 C804.2,100.5 806.7,117.5 805.0,125.0 C803.3,132.5 795.8,139.2 790.0,140.0 C784.2,140.8 773.3,135.0 770.0,130.0 C766.7,125.0 768.3,116.3 770.0,110.0 C771.7,103.7 775.0,94.5 780.0,92.0Z" fill="#92bc8d" filter="url(#blur5)"/>
<path d="M785.0,140.0 C787.5,138.3 792.8,143.3 800.0,145.0 C807.2,146.7 821.7,145.8 828.0,150.0 C834.3,154.2 836.3,161.7 838.0,170.0 C839.7,178.3 840.2,194.2 838.0,200.0 C835.8,205.8 828.8,208.3 825.0,205.0 C821.2,201.7 819.2,186.7 815.0,180.0 C810.8,173.3 805.0,169.2 800.0,165.0 C795.0,160.8 787.5,159.2 785.0,155.0 C782.5,150.8 782.5,141.7 785.0,140.0Z" fill="#aacba5" filter="url(#blur5)"/>
<path d="M127.0,238.0 C127.8,233.3 128.5,229.2 132.0,226.0 C135.5,222.8 143.0,221.2 148.0,219.0 C153.0,216.8 159.0,215.8 162.0,213.0 C165.0,210.2 163.3,205.3 166.0,202.0 C168.7,198.7 173.0,195.5 178.0,193.0 C183.0,190.5 191.8,186.5 196.0,187.0 C200.2,187.5 203.7,192.8 203.0,196.0 C202.3,199.2 195.8,203.0 192.0,206.0 C188.2,209.0 184.0,211.0 180.0,214.0 C176.0,217.0 172.7,221.0 168.0,224.0 C163.3,227.0 157.0,229.3 152.0,232.0 C147.0,234.7 142.2,236.3 138.0,240.0 C133.8,243.7 128.8,254.3 127.0,254.0 C125.2,253.7 126.2,242.7 127.0,238.0Z" fill="#9ec499" filter="url(#blur3)"/>
<path d="M127.0,240.0 C127.7,237.0 129.5,231.2 133.0,228.0 C136.5,224.8 143.0,223.2 148.0,221.0 C153.0,218.8 159.8,218.0 163.0,215.0 C166.2,212.0 164.5,206.3 167.0,203.0 C169.5,199.7 173.2,197.3 178.0,195.0 C182.8,192.7 193.0,189.3 196.0,189.0 C199.0,188.7 198.5,191.3 196.0,193.0 C193.5,194.7 185.2,196.7 181.0,199.0 C176.8,201.3 173.3,203.8 171.0,207.0 C168.7,210.2 170.5,215.0 167.0,218.0 C163.5,221.0 155.2,222.8 150.0,225.0 C144.8,227.2 139.5,227.5 136.0,231.0 C132.5,234.5 130.5,244.5 129.0,246.0 C127.5,247.5 126.3,243.0 127.0,240.0Z" fill="#418a42" filter="url(#blur1)"/>
<path d="M175.0,41.0 C179.5,38.7 200.3,39.2 205.0,41.0 C209.7,42.8 205.5,48.8 203.0,52.0 C200.5,55.2 194.2,59.5 190.0,60.0 C185.8,60.5 180.5,58.2 178.0,55.0 C175.5,51.8 170.5,43.3 175.0,41.0Z" fill="#9ec499" filter="url(#blur3)"/>
<path d="M150.0,495.0 C158.3,491.7 181.7,499.2 200.0,500.0 C218.3,500.8 243.3,495.0 260.0,500.0 C276.7,505.0 285.0,522.5 300.0,530.0 C315.0,537.5 336.7,535.8 350.0,545.0 C363.3,554.2 370.0,574.2 380.0,585.0 C390.0,595.8 398.3,602.5 410.0,610.0 C421.7,617.5 440.0,624.2 450.0,630.0 C460.0,635.8 473.3,641.7 470.0,645.0 C466.7,648.3 445.0,650.8 430.0,650.0 C415.0,649.2 395.0,648.3 380.0,640.0 C365.0,631.7 353.3,611.7 340.0,600.0 C326.7,588.3 313.3,581.7 300.0,570.0 C286.7,558.3 276.7,537.5 260.0,530.0 C243.3,522.5 218.3,526.7 200.0,525.0 C181.7,523.3 158.3,525.0 150.0,520.0 C141.7,515.0 141.7,498.3 150.0,495.0Z" fill="#b6d3b2" filter="url(#blur5)"/>
<path d="M505.0,660.0 C507.7,656.3 514.2,661.3 516.0,668.0 C517.8,674.7 518.7,690.5 516.0,700.0 C513.3,709.5 506.3,716.7 500.0,725.0 C493.7,733.3 482.2,737.5 478.0,750.0 C473.8,762.5 476.7,789.2 475.0,800.0 C473.3,810.8 471.3,809.2 468.0,815.0 C464.7,820.8 462.2,829.5 455.0,835.0 C447.8,840.5 435.0,843.8 425.0,848.0 C415.0,852.2 401.8,854.7 395.0,860.0 C388.2,865.3 386.8,873.3 384.0,880.0 C381.2,886.7 380.3,895.8 378.0,900.0 C375.7,904.2 373.0,905.8 370.0,905.0 C367.0,904.2 360.0,902.5 360.0,895.0 C360.0,887.5 363.3,869.5 370.0,860.0 C376.7,850.5 388.3,843.8 400.0,838.0 C411.7,832.2 430.0,832.2 440.0,825.0 C450.0,817.8 456.3,807.5 460.0,795.0 C463.7,782.5 457.8,762.5 462.0,750.0 C466.2,737.5 478.7,730.0 485.0,720.0 C491.3,710.0 496.7,700.0 500.0,690.0 C503.3,680.0 502.3,663.7 505.0,660.0Z" fill="#c9ddc5" filter="url(#blur3)"/>
<path d="M385.0,885.0 C386.3,887.5 381.3,898.3 378.0,905.0 C374.7,911.7 369.7,918.3 365.0,925.0 C360.3,931.7 355.8,936.7 350.0,945.0 C344.2,953.3 336.7,965.8 330.0,975.0 C323.3,984.2 315.8,990.8 310.0,1000.0 C304.2,1009.2 299.2,1020.0 295.0,1030.0 C290.8,1040.0 287.5,1050.8 285.0,1060.0 C282.5,1069.2 277.5,1078.3 280.0,1085.0 C282.5,1091.7 300.0,1093.3 300.0,1100.0 C300.0,1106.7 290.0,1118.3 280.0,1125.0 C270.0,1131.7 253.3,1140.0 240.0,1140.0 C226.7,1140.0 209.2,1131.7 200.0,1125.0 C190.8,1118.3 185.0,1114.2 185.0,1100.0 C185.0,1085.8 187.5,1058.3 200.0,1040.0 C212.5,1021.7 243.3,1003.3 260.0,990.0 C276.7,976.7 286.7,971.7 300.0,960.0 C313.3,948.3 328.3,931.7 340.0,920.0 C351.7,908.3 362.5,895.8 370.0,890.0 C377.5,884.2 383.7,882.5 385.0,885.0Z" fill="#9ec499" filter="url(#blur5)"/>
<path d="M720.0,545.0 C726.7,546.0 746.7,562.5 760.0,566.0 C773.3,569.5 786.7,567.3 800.0,566.0 C813.3,564.7 825.2,560.3 840.0,558.0 C854.8,555.7 880.8,549.2 889.0,552.0 C897.2,554.8 897.2,571.2 889.0,575.0 C880.8,578.8 854.8,573.3 840.0,575.0 C825.2,576.7 813.3,583.3 800.0,585.0 C786.7,586.7 773.3,589.2 760.0,585.0 C746.7,580.8 726.7,566.7 720.0,560.0 C713.3,553.3 713.3,544.0 720.0,545.0Z" fill="#c3dabf" filter="url(#blur3)"/>
<g mask="url(#texmask)">
<rect x="127.7" y="42.8" width="759.3" height="1292.2" filter="url(#texg)" opacity="0.85"/>
<rect x="127.7" y="42.8" width="759.3" height="1292.2" filter="url(#texw)" opacity="0.7"/>
</g>
<ellipse cx="195" cy="1198" rx="80" ry="42" fill="#f4f8f3" opacity="0.6" filter="url(#blur8)"/>
<ellipse cx="560" cy="910" rx="300" ry="40" fill="#f4f8f3" opacity="0.5" filter="url(#blur8)"/>
<path d="M695.0,372.0 C691.5,374.2 687.5,383.0 684.0,388.0 C680.5,393.0 677.0,397.0 674.0,402.0 C671.0,407.0 667.7,411.7 666.0,418.0 C664.3,424.3 664.7,433.3 664.0,440.0 C663.3,446.7 662.5,452.3 662.0,458.0 C661.5,463.7 660.3,468.7 661.0,474.0 C661.7,479.3 664.0,484.7 666.0,490.0 C668.0,495.3 669.7,500.7 673.0,506.0 C676.3,511.3 681.2,517.0 686.0,522.0 C690.8,527.0 696.3,532.2 702.0,536.0 C707.7,539.8 720.3,551.0 720.0,545.0 C719.7,539.0 705.0,512.5 700.0,500.0 C695.0,487.5 690.8,480.0 690.0,470.0 C689.2,460.0 694.2,451.7 695.0,440.0 C695.8,428.3 693.3,410.8 695.0,400.0 C696.7,389.2 705.0,379.7 705.0,375.0 C705.0,370.3 698.5,369.8 695.0,372.0Z" fill="#096909" filter="url(#blur1)"/>
<path d="M258.0,502.0 C259.8,501.8 263.0,510.0 266.0,514.0 C269.0,518.0 272.2,521.0 276.0,526.0 C279.8,531.0 284.2,539.8 289.0,544.0 C293.8,548.2 299.5,549.3 305.0,551.0 C310.5,552.7 316.5,552.8 322.0,554.0 C327.5,555.2 333.3,556.0 338.0,558.0 C342.7,560.0 346.3,563.0 350.0,566.0 C353.7,569.0 356.7,572.0 360.0,576.0 C363.3,580.0 366.7,585.3 370.0,590.0 C373.3,594.7 376.3,600.0 380.0,604.0 C383.7,608.0 387.8,611.3 392.0,614.0 C396.2,616.7 401.0,618.0 405.0,620.0 C409.0,622.0 412.2,624.0 416.0,626.0 C419.8,628.0 424.0,630.3 428.0,632.0 C432.0,633.7 434.7,634.7 440.0,636.0 C445.3,637.3 459.2,638.0 460.0,640.0 C460.8,642.0 451.0,647.2 445.0,648.0 C439.0,648.8 431.5,647.2 424.0,645.0 C416.5,642.8 409.0,635.8 400.0,635.0 C391.0,634.2 377.5,644.2 370.0,640.0 C362.5,635.8 358.3,620.0 355.0,610.0 C351.7,600.0 355.8,587.5 350.0,580.0 C344.2,572.5 331.7,569.2 320.0,565.0 C308.3,560.8 289.2,560.0 280.0,555.0 C270.8,550.0 269.2,541.7 265.0,535.0 C260.8,528.3 256.2,520.5 255.0,515.0 C253.8,509.5 256.2,502.2 258.0,502.0Z" fill="#096909" filter="url(#blur1)"/>
<path d="M386.0,852.0 C386.7,853.2 381.7,858.2 380.0,862.0 C378.3,865.8 377.0,870.7 376.0,875.0 C375.0,879.3 375.3,883.8 374.0,888.0 C372.7,892.2 370.0,896.7 368.0,900.0 C366.0,903.3 363.7,907.3 362.0,908.0 C360.3,908.7 357.3,907.0 358.0,904.0 C358.7,901.0 364.0,895.7 366.0,890.0 C368.0,884.3 368.3,875.8 370.0,870.0 C371.7,864.2 373.3,858.0 376.0,855.0 C378.7,852.0 385.3,850.8 386.0,852.0Z" fill="#096909" filter="url(#blur1)"/>
<path d="M366.0,903.0 C364.7,906.1 356.4,916.7 352.0,923.5 C347.6,930.3 343.9,937.3 339.5,943.8 C335.1,950.3 330.3,955.2 325.4,962.5 C320.4,969.8 315.3,979.2 309.8,987.6 C304.3,996.0 297.8,1005.0 292.6,1012.6 C287.4,1020.2 282.1,1025.6 278.5,1032.9 C274.9,1040.2 271.7,1049.9 270.7,1056.4 C269.7,1062.9 270.5,1067.6 272.3,1072.0 C274.1,1076.4 276.7,1080.4 281.6,1083.0 C286.6,1085.6 296.8,1085.0 302.0,1087.6 C307.2,1090.2 312.0,1094.7 313.0,1098.6 C314.0,1102.5 312.1,1107.2 308.2,1111.1 C304.3,1115.0 296.5,1119.1 289.5,1122.0 C282.5,1124.9 275.1,1127.0 266.0,1128.3 C256.9,1129.6 243.8,1128.9 234.7,1129.9 C225.6,1131.0 217.9,1134.9 211.3,1134.6 C204.7,1134.3 199.2,1132.1 195.0,1128.0 C190.8,1123.9 186.8,1116.3 186.0,1110.0 C185.2,1103.7 187.7,1098.3 190.0,1090.0 C192.3,1081.7 195.8,1068.3 200.0,1060.0 C204.2,1051.7 208.3,1050.0 215.0,1040.0 C221.7,1030.0 232.5,1009.2 240.0,1000.0 C247.5,990.8 250.8,989.2 260.0,985.0 C269.2,980.8 288.3,980.8 295.0,975.0 C301.7,969.2 294.2,956.7 300.0,950.0 C305.8,943.3 320.0,942.5 330.0,935.0 C340.0,927.5 354.0,910.3 360.0,905.0 C366.0,899.7 367.3,899.9 366.0,903.0Z" fill="#096909" filter="url(#blur1)"/>
<path d="M560.0,1172.0 C564.2,1169.7 585.0,1166.7 600.0,1166.0 C615.0,1165.3 633.3,1168.5 650.0,1168.0 C666.7,1167.5 685.0,1163.3 700.0,1163.0 C715.0,1162.7 736.7,1164.2 740.0,1166.0 C743.3,1167.8 731.7,1172.2 720.0,1174.0 C708.3,1175.8 686.7,1176.3 670.0,1177.0 C653.3,1177.7 635.8,1177.5 620.0,1178.0 C604.2,1178.5 585.0,1181.0 575.0,1180.0 C565.0,1179.0 555.8,1174.3 560.0,1172.0Z" fill="#98c093" filter="url(#blur2)"/>
<path d="M760.0,1160.0 C761.7,1157.7 785.0,1156.3 800.0,1156.0 C815.0,1155.7 835.7,1158.3 850.0,1158.0 C864.3,1157.7 880.0,1152.7 886.0,1154.0 C892.0,1155.3 893.7,1163.3 886.0,1166.0 C878.3,1168.7 856.0,1169.3 840.0,1170.0 C824.0,1170.7 803.3,1171.7 790.0,1170.0 C776.7,1168.3 758.3,1162.3 760.0,1160.0Z" fill="#98c093" filter="url(#blur2)"/>
<path d="M600.0,1196.0 C601.7,1193.8 633.3,1192.2 650.0,1192.0 C666.7,1191.8 693.3,1193.2 700.0,1195.0 C706.7,1196.8 700.0,1201.3 690.0,1203.0 C680.0,1204.7 655.0,1206.2 640.0,1205.0 C625.0,1203.8 598.3,1198.2 600.0,1196.0Z" fill="#98c093" filter="url(#blur2)"/>
<path d="M780.0,1200.0 C783.3,1198.0 813.3,1196.2 830.0,1196.0 C846.7,1195.8 873.3,1197.2 880.0,1199.0 C886.7,1200.8 881.7,1205.5 870.0,1207.0 C858.3,1208.5 825.0,1209.2 810.0,1208.0 C795.0,1206.8 776.7,1202.0 780.0,1200.0Z" fill="#98c093" filter="url(#blur2)"/>
<path d="M330.0,1035.0 C332.5,1029.2 350.0,1020.8 360.0,1020.0 C370.0,1019.2 386.7,1025.0 390.0,1030.0 C393.3,1035.0 387.5,1045.8 380.0,1050.0 C372.5,1054.2 353.3,1057.5 345.0,1055.0 C336.7,1052.5 327.5,1040.8 330.0,1035.0Z" fill="#98c093" filter="url(#blur2)"/>
<path d="M300.0,1075.0 C300.0,1070.3 321.7,1062.0 330.0,1062.0 C338.3,1062.0 350.0,1070.3 350.0,1075.0 C350.0,1079.7 338.3,1090.0 330.0,1090.0 C321.7,1090.0 300.0,1079.7 300.0,1075.0Z" fill="#98c093" filter="url(#blur2)"/>
<path d="M126.0,762.0 C130.0,760.0 142.7,768.3 150.0,773.0 C157.3,777.7 167.0,780.5 170.0,790.0 C173.0,799.5 168.8,816.7 168.0,830.0 C167.2,843.3 166.3,856.7 165.0,870.0 C163.7,883.3 162.0,896.7 160.0,910.0 C158.0,923.3 155.8,939.2 153.0,950.0 C150.2,960.8 145.5,965.0 143.0,975.0 C140.5,985.0 138.8,995.8 138.0,1010.0 C137.2,1024.2 137.3,1045.0 138.0,1060.0 C138.7,1075.0 144.0,1091.7 142.0,1100.0 C140.0,1108.3 128.7,1116.7 126.0,1110.0 C123.3,1103.3 126.0,1076.7 126.0,1060.0 C126.0,1043.3 125.7,1024.2 126.0,1010.0 C126.3,995.8 126.7,985.0 128.0,975.0 C129.3,965.0 132.0,960.8 134.0,950.0 C136.0,939.2 138.3,923.3 140.0,910.0 C141.7,896.7 143.0,883.3 144.0,870.0 C145.0,856.7 146.0,841.7 146.0,830.0 C146.0,818.3 145.7,806.7 144.0,800.0 C142.3,793.3 139.0,792.5 136.0,790.0 C133.0,787.5 127.7,789.7 126.0,785.0 C124.3,780.3 122.0,764.0 126.0,762.0Z" fill="#aacba5" filter="url(#blur3)"/>
<path d="M286.0,946.0 C286.5,943.2 294.3,947.8 300.0,948.0 C305.7,948.2 315.0,945.8 320.0,947.0 C325.0,948.2 330.8,950.3 330.0,955.0 C329.2,959.7 320.8,970.0 315.0,975.0 C309.2,980.0 300.0,985.0 295.0,985.0 C290.0,985.0 284.7,978.3 285.0,975.0 C285.3,971.7 296.8,969.8 297.0,965.0 C297.2,960.2 285.5,948.8 286.0,946.0Z" fill="#418a42" filter="url(#blur1)"/>
<path d="M452.0,1098.0 C453.3,1094.3 458.7,1091.7 462.0,1090.0 C465.3,1088.3 469.0,1087.3 472.0,1088.0 C475.0,1088.7 477.7,1093.7 480.0,1094.0 C482.3,1094.3 483.0,1090.3 486.0,1090.0 C489.0,1089.7 493.7,1090.7 498.0,1092.0 C502.3,1093.3 510.3,1095.7 512.0,1098.0 C513.7,1100.3 510.7,1104.3 508.0,1106.0 C505.3,1107.7 499.3,1108.3 496.0,1108.0 C492.7,1107.7 491.0,1103.7 488.0,1104.0 C485.0,1104.3 481.7,1107.7 478.0,1110.0 C474.3,1112.3 470.0,1117.7 466.0,1118.0 C462.0,1118.3 456.3,1115.3 454.0,1112.0 C451.7,1108.7 450.7,1101.7 452.0,1098.0Z" fill="#096909" filter="url(#blur1)"/>
<path d="M470.0,1112.0 C471.0,1110.3 479.0,1111.3 484.0,1112.0 C489.0,1112.7 498.3,1114.3 500.0,1116.0 C501.7,1117.7 497.7,1121.0 494.0,1122.0 C490.3,1123.0 482.0,1123.7 478.0,1122.0 C474.0,1120.3 469.0,1113.7 470.0,1112.0Z" fill="#418a42" filter="url(#blur2)"/>
<path d="M392.0,1236.0 C392.7,1232.3 397.7,1226.7 402.0,1224.0 C406.3,1221.3 413.0,1221.7 418.0,1220.0 C423.0,1218.3 426.7,1214.7 432.0,1214.0 C437.3,1213.3 444.5,1216.2 450.0,1216.0 C455.5,1215.8 460.0,1212.7 465.0,1213.0 C470.0,1213.3 474.2,1216.8 480.0,1218.0 C485.8,1219.2 494.2,1218.7 500.0,1220.0 C505.8,1221.3 510.7,1223.3 515.0,1226.0 C519.3,1228.7 526.5,1232.7 526.0,1236.0 C525.5,1239.3 516.7,1242.8 512.0,1246.0 C507.3,1249.2 503.7,1252.8 498.0,1255.0 C492.3,1257.2 485.2,1258.5 478.0,1259.0 C470.8,1259.5 462.7,1258.5 455.0,1258.0 C447.3,1257.5 439.2,1257.0 432.0,1256.0 C424.8,1255.0 417.7,1253.7 412.0,1252.0 C406.3,1250.3 401.3,1248.7 398.0,1246.0 C394.7,1243.3 391.3,1239.7 392.0,1236.0Z" fill="#418a42" filter="url(#blur2)"/>
<path d="M396.0,1238.0 C395.5,1235.0 401.0,1230.0 405.0,1228.0 C409.0,1226.0 415.8,1225.3 420.0,1226.0 C424.2,1226.7 429.3,1229.3 430.0,1232.0 C430.7,1234.7 427.7,1239.7 424.0,1242.0 C420.3,1244.3 412.7,1246.7 408.0,1246.0 C403.3,1245.3 396.5,1241.0 396.0,1238.0Z" fill="#096909" filter="url(#blur1)"/>
<path d="M436.0,1224.0 C437.0,1221.5 446.3,1218.7 452.0,1218.0 C457.7,1217.3 465.7,1218.3 470.0,1220.0 C474.3,1221.7 478.7,1225.7 478.0,1228.0 C477.3,1230.3 471.3,1233.2 466.0,1234.0 C460.7,1234.8 451.0,1234.7 446.0,1233.0 C441.0,1231.3 435.0,1226.5 436.0,1224.0Z" fill="#096909" filter="url(#blur1)"/>
<path d="M440.0,1246.0 C442.3,1243.7 451.3,1240.3 458.0,1240.0 C464.7,1239.7 473.0,1242.7 480.0,1244.0 C487.0,1245.3 498.3,1246.0 500.0,1248.0 C501.7,1250.0 496.3,1254.5 490.0,1256.0 C483.7,1257.5 469.7,1257.3 462.0,1257.0 C454.3,1256.7 447.7,1255.8 444.0,1254.0 C440.3,1252.2 437.7,1248.3 440.0,1246.0Z" fill="#096909" filter="url(#blur1)"/>
<path d="M486.0,1228.0 C487.7,1225.7 496.7,1223.7 502.0,1224.0 C507.3,1224.3 514.7,1227.7 518.0,1230.0 C521.3,1232.3 523.7,1236.0 522.0,1238.0 C520.3,1240.0 513.0,1242.0 508.0,1242.0 C503.0,1242.0 495.7,1240.3 492.0,1238.0 C488.3,1235.7 484.3,1230.3 486.0,1228.0Z" fill="#096909" filter="url(#blur1)"/>
<path d="M415.0,1250.0 C416.0,1248.3 424.5,1246.3 428.0,1247.0 C431.5,1247.7 437.0,1252.3 436.0,1254.0 C435.0,1255.7 425.5,1257.7 422.0,1257.0 C418.5,1256.3 414.0,1251.7 415.0,1250.0Z" fill="#096909" filter="url(#blur1)"/>
<path d="M240.0,1120.0 C245.8,1118.3 260.0,1121.2 270.0,1122.0 C280.0,1122.8 296.7,1122.8 300.0,1125.0 C303.3,1127.2 296.7,1133.0 290.0,1135.0 C283.3,1137.0 269.2,1137.5 260.0,1137.0 C250.8,1136.5 238.3,1134.8 235.0,1132.0 C231.7,1129.2 234.2,1121.7 240.0,1120.0Z" fill="#6ba469" filter="url(#blur3)"/>
<path d="M840.0,100.0 C842.5,98.0 850.0,96.8 855.0,96.0 C860.0,95.2 864.8,94.7 870.0,95.0 C875.2,95.3 882.8,93.0 886.0,98.0 C889.2,103.0 890.8,121.0 889.0,125.0 C887.2,129.0 879.5,121.8 875.0,122.0 C870.5,122.2 865.8,126.0 862.0,126.0 C858.2,126.0 854.3,124.3 852.0,122.0 C849.7,119.7 850.0,114.3 848.0,112.0 C846.0,109.7 841.3,110.0 840.0,108.0 C838.7,106.0 837.5,102.0 840.0,100.0Z" fill="#096909" filter="url(#blur1)"/>
<path d="M760.0,48.0 C762.2,45.3 770.0,44.5 775.0,44.0 C780.0,43.5 785.8,43.7 790.0,45.0 C794.2,46.3 800.0,49.5 800.0,52.0 C800.0,54.5 794.2,57.8 790.0,60.0 C785.8,62.2 779.7,65.0 775.0,65.0 C770.3,65.0 764.5,62.8 762.0,60.0 C759.5,57.2 757.8,50.7 760.0,48.0Z" fill="#418a42" filter="url(#blur2)"/>
<path d="M785.0,95.0 C786.5,93.3 792.5,92.5 795.0,95.0 C797.5,97.5 800.0,105.0 800.0,110.0 C800.0,115.0 797.0,123.3 795.0,125.0 C793.0,126.7 789.5,123.3 788.0,120.0 C786.5,116.7 786.5,109.2 786.0,105.0 C785.5,100.8 783.5,96.7 785.0,95.0Z" fill="#418a42" filter="url(#blur2)"/>
<path d="M770.0,574.0 C771.2,571.7 780.0,570.3 785.0,570.0 C790.0,569.7 798.3,570.0 800.0,572.0 C801.7,574.0 798.7,580.0 795.0,582.0 C791.3,584.0 782.2,585.3 778.0,584.0 C773.8,582.7 768.8,576.3 770.0,574.0Z" fill="#418a42" filter="url(#blur1)"/>
<path d="M850.0,562.0 C850.8,560.5 864.2,558.2 870.0,557.0 C875.8,555.8 882.5,554.0 885.0,555.0 C887.5,556.0 888.3,561.2 885.0,563.0 C881.7,564.8 870.8,566.2 865.0,566.0 C859.2,565.8 849.2,563.5 850.0,562.0Z" fill="#418a42" filter="url(#blur1)"/>
<path d="M155.0,513.0 C156.2,512.2 159.7,511.5 161.0,513.0 C162.3,514.5 163.2,519.2 163.0,522.0 C162.8,524.8 161.3,529.2 160.0,530.0 C158.7,530.8 156.0,529.0 155.0,527.0 C154.0,525.0 154.0,520.3 154.0,518.0 C154.0,515.7 153.8,513.8 155.0,513.0Z" fill="#096909" filter="url(#blur1)"/>
<path d="M163.0,500.0 C163.7,499.2 169.5,500.8 170.0,502.0 C170.5,503.2 167.2,507.3 166.0,507.0 C164.8,506.7 162.3,500.8 163.0,500.0Z" fill="#418a42" filter="url(#blur1)"/>
<path d="M300.0,960.0 C297.5,962.5 291.3,969.7 285.0,975.0 C278.7,980.3 268.7,986.2 262.0,992.0 C255.3,997.8 250.0,1003.7 245.0,1010.0 C240.0,1016.3 234.8,1023.3 232.0,1030.0 C229.2,1036.7 228.7,1046.7 228.0,1050.0" fill="none" stroke="#92bc8d" stroke-width="3.5" opacity="0.7" filter="url(#blur1)"/>
<path d="M330.0,945.0 C326.7,948.8 316.7,960.5 310.0,968.0 C303.3,975.5 296.3,983.0 290.0,990.0 C283.7,997.0 277.3,1002.5 272.0,1010.0 C266.7,1017.5 260.3,1030.8 258.0,1035.0" fill="none" stroke="#92bc8d" stroke-width="3.5" opacity="0.7" filter="url(#blur1)"/>
<path d="M260.0,1100.0 C258.3,1097.5 253.3,1090.0 250.0,1085.0 C246.7,1080.0 243.0,1075.0 240.0,1070.0 C237.0,1065.0 233.3,1057.5 232.0,1055.0" fill="none" stroke="#92bc8d" stroke-width="3.5" opacity="0.7" filter="url(#blur1)"/>
<path d="M225.0,1080.0 C223.3,1082.5 218.3,1090.8 215.0,1095.0 C211.7,1099.2 206.7,1103.3 205.0,1105.0" fill="none" stroke="#92bc8d" stroke-width="3.5" opacity="0.7" filter="url(#blur1)"/>
<path d="M300.0,1232.0 C308.1,1231.1 322.3,1232.6 333.5,1230.7 C344.7,1228.8 358.6,1222.9 367.0,1220.7 C375.4,1218.5 379.3,1215.1 383.8,1217.3 C388.3,1219.5 389.7,1227.8 393.9,1234.0 C398.1,1240.2 399.5,1250.0 409.0,1254.2 C418.5,1258.4 435.6,1258.6 450.9,1259.2 C466.2,1259.8 489.8,1260.4 501.0,1257.6 C512.2,1254.8 509.6,1245.0 518.0,1242.5 C526.4,1240.0 540.2,1241.1 551.4,1242.5 C562.6,1243.9 573.6,1248.2 585.0,1250.9 C596.4,1253.7 607.5,1255.8 620.0,1259.0 C632.5,1262.2 646.7,1266.5 660.0,1270.0 C673.3,1273.5 686.7,1277.5 700.0,1280.0 C713.3,1282.5 723.3,1284.0 740.0,1285.0 C756.7,1286.0 775.2,1286.2 800.0,1286.0 C824.8,1285.8 874.2,1275.0 889.0,1284.0 C903.8,1293.0 995.0,1330.7 889.0,1340.0 C783.0,1349.3 357.5,1343.0 253.0,1340.0 C148.5,1337.0 259.5,1327.0 262.0,1322.0 C264.5,1317.0 268.0,1314.0 268.0,1310.0 C268.0,1306.0 264.7,1302.2 262.0,1298.0 C259.3,1293.8 256.0,1288.8 252.0,1285.0 C248.0,1281.2 242.0,1278.8 238.0,1275.0 C234.0,1271.2 226.8,1265.8 228.0,1262.0 C229.2,1258.2 238.8,1255.2 245.0,1252.0 C251.2,1248.8 258.3,1245.7 265.0,1243.0 C271.7,1240.3 279.2,1237.8 285.0,1236.0 C290.8,1234.2 291.9,1232.9 300.0,1232.0Z" fill="#ffffff" filter="url(#blur2)"/>
<path d="M126.0,1283.0 C128.3,1278.8 136.0,1278.8 140.0,1280.0 C144.0,1281.2 149.2,1286.7 150.0,1290.0 C150.8,1293.3 149.0,1297.5 145.0,1300.0 C141.0,1302.5 129.2,1307.8 126.0,1305.0 C122.8,1302.2 123.7,1287.2 126.0,1283.0Z" fill="#ffffff" filter="url(#blur2)"/>
<path d="M576.0,1316.0 C574.3,1314.0 582.7,1309.0 590.0,1306.0 C597.3,1303.0 608.3,1300.3 620.0,1298.0 C631.7,1295.7 646.7,1293.5 660.0,1292.0 C673.3,1290.5 688.8,1289.3 700.0,1289.0 C711.2,1288.7 724.5,1288.2 727.0,1290.0 C729.5,1291.8 722.8,1297.3 715.0,1300.0 C707.2,1302.7 692.5,1304.0 680.0,1306.0 C667.5,1308.0 653.3,1310.0 640.0,1312.0 C626.7,1314.0 610.7,1317.3 600.0,1318.0 C589.3,1318.7 577.7,1318.0 576.0,1316.0Z" fill="#096909" filter="url(#blur1)"/>
<path d="M866.0,1270.0 C867.7,1267.5 876.2,1268.0 880.0,1268.0 C883.8,1268.0 887.5,1267.7 889.0,1270.0 C890.5,1272.3 892.2,1279.8 889.0,1282.0 C885.8,1284.2 873.8,1285.0 870.0,1283.0 C866.2,1281.0 864.3,1272.5 866.0,1270.0Z" fill="#418a42" filter="url(#blur1)"/>
<path d="M408.0,40.0 L414.0,44.0 L420.0,47.0 L427.0,46.0 L433.0,42.0 L436.0,40.0Z" fill="#bebebe" stroke="#555555" stroke-width="3.5" stroke-linejoin="round"/>
<path d="M126.0,41.0 L175.0,41.0 L177.0,47.0 L183.0,54.0 L190.0,57.0 L197.0,55.0 L202.0,48.0 L205.0,41.0 L228.0,41.0 L236.0,48.0 L243.0,55.0 L248.0,60.0 L252.0,64.0 L300.0,64.0 L300.0,180.0 L200.0,183.0 L193.7,190.0 L190.4,191.5 L184.0,193.0 L178.7,195.5 L173.0,199.0 L168.4,204.0 L166.0,210.0 L164.0,216.0 L157.0,219.0 L149.0,222.0 L141.0,224.0 L134.7,227.7 L131.0,234.0 L128.8,242.4 L126.0,245.0Z" fill="#bebebe" stroke="#555555" stroke-width="3.2" stroke-linejoin="round"/>
<path d="M126.0,508.0 L135.0,506.0 L142.0,505.0 L150.0,501.0 L156.0,498.0 L160.5,497.5 L163.0,501.0 L158.0,506.0 L158.0,512.0 L162.0,516.0 L167.0,508.0 L172.0,505.0 L180.0,507.0 L191.0,510.0 L194.0,515.0 L205.0,516.5 L214.5,517.0 L228.0,515.0 L241.6,513.5 L252.0,512.0 L258.0,510.0 L263.5,510.0 L265.5,516.0 L268.0,524.0 L270.0,532.0 L280.0,541.0 L289.0,549.0 L298.0,553.0 L306.0,556.0 L315.0,557.0 L323.0,557.4 L332.0,560.0 L340.0,564.0 L347.0,569.0 L353.0,576.0 L357.0,583.0 L360.0,590.0 L362.0,597.0 L363.0,603.0 L365.0,611.0 L371.0,616.0 L378.0,619.0 L383.0,619.0 L392.0,623.0 L400.0,627.0 L407.0,630.0 L413.0,634.0 L419.0,638.0 L424.0,640.0 L434.0,642.0 L445.0,643.0 L455.0,644.0 L465.0,648.0 L476.0,654.5 L485.0,660.0 L493.0,665.0 L499.0,666.0 L505.5,667.0 L509.0,677.0 L509.7,688.0 L508.0,697.0 L505.5,705.0 L500.0,713.0 L493.0,721.5 L486.0,729.0 L480.0,736.0 L474.0,741.0 L470.0,747.0 L468.0,757.0 L468.0,768.0 L468.0,776.0 L468.0,784.0 L466.0,790.0 L463.6,795.0 L461.0,802.0 L459.4,809.5 L456.0,816.0 L451.0,822.0 L445.0,828.0 L438.5,832.6 L428.0,836.0 L417.5,839.0 L409.0,842.0 L401.0,845.0 L392.0,850.0 L384.0,855.6 L380.0,861.0 L377.7,868.0 L376.5,876.0 L375.6,885.0 L372.0,891.0 L367.0,897.5 L365.2,903.6 L360.0,906.0 L356.0,908.0 L352.0,914.0 L348.0,921.0 L340.0,929.0 L332.0,936.6 L326.0,942.0 L321.0,947.6 L315.0,950.0 L308.6,950.7 L300.0,949.0 L292.0,947.0 L287.0,946.0 L292.0,950.0 L297.6,954.0 L296.0,961.7 L300.7,969.6 L297.0,976.0 L293.0,980.6 L282.0,984.0 L269.0,988.4 L259.0,989.0 L249.0,988.4 L251.0,994.0 L250.4,999.4 L245.7,1007.3 L235.0,1007.0 L223.7,1007.3 L222.2,1015.2 L228.0,1019.0 L233.2,1023.0 L228.4,1027.7 L224.0,1032.0 L219.0,1037.2 L213.0,1042.0 L208.0,1046.6 L203.0,1050.0 L200.2,1052.9 L198.6,1060.7 L203.0,1064.0 L208.0,1067.0 L214.3,1071.7 L212.0,1075.0 L208.0,1078.0 L203.0,1081.0 L198.6,1084.3 L193.0,1090.0 L187.6,1096.9 L186.0,1103.0 L186.0,1109.5 L187.0,1117.0 L189.2,1122.0 L195.0,1124.0 L205.0,1129.0 L215.0,1134.0 L222.0,1140.0 L215.0,1144.0 L205.0,1146.0 L195.0,1147.0 L185.0,1148.0 L175.0,1147.0 L165.0,1145.0 L155.0,1142.0 L145.0,1138.0 L135.0,1132.0 L126.0,1127.0 L126.0,1010.0 L133.0,1010.0 L137.0,1000.0 L138.0,985.0 L140.4,974.0 L145.0,962.0 L150.0,952.0 L154.0,935.0 L157.0,920.0 L159.0,911.0 L161.0,895.0 L162.0,880.0 L165.0,875.0 L167.0,868.0 L168.0,850.0 L170.0,830.0 L171.0,810.0 L172.0,795.0 L165.0,788.0 L158.0,782.0 L151.0,778.0 L140.0,772.0 L128.0,767.0 L126.0,767.0Z" fill="#bebebe" stroke="#555555" stroke-width="3.2" stroke-linejoin="round"/>
<path d="M787.6,271.3 L795.0,272.0 L806.0,273.0 L815.0,272.0 L825.0,270.3 L835.0,268.5 L844.0,267.5 L853.0,266.0 L862.6,264.7 L872.0,264.0 L883.0,263.8 L890.0,263.5 L890.0,558.0 L883.0,558.8 L880.0,556.0 L875.7,555.0 L868.0,556.0 L859.0,557.8 L850.0,560.0 L840.0,562.5 L830.0,567.0 L821.0,571.0 L814.0,568.0 L806.0,566.3 L797.0,567.0 L787.6,568.0 L777.0,571.0 L767.0,574.7 L760.0,570.0 L750.0,564.0 L740.7,558.8 L731.0,553.0 L722.0,547.5 L716.0,540.0 L712.5,532.0 L703.0,523.0 L693.8,513.2 L688.0,506.0 L684.4,500.0 L682.0,492.0 L680.7,485.0 L677.0,479.0 L675.0,474.0 L678.0,466.0 L682.5,457.0 L685.0,448.0 L686.3,438.2 L685.0,429.0 L682.5,421.3 L679.0,415.0 L678.8,410.0 L680.0,402.0 L682.5,395.0 L687.0,386.0 L693.8,376.3 L699.0,368.0 L705.0,361.3 L710.0,355.0 L716.3,350.0 L724.0,346.0 L731.3,342.5 L739.0,335.0 L745.0,328.0 L746.3,322.0 L747.0,316.0 L750.0,309.0 L753.8,303.1 L760.0,298.0 L768.8,291.9 L775.0,285.0 L782.0,278.8Z" fill="#bebebe" stroke="#555555" stroke-width="3.2" stroke-linejoin="round"/>
<path d="M890.0,108.0 L887.0,116.0 L884.0,122.0 L877.0,128.0 L866.6,131.3 L856.0,133.4 L850.8,136.5 L845.6,140.7 L839.3,141.8 L833.0,140.7 L827.7,142.8 L822.4,140.7 L823.5,146.0 L820.0,148.5 L814.0,149.2 L803.5,149.2 L793.0,151.3 L790.9,153.4 L797.2,157.6 L807.7,161.8 L816.1,164.9 L821.4,166.0 L826.6,174.4 L829.8,184.9 L827.7,194.3 L825.6,199.6 L814.0,200.6 L803.0,200.0 L793.0,199.6 L782.0,198.8 L772.0,198.5 L765.0,199.0 L761.5,199.6 L757.0,201.0 L756.9,205.0 L757.7,215.6 L756.0,227.0 L752.8,236.7 L749.5,246.4 L752.8,253.0 L756.0,261.0 L763.0,262.0 L770.7,262.7 L778.8,267.6 L785.3,270.8 L790.0,269.0 L795.0,267.6 L803.0,267.0 L811.3,266.0 L820.0,262.0 L827.6,257.8 L832.0,253.0 L835.7,248.0 L840.6,240.0 L845.0,235.0 L850.3,230.2 L855.0,226.0 L860.0,222.0 L864.0,217.0 L866.6,212.3 L871.0,208.0 L876.3,204.2 L880.0,202.0 L884.5,201.0 L890.0,201.0Z" fill="#bebebe" stroke="#555555" stroke-width="3.2" stroke-linejoin="round"/>
<path d="M788.8,55.7 L797.2,56.7 L803.5,52.5 L809.8,50.4 L814.0,51.5 L805.6,62.0 L798.3,63.0 L797.2,66.2 L810.0,64.5 L821.4,65.1 L817.2,72.5 L810.9,77.7 L803.5,79.8 L814.0,82.0 L822.4,83.0 L824.5,87.2 L830.8,94.5 L837.2,98.7 L839.3,100.8 L841.4,103.0 L847.7,107.1 L856.0,111.3 L856.0,115.5 L852.9,118.7 L845.6,120.8 L843.5,122.9 L848.7,126.0 L850.8,129.2 L845.6,130.8 L835.0,130.2 L824.5,129.2 L814.0,131.3 L803.5,132.3 L795.1,134.4 L788.8,137.6 L793.0,133.4 L801.4,129.2 L809.8,125.0 L817.2,121.8 L809.8,121.8 L801.4,122.9 L793.0,121.8 L797.2,117.6 L803.5,114.5 L801.4,109.2 L798.3,105.0 L801.4,100.8 L807.7,98.7 L812.0,96.6 L813.0,91.4 L809.8,89.3 L803.5,90.3 L798.3,87.2 L797.2,84.0 L793.0,80.9 L788.8,76.7 L784.6,71.4 L780.4,65.1 L782.5,58.8Z" fill="#bebebe" stroke="#555555" stroke-width="3.2" stroke-linejoin="round"/>
<path d="M748.9,97.7 L755.0,93.0 L761.5,89.3 L767.8,91.4 L775.2,88.2 L782.5,92.4 L783.0,97.0 L782.5,100.8 L781.5,105.0 L780.4,109.2 L778.0,112.0 L775.2,115.5 L768.0,117.5 L761.5,119.7 L756.0,121.0 L751.0,121.8 L745.0,120.0 L741.6,117.6 L744.0,114.0 L745.8,110.3 L743.0,107.0 L742.6,104.0 L744.0,101.0 L746.8,98.7Z" fill="#bebebe" stroke="#555555" stroke-width="4.5" stroke-linejoin="round"/>
<path d="M132.7,439.2 L137.0,432.0 L143.6,425.7 L152.0,426.0 L160.5,425.7 L170.0,428.0 L182.5,432.5 L190.9,439.2 L185.0,442.0 L170.6,442.6 L160.5,447.7 L150.0,442.0 L145.3,441.0 L133.5,441.0Z" fill="#bebebe" stroke="#555555" stroke-width="3" stroke-linejoin="round"/>
<path d="M126.0,418.0 L132.0,419.5 L137.0,423.0 L133.0,425.5 L126.0,424.5Z" fill="#bebebe" stroke="#555555" stroke-width="3" stroke-linejoin="round"/>
<path d="M126.0,1008.0 C127.5,988.5 133.0,1007.3 135.0,1011.0 C137.0,1014.7 137.2,1024.3 138.0,1030.0 C138.8,1035.7 138.8,1040.0 140.0,1045.0 C141.2,1050.0 143.3,1055.0 145.0,1060.0 C146.7,1065.0 149.0,1070.0 150.0,1075.0 C151.0,1080.0 150.2,1085.8 151.0,1090.0 C151.8,1094.2 153.5,1097.0 155.0,1100.0 C156.5,1103.0 157.5,1106.2 160.0,1108.0 C162.5,1109.8 166.7,1110.2 170.0,1111.0 C173.3,1111.8 177.0,1111.8 180.0,1113.0 C183.0,1114.2 184.7,1115.2 188.0,1118.0 C191.3,1120.8 195.5,1126.7 200.0,1130.0 C204.5,1133.3 211.2,1136.2 215.0,1138.0 C218.8,1139.8 223.0,1139.3 223.0,1141.0 C223.0,1142.7 218.3,1146.0 215.0,1148.0 C211.7,1150.0 208.0,1152.7 203.0,1153.0 C198.0,1153.3 191.3,1151.2 185.0,1150.0 C178.7,1148.8 171.7,1147.8 165.0,1146.0 C158.3,1144.2 150.0,1141.2 145.0,1139.0 C140.0,1136.8 138.2,1134.8 135.0,1133.0 C131.8,1131.2 127.5,1148.8 126.0,1128.0 C124.5,1107.2 124.5,1027.5 126.0,1008.0Z" fill="#555555" stroke="#555555" stroke-width="2"/>
<path d="M154.0,1115.0 L170.0,1115.0 L184.0,1119.0 L189.0,1126.0 L191.0,1135.0 L184.0,1140.0 L166.0,1138.0 L156.0,1130.0Z" fill="#bebebe" stroke="#555555" stroke-width="2.5" stroke-linejoin="round"/>
<path d="M136.0,1040.0 C137.2,1039.2 140.5,1050.0 141.0,1055.0 C141.5,1060.0 140.2,1069.2 139.0,1070.0 C137.8,1070.8 134.5,1065.0 134.0,1060.0 C133.5,1055.0 134.8,1040.8 136.0,1040.0Z" fill="#bebebe"/>
<path d="M131.0,1080.0 C132.5,1079.5 137.5,1088.0 138.0,1092.0 C138.5,1096.0 135.5,1103.5 134.0,1104.0 C132.5,1104.5 129.5,1099.0 129.0,1095.0 C128.5,1091.0 129.5,1080.5 131.0,1080.0Z" fill="#bebebe"/>
<path d="M142.0,1095.0 C143.7,1095.0 148.7,1101.2 149.0,1104.0 C149.3,1106.8 145.7,1112.0 144.0,1112.0 C142.3,1112.0 139.3,1106.8 139.0,1104.0 C138.7,1101.2 140.3,1095.0 142.0,1095.0Z" fill="#bebebe"/>
<path d="M126.0,1323.0 L148.0,1320.6 L171.0,1317.0 L200.0,1311.4 L203.4,1304.5 L196.5,1290.6 L191.8,1281.4 L198.8,1278.0 L206.0,1270.0 L210.0,1262.0 L217.0,1253.0 L228.0,1245.0 L246.0,1236.0 L263.0,1229.0 L284.0,1222.0 L298.0,1221.0 L303.0,1225.0 L300.0,1232.0 L288.0,1235.0 L272.0,1240.0 L256.0,1246.0 L242.0,1253.0 L230.0,1260.0 L224.0,1268.0 L232.0,1275.0 L244.0,1280.0 L253.0,1288.0 L260.0,1297.0 L266.0,1307.0 L268.0,1318.0 L260.0,1328.0 L254.0,1337.0 L126.0,1337.0Z" fill="#bebebe" stroke="#555555" stroke-width="4.5" stroke-linejoin="round"/>
<path d="M145.7,1282.6 L153.8,1278.0 L171.1,1275.7 L176.9,1279.0 L185.0,1289.5 L191.8,1301.0 L189.5,1306.8 L176.9,1310.2 L159.6,1312.5 L148.0,1311.4 L142.3,1304.5 L148.0,1295.2 L152.7,1288.3Z" fill="#bebebe" stroke="#555555" stroke-width="3.5" stroke-linejoin="round"/>
<path d="M676.0,1337.0 L680.0,1330.0 L688.0,1325.0 L694.8,1318.4 L705.0,1312.0 L715.0,1305.0 L722.7,1299.0 L735.0,1298.0 L745.0,1296.0 L759.2,1297.0 L770.0,1295.0 L785.0,1296.0 L802.2,1294.8 L815.0,1297.0 L825.0,1299.0 L834.4,1301.2 L845.0,1299.0 L860.0,1297.0 L872.0,1295.0 L883.8,1292.6 L890.0,1292.0 L890.0,1337.0Z" fill="#bebebe" stroke="#555555" stroke-width="3" stroke-linejoin="round"/>
<ellipse cx="692" cy="490" rx="5" ry="2" fill="#555555"/>
<ellipse cx="697" cy="491" rx="4" ry="1.8" fill="#555555"/>
<ellipse cx="688" cy="502" rx="4" ry="2.5" fill="#555555"/>
<ellipse cx="694" cy="506" rx="5" ry="2.5" fill="#555555"/>
<ellipse cx="700" cy="511" rx="3.5" ry="2.5" fill="#555555"/>
<ellipse cx="684" cy="497" rx="3" ry="2" fill="#555555"/>
<ellipse cx="868" cy="237" rx="5" ry="3" fill="#bebebe" stroke="#555555" stroke-width="2"/>
<ellipse cx="878.5" cy="233.5" rx="3" ry="2" fill="#bebebe" stroke="#555555" stroke-width="2"/>
<ellipse cx="856" cy="243" rx="2.5" ry="2" fill="#bebebe" stroke="#555555" stroke-width="2"/>
<ellipse cx="292" cy="1222" rx="9.0" ry="4.8999999999999995" fill="#555555"/>
<ellipse cx="278" cy="1224" rx="7.5" ry="4.199999999999999" fill="#555555"/>
<ellipse cx="262" cy="1229" rx="9.0" ry="4.199999999999999" fill="#555555"/>
<ellipse cx="248" cy="1234" rx="7.5" ry="4.199999999999999" fill="#555555"/>
<ellipse cx="236" cy="1240" rx="6.0" ry="4.199999999999999" fill="#555555"/>
<ellipse cx="224" cy="1247" rx="6.0" ry="4.199999999999999" fill="#555555"/>
<ellipse cx="214" cy="1255" rx="6.0" ry="4.8999999999999995" fill="#555555"/>
<ellipse cx="203" cy="1262" rx="6.0" ry="4.199999999999999" fill="#555555"/>
<ellipse cx="193" cy="1268" rx="6.0" ry="4.199999999999999" fill="#555555"/>
<ellipse cx="183" cy="1273" rx="6.0" ry="4.199999999999999" fill="#555555"/>
<ellipse cx="226" cy="1266" rx="4.5" ry="4.199999999999999" fill="#555555"/>
<ellipse cx="232" cy="1276" rx="6.0" ry="4.199999999999999" fill="#555555"/>
<ellipse cx="245" cy="1282" rx="5.25" ry="4.199999999999999" fill="#555555"/>
<ellipse cx="255" cy="1290" rx="5.25" ry="4.199999999999999" fill="#555555"/>
<ellipse cx="262" cy="1300" rx="4.5" ry="4.8999999999999995" fill="#555555"/>
<ellipse cx="268" cy="1310" rx="4.5" ry="5.6" fill="#555555"/>
<ellipse cx="268" cy="1322" rx="4.5" ry="4.8999999999999995" fill="#555555"/>
<ellipse cx="265" cy="1242" rx="6.0" ry="4.199999999999999" fill="#555555"/>
<ellipse cx="132" cy="1290" rx="6.0" ry="5.6" fill="#555555"/>
<ellipse cx="138" cy="1300" rx="6.0" ry="4.199999999999999" fill="#555555"/>
<ellipse cx="131" cy="1310" rx="6.0" ry="5.6" fill="#555555"/>
<ellipse cx="140" cy="1316" rx="7.5" ry="4.199999999999999" fill="#555555"/>
<path d="M771.0,58.0 C771.8,56.2 774.3,55.2 776.0,55.0 C777.7,54.8 780.5,55.7 781.0,57.0 C781.5,58.3 780.0,61.2 779.0,63.0 C778.0,64.8 776.3,67.5 775.0,68.0 C773.7,68.5 771.7,67.7 771.0,66.0 C770.3,64.3 770.2,59.8 771.0,58.0Z" fill="#555555"/>
<path d="M779.0,64.0 C780.5,62.7 784.0,61.3 786.0,62.0 C788.0,62.7 790.0,65.7 791.0,68.0 C792.0,70.3 792.2,73.3 792.0,76.0 C791.8,78.7 791.0,82.0 790.0,84.0 C789.0,86.0 787.5,87.7 786.0,88.0 C784.5,88.3 782.2,87.7 781.0,86.0 C779.8,84.3 779.7,80.7 779.0,78.0 C778.3,75.3 777.0,72.3 777.0,70.0 C777.0,67.7 777.5,65.3 779.0,64.0Z" fill="#555555"/>
<path d="M155.0,513.0 C156.3,511.8 159.7,510.7 161.0,512.0 C162.3,513.3 163.2,518.0 163.0,521.0 C162.8,524.0 161.3,528.8 160.0,530.0 C158.7,531.2 156.2,529.8 155.0,528.0 C153.8,526.2 153.0,521.5 153.0,519.0 C153.0,516.5 153.7,514.2 155.0,513.0Z" fill="#116e12" stroke="#555555" stroke-width="1.5"/>
<path d="M364.0,600.0 L371.0,602.0 L378.0,610.0 L382.0,618.0 L375.0,618.0 L368.0,612.0Z" fill="#fff"/>
<path d="M339,632 L348,626 L356,622 L362,618 M344,636 L352,630 L360,627 M366,637 L372,630 L378,625 L383,621" fill="none" stroke="#555555" stroke-width="4.5" stroke-linecap="round"/>
<path d="M259.0,1110.0 L266.0,1106.0 L273.0,1108.0 L272.0,1115.0 L264.0,1118.0 L259.0,1115.0Z" fill="#555555" stroke="#555555" stroke-width="2" stroke-linejoin="round"/>
<path d="M275.0,1108.0 L283.0,1105.0 L292.0,1107.0 L293.0,1112.0 L285.0,1118.0 L277.0,1117.0Z" fill="#555555" stroke="#555555" stroke-width="2" stroke-linejoin="round"/>
<path d="M477.7,1133.0 L485.0,1132.0 L493.0,1136.0 L501.0,1141.0 L498.0,1143.5 L490.0,1141.0 L480.0,1137.5Z" fill="#555555" stroke="#555555" stroke-width="2" stroke-linejoin="round"/>
<path d="M402.0,1196.0 L410.0,1195.0 L419.0,1197.5 L411.0,1199.5Z" fill="#555555" stroke="#555555" stroke-width="2" stroke-linejoin="round"/>
<circle cx="542.8" cy="239.6" r="2.2" fill="#555555"/>
<circle cx="566" cy="248" r="2.2" fill="#555555"/>
<circle cx="570.5" cy="247.5" r="2" fill="#555555"/>
<circle cx="581.2" cy="246.4" r="2.4" fill="#555555"/>
<circle cx="595" cy="254.5" r="2.4" fill="#555555"/>
<circle cx="600" cy="256" r="2" fill="#555555"/>
<circle cx="677" cy="302" r="2.2" fill="#555555"/>
<circle cx="683" cy="300.5" r="2" fill="#555555"/>
<circle cx="668" cy="345" r="2" fill="#555555"/>
<circle cx="673" cy="341" r="1.8" fill="#555555"/>
<circle cx="678" cy="348" r="2.2" fill="#555555"/>
<circle cx="685" cy="346.5" r="2" fill="#555555"/>
<circle cx="691" cy="345.5" r="2.5" fill="#555555"/>
<circle cx="696" cy="350" r="2.5" fill="#555555"/>
<circle cx="706" cy="342" r="2.2" fill="#555555"/>
<circle cx="711" cy="337" r="2.2" fill="#555555"/>
<circle cx="603" cy="456" r="2.2" fill="#555555"/>
<circle cx="612" cy="455" r="2" fill="#555555"/>
<circle cx="618" cy="458" r="2" fill="#555555"/>
<circle cx="600" cy="471" r="2.2" fill="#555555"/>
<circle cx="607" cy="472" r="2.2" fill="#555555"/>
<circle cx="614" cy="470" r="2" fill="#555555"/>
<circle cx="703.2" cy="692.9" r="1.8" fill="#555555"/>
<circle cx="785.1" cy="769.8" r="1.8" fill="#555555"/>
<circle cx="531.8" cy="653.6" r="1.8" fill="#555555"/>
<circle cx="561" cy="607.8" r="1.6" fill="#555555"/>
<circle cx="551.3" cy="812.9" r="1.5" fill="#555555"/>
<circle cx="555.5" cy="812.9" r="1.5" fill="#555555"/>
<circle cx="723.3" cy="972.3" r="1.8" fill="#555555"/>
<circle cx="744.7" cy="1003" r="1.8" fill="#555555"/>
<circle cx="871.6" cy="1138" r="1.8" fill="#555555"/>
<circle cx="577" cy="1155" r="1.5" fill="#555555"/>
<circle cx="580" cy="1160" r="1.5" fill="#555555"/>
<circle cx="583" cy="1165" r="1.6" fill="#555555"/>
<circle cx="586" cy="1170" r="1.6" fill="#555555"/>
<circle cx="587" cy="1176" r="1.6" fill="#555555"/>
<circle cx="587" cy="1182" r="1.6" fill="#555555"/>
<circle cx="584" cy="1186" r="1.5" fill="#555555"/>
<circle cx="255" cy="458" r="2" fill="#555555"/>
<circle cx="256" cy="464" r="1.8" fill="#555555"/>
<circle cx="258" cy="470" r="2" fill="#555555"/>
<circle cx="259" cy="477" r="1.8" fill="#555555"/>
<circle cx="259" cy="483" r="1.8" fill="#555555"/>
<circle cx="257" cy="490" r="1.8" fill="#555555"/>
<circle cx="254" cy="497" r="1.8" fill="#555555"/>
<circle cx="253" cy="502" r="1.6" fill="#555555"/>
<circle cx="274" cy="490" r="1.8" fill="#555555"/>
<circle cx="168" cy="500" r="1.8" fill="#555555"/>
<circle cx="175" cy="500.5" r="1.8" fill="#555555"/>
<circle cx="182" cy="501" r="1.6" fill="#555555"/>
<circle cx="196" cy="500" r="1.5" fill="#555555"/>
<circle cx="231" cy="504.5" r="2.2" fill="#555555"/>
<circle cx="133" cy="388" r="3" fill="#555555"/>
<circle cx="137" cy="385" r="2" fill="#555555"/>
<circle cx="148" cy="399" r="3" fill="#555555"/>
<circle cx="152" cy="402" r="2.5" fill="#555555"/>
<circle cx="143" cy="413" r="3" fill="#555555"/>
<circle cx="157" cy="408" r="2.5" fill="#555555"/>
<circle cx="130" cy="378" r="2" fill="#555555"/>
<circle cx="160" cy="411" r="2" fill="#555555"/>
<path d="M127.0,186.0 L159.6,186.0 L162.0,176.0 L163.0,169.0" fill="none" stroke="#555555" stroke-width="2" stroke-linejoin="round"/>
<path d="M153.7,503.5 L143.6,527.1 L150.3,535.6 L152.0,545.7 L167.2,549.1 L179.0,555.8 L195.9,556.7 L199.3,560.9 L195.9,574.4 L197.6,591.3 L201.0,596.4 L207.7,608.2 L216.2,609.9 L229.7,604.8 L236.4,594.7 L229.7,589.6 L229.7,577.8 L226.3,576.1 L234.7,581.2 L251.6,576.1 L265.1,569.4 L268.5,571.0 L271.9,591.3 L280.3,604.8 L293.8,599.7 L304.0,598.0 L310.7,598.0 L324.2,594.7 L341.1,591.3 L349.5,576.1" fill="none" stroke="#555555" stroke-width="2" stroke-linejoin="round"/>
<path d="M265.1,569.4 L258.4,557.5 L265.1,549.1 L265.1,537.3 L268.5,532.0" fill="none" stroke="#555555" stroke-width="2" stroke-linejoin="round"/>
<path d="M293.8,560.9 L288.8,574.4 L293.8,587.9 L300.6,598.0" fill="none" stroke="#555555" stroke-width="2" stroke-linejoin="round"/>
<path d="M324.2,562.6 L322.5,574.4 L326.0,591.3 L324.2,594.7" fill="none" stroke="#555555" stroke-width="2" stroke-linejoin="round"/>
<path d="M128.4,620.0 L141.9,635.2 L158.8,638.6 L172.3,642.0 L174.0,652.1" fill="none" stroke="#555555" stroke-width="2" stroke-linejoin="round"/>
<path d="M174.0,608.2 L180.7,628.4 L175.6,655.5 L158.8,658.8 L147.0,667.3 L138.5,684.2 L145.3,706.1 L158.8,712.9 L168.9,707.8 L170.6,721.3 L182.4,723.0 L201.0,716.2 L217.9,709.5 L219.5,729.7 L229.7,736.5 L243.2,739.9 L260.1,746.6 L265.1,760.0 L266.7,771.8 L285.5,773.9 L291.8,788.6 L289.7,809.5 L291.8,826.3 L308.6,830.5 L314.9,845.2 L323.2,847.2 L325.3,861.9 L319.0,876.6 L325.0,880.0 L309.0,889.0 L292.9,905.1" fill="none" stroke="#555555" stroke-width="2" stroke-linejoin="round"/>
<path d="M245.7,826.3 L254.1,803.2 L285.5,803.2" fill="none" stroke="#555555" stroke-width="2" stroke-linejoin="round"/>
<path d="M197.5,834.7 L210.1,826.3 L245.7,826.3 L266.7,843.0 L287.6,855.6 L283.4,876.6 L319.0,876.6" fill="none" stroke="#555555" stroke-width="2" stroke-linejoin="round"/>
<path d="M182.4,723.0 L187.5,739.9 L184.1,760.0 L180.8,767.6 L178.7,788.6 L191.2,809.5 L197.5,834.7" fill="none" stroke="#555555" stroke-width="2" stroke-linejoin="round"/>
<path d="M197.5,834.7 L190.0,850.0 L182.0,870.0 L176.0,890.0 L174.0,908.0 L168.0,940.0 L163.0,975.0 L158.0,1005.0 L156.0,1037.0 L160.0,1053.0 L152.0,1084.0 L144.0,1100.0 L150.0,1115.0 L160.0,1121.0 L175.0,1123.0 L189.0,1122.0" fill="none" stroke="#555555" stroke-width="2" stroke-linejoin="round"/>
<path d="M188.0,1124.0 L188.0,1147.0" fill="none" stroke="#555555" stroke-width="2" stroke-linejoin="round"/>
<path d="M292.9,905.1 L305.4,909.9 L308.6,914.6 L322.7,924.0 L333.7,931.9 L330.6,939.7" fill="none" stroke="#555555" stroke-width="2" stroke-linejoin="round"/>
<path d="M292.9,905.1 L286.6,927.1 L285.0,940.0 L287.0,946.0" fill="none" stroke="#555555" stroke-width="2" stroke-linejoin="round"/>
<path d="M823.2,278.8 L830.7,305.0 L804.5,316.3 L802.6,321.9 L776.3,329.4 L757.6,342.5 L757.6,351.9" fill="none" stroke="#555555" stroke-width="2" stroke-linejoin="round"/>
<path d="M716.3,351.9 L757.6,351.9 L757.6,366.9 L725.7,368.8 L723.8,391.3 L714.4,395.0 L714.4,412.0 L678.8,412.0" fill="none" stroke="#555555" stroke-width="2" stroke-linejoin="round"/>
<path d="M757.6,355.7 L840.1,406.3 L872.0,425.0 L872.0,434.5 L883.2,432.6 L890.0,432.0" fill="none" stroke="#555555" stroke-width="2" stroke-linejoin="round"/>
<path d="M777.0,379.6 L787.3,458.0 L787.3,467.3 L752.2,466.3 L727.4,468.3 L723.3,472.5 L713.0,462.2 L700.6,457.0 L684.1,458.0" fill="none" stroke="#555555" stroke-width="2" stroke-linejoin="round"/>
<path d="M723.3,472.5 L729.5,497.2 L733.6,499.3" fill="none" stroke="#555555" stroke-width="2" stroke-linejoin="round"/>
<path d="M690.0,497.0 L706.8,497.2 L729.5,497.2 L752.2,497.2 L758.4,511.7 L762.5,524.0 L764.6,534.3 L760.4,548.8 L768.7,573.5" fill="none" stroke="#555555" stroke-width="2" stroke-linejoin="round"/>
<path d="M713.0,522.0 L721.3,522.0 L733.6,524.0 L739.8,536.4 L731.6,548.8 L727.0,552.0" fill="none" stroke="#555555" stroke-width="2" stroke-linejoin="round"/>
<path d="M840.9,472.5 L824.4,474.5 L803.8,486.9 L795.5,497.2 L787.3,509.6 L787.3,517.8 L766.6,517.8" fill="none" stroke="#555555" stroke-width="2" stroke-linejoin="round"/>
<path d="M812.0,511.7 L816.1,538.5 L810.0,565.3" fill="none" stroke="#555555" stroke-width="2" stroke-linejoin="round"/>
<path d="M787.3,509.6 L812.0,511.7 L838.8,509.6 L849.1,509.6" fill="none" stroke="#555555" stroke-width="2" stroke-linejoin="round"/>
<path d="M845.0,513.7 L845.0,559.1" fill="none" stroke="#555555" stroke-width="2" stroke-linejoin="round"/>
<path d="M855.3,509.6 L857.4,555.0" fill="none" stroke="#555555" stroke-width="2" stroke-linejoin="round"/>
<path d="M840.9,472.5 L851.2,486.9 L861.5,497.2 L873.9,497.2 L882.1,484.8 L890.0,486.0" fill="none" stroke="#555555" stroke-width="2" stroke-linejoin="round"/>
<path d="M861.5,497.2 L865.6,555.0" fill="none" stroke="#555555" stroke-width="2" stroke-linejoin="round"/>
<path d="M840.9,472.5 L871.8,470.4 L878.0,462.2 L881.1,433.3 L871.8,433.3" fill="none" stroke="#555555" stroke-width="2" stroke-linejoin="round"/>
<path d="M757.7,214.7 L764.2,212.3 L772.3,215.6 L780.4,217.2 L772.3,227.0 L774.0,243.2 L769.0,259.4 L770.7,262.7" fill="none" stroke="#555555" stroke-width="2" stroke-linejoin="round"/>
<path d="M827.6,201.0 L843.8,205.8 L860.0,209.0 L868.2,210.7 L875.0,204.0" fill="none" stroke="#555555" stroke-width="2" stroke-linejoin="round"/>
<path d="M857.0,130.0 L866.0,131.0 L877.0,135.0 L889.0,139.0" fill="none" stroke="#555555" stroke-width="2" stroke-linejoin="round"/>
<path d="M162,169 L172,160 L183,152 L196,144" fill="none" stroke="#555555" stroke-width="4"/>
<path d="M164,153 L176,156" fill="none" stroke="#555555" stroke-width="3"/>
</g>
<line x1="127.7" y1="138.2" x2="887.0" y2="138.2" stroke="#000" stroke-width="2.4" stroke-dasharray="8.1 9.2" stroke-dashoffset="14.3" stroke-linecap="round"/>
<line x1="127.7" y1="377.6" x2="887.0" y2="377.6" stroke="#000" stroke-width="2.4" stroke-dasharray="8.1 9.2" stroke-dashoffset="14.3" stroke-linecap="round"/>
<line x1="127.7" y1="855.8" x2="887.0" y2="855.8" stroke="#000" stroke-width="2.4" stroke-dasharray="8.1 9.2" stroke-dashoffset="14.3" stroke-linecap="round"/>
<line x1="127.7" y1="1095.6" x2="887.0" y2="1095.6" stroke="#000" stroke-width="2.4" stroke-dasharray="8.1 9.2" stroke-dashoffset="14.3" stroke-linecap="round"/>
<line x1="364.8" y1="42.8" x2="364.8" y2="1335.0" stroke="#000" stroke-width="2.75" stroke-dasharray="11.8 11.8" stroke-dashoffset="13.8" stroke-linecap="round"/>
<line x1="602.0" y1="42.8" x2="602.0" y2="1335.0" stroke="#000" stroke-width="2.75" stroke-dasharray="11.8 11.8" stroke-dashoffset="13.8" stroke-linecap="round"/>
<line x1="127.7" y1="616.8" x2="887.0" y2="616.8" stroke="#222" stroke-width="2.2"/>
<line x1="839.5" y1="42.8" x2="839.5" y2="1335.0" stroke="#000" stroke-width="2.6"/>
<rect x="127.7" y="42.8" width="759.3" height="1292.2" fill="none" stroke="#000" stroke-width="2.8"/>
<line x1="98.5" y1="138.2" x2="127.7" y2="138.2" stroke="#000" stroke-width="2.6"/>
<text x="86.5" y="146.79999999999998" font-size="24" text-anchor="end" stroke="#000">50° N</text>
<line x1="98.5" y1="377.6" x2="127.7" y2="377.6" stroke="#000" stroke-width="2.6"/>
<text x="86.5" y="386.20000000000005" font-size="24" text-anchor="end" stroke="#000">25° N</text>
<line x1="98.5" y1="616.8" x2="127.7" y2="616.8" stroke="#000" stroke-width="2.6"/>
<text x="86.5" y="625.4" font-size="24" text-anchor="end" stroke="#000">0° N</text>
<line x1="98.5" y1="855.8" x2="127.7" y2="855.8" stroke="#000" stroke-width="2.6"/>
<text x="86.5" y="864.4" font-size="24" text-anchor="end" stroke="#000">25° S</text>
<line x1="98.5" y1="1095.6" x2="127.7" y2="1095.6" stroke="#000" stroke-width="2.6"/>
<text x="86.5" y="1104.1999999999998" font-size="24" text-anchor="end" stroke="#000">50° S</text>
<line x1="364.8" y1="1335.0" x2="364.8" y2="1363.6" stroke="#000" stroke-width="2.6"/>
<text x="364.8" y="1401" font-size="24" text-anchor="middle" stroke="#000">50° W</text>
<line x1="602.0" y1="1335.0" x2="602.0" y2="1363.6" stroke="#000" stroke-width="2.6"/>
<text x="602.0" y="1401" font-size="24" text-anchor="middle" stroke="#000">25° W</text>
<line x1="839.5" y1="1335.0" x2="839.5" y2="1363.6" stroke="#000" stroke-width="2.6"/>
<text x="839.5" y="1401" font-size="24" text-anchor="middle" stroke="#000">0° W</text>
<text x="491.5" y="1443" font-size="27.4" text-anchor="middle" stroke="#000">Longitude</text>
<text transform="translate(20.6,721) rotate(-90)" font-size="27.2" text-anchor="middle" stroke="#000">Latitude</text>
<rect x="196.5" y="63" width="192" height="389" fill="#fff" stroke="#000" stroke-width="3.6"/>
<circle cx="239.9" cy="100.3" r="13.6" fill="#327052"/>
<text x="270" y="112.5" font-size="34.2" stroke="#000">NADR</text>
<circle cx="239.9" cy="139.8" r="13.6" fill="#5a8c34"/>
<text x="270" y="152.0" font-size="34.2" stroke="#000">NAST</text>
<circle cx="239.9" cy="179.4" r="13.6" fill="#f0b13a"/>
<text x="270" y="191.6" font-size="34.2" stroke="#000">NATR</text>
<circle cx="239.9" cy="218.9" r="13.6" fill="#d06e20"/>
<text x="270" y="231.1" font-size="34.2" stroke="#000">WTRA</text>
<circle cx="239.9" cy="258.5" r="13.6" fill="#cf4233"/>
<text x="270" y="270.7" font-size="34.2" stroke="#000">SATL</text>
<circle cx="239.9" cy="298.0" r="13.6" fill="#7a389e"/>
<text x="270" y="310.2" font-size="34.2" stroke="#000">FKLD</text>
<circle cx="239.9" cy="337.5" r="13.6" fill="#0c2a38"/>
<text x="270" y="349.7" font-size="34.2" stroke="#000">SANT</text>
<circle cx="239.9" cy="377.1" r="13.6" fill="#236672"/>
<text x="270" y="389.3" font-size="34.2" stroke="#000">ANTA</text>
<circle cx="239.9" cy="416.6" r="13.6" fill="#86b2ba"/>
<text x="270" y="428.8" font-size="34.2" stroke="#000">APLR</text>
<circle cx="762.5" cy="166.5" r="19.2" fill="#327052" stroke="#000" stroke-width="2.6"/>
<text x="762.5" y="172.3" font-size="16" font-weight="bold" fill="#fff" text-anchor="middle" stroke="#fff">330</text>
<circle cx="736.2" cy="205" r="19.2" fill="#327052" stroke="#000" stroke-width="2.6"/>
<text x="736.2" y="210.8" font-size="16" font-weight="bold" fill="#fff" text-anchor="middle" stroke="#fff">329</text>
<circle cx="711.4" cy="297.8" r="19.2" fill="#5a8c34" stroke="#000" stroke-width="2.6"/>
<line x1="680.5" y1="287" x2="692" y2="291.5" stroke="#000" stroke-width="2.2"/>
<text x="678.3" y="291.6" font-size="16" font-weight="bold" text-anchor="end" stroke="#000">324</text>
<circle cx="717.1" cy="279.0" r="19.2" fill="#5a8c34" stroke="#000" stroke-width="2.6"/>
<text x="717.1" y="284.8" font-size="16" font-weight="bold" fill="#fff" text-anchor="middle" stroke="#fff">326</text>
<circle cx="638.5" cy="418.5" r="19.2" fill="#f0b13a" stroke="#000" stroke-width="2.6"/>
<text x="638.5" y="424.3" font-size="16" font-weight="bold" fill="#fff" text-anchor="middle" stroke="#fff">321</text>
<circle cx="634.7" cy="456" r="19.2" fill="#f0b13a" stroke="#000" stroke-width="2.6"/>
<text x="634.7" y="461.8" font-size="16" font-weight="bold" fill="#fff" text-anchor="middle" stroke="#fff">320</text>
<circle cx="629" cy="496.4" r="19.2" fill="#f0b13a" stroke="#000" stroke-width="2.6"/>
<text x="629" y="502.2" font-size="16" font-weight="bold" fill="#fff" text-anchor="middle" stroke="#fff">319</text>
<circle cx="599.2" cy="630.1" r="19.2" fill="#d06e20" stroke="#000" stroke-width="2.6"/>
<text x="599.2" y="635.9" font-size="16" font-weight="bold" fill="#fff" text-anchor="middle" stroke="#fff">315</text>
<circle cx="502.5" cy="820.2" r="19.2" fill="#cf4233" stroke="#000" stroke-width="2.6"/>
<line x1="515" y1="832" x2="525" y2="840" stroke="#000" stroke-width="2.2"/>
<text x="537.5" y="846" font-size="16" font-weight="bold" text-anchor="start" stroke="#000">308</text>
<circle cx="519.6" cy="795.8" r="19.2" fill="#cf4233" stroke="#000" stroke-width="2.6"/>
<text x="519.6" y="801.6" font-size="16" font-weight="bold" fill="#fff" text-anchor="middle" stroke="#fff">310</text>
<circle cx="537" cy="765" r="19.2" fill="#cf4233" stroke="#000" stroke-width="2.6"/>
<text x="537" y="770.8" font-size="16" font-weight="bold" fill="#fff" text-anchor="middle" stroke="#fff">311</text>
<circle cx="557" cy="730.8" r="19.2" fill="#cf4233" stroke="#000" stroke-width="2.6"/>
<text x="557" y="736.6" font-size="16" font-weight="bold" fill="#fff" text-anchor="middle" stroke="#fff">312</text>
<circle cx="574" cy="695.1" r="19.2" fill="#cf4233" stroke="#000" stroke-width="2.6"/>
<text x="574" y="700.9" font-size="16" font-weight="bold" fill="#fff" text-anchor="middle" stroke="#fff">313</text>
<circle cx="431.6" cy="944.2" r="19.2" fill="#cf4233" stroke="#000" stroke-width="2.6"/>
<text x="431.6" y="950.0" font-size="16" font-weight="bold" fill="#fff" text-anchor="middle" stroke="#fff">302</text>
<circle cx="359.7" cy="997.6" r="19.2" fill="#cf4233" stroke="#000" stroke-width="2.6"/>
<text x="359.7" y="1003.4" font-size="16" font-weight="bold" fill="#fff" text-anchor="middle" stroke="#fff">300</text>
<circle cx="251.7" cy="1075.7" r="19.2" fill="#7a389e" stroke="#000" stroke-width="2.6"/>
<text x="251.7" y="1081.5" font-size="16" font-weight="bold" fill="#fff" text-anchor="middle" stroke="#fff">297</text>
<circle cx="208.8" cy="1105.5" r="19.2" fill="#7a389e" stroke="#000" stroke-width="2.6"/>
<text x="208.8" y="1111.3" font-size="16" font-weight="bold" fill="#fff" text-anchor="middle" stroke="#fff">296</text>
<circle cx="271.1" cy="1171.7" r="19.2" fill="#236672" stroke="#000" stroke-width="2.6"/>
<line x1="288.6" y1="1158.3" x2="296.3" y2="1153.9" stroke="#000" stroke-width="2.2"/>
<text x="303" y="1153.5" font-size="16" font-weight="bold" text-anchor="start" stroke="#000">179</text>
<circle cx="244.3" cy="1154.3" r="19.2" fill="#0c2a38" stroke="#000" stroke-width="2.6"/>
<text x="244.3" y="1160.1" font-size="16" font-weight="bold" fill="#fff" text-anchor="middle" stroke="#fff">178</text>
<circle cx="317.5" cy="1208" r="19.2" fill="#86b2ba" stroke="#000" stroke-width="2.6"/>
<line x1="325.6" y1="1227.4" x2="328.8" y2="1235.2" stroke="#000" stroke-width="2.2"/>
<text x="331" y="1253" font-size="16" font-weight="bold" text-anchor="start" stroke="#000">193</text>
<circle cx="297.9" cy="1203" r="19.2" fill="#86b2ba" stroke="#000" stroke-width="2.6"/>
<line x1="267.8" y1="1205.9" x2="277.6" y2="1205.9" stroke="#000" stroke-width="2.2"/>
<text x="262.5" y="1210.4" font-size="16" font-weight="bold" text-anchor="end" stroke="#000">241</text>
<circle cx="312.2" cy="1195.3" r="19.2" fill="#236672" stroke="#000" stroke-width="2.6"/>
<text x="312.2" y="1201.1" font-size="16" font-weight="bold" fill="#fff" text-anchor="middle" stroke="#fff">287</text>
<defs><linearGradient id="cbar" x1="0" x2="1" y1="0" y2="0">
<stop offset="0.000" stop-color="#f9faf8"/>
<stop offset="0.050" stop-color="#f0f5ee"/>
<stop offset="0.100" stop-color="#e8f0e6"/>
<stop offset="0.150" stop-color="#e0ebde"/>
<stop offset="0.200" stop-color="#d7e6d5"/>
<stop offset="0.250" stop-color="#cfe1cc"/>
<stop offset="0.300" stop-color="#c3dabf"/>
<stop offset="0.350" stop-color="#b6d3b2"/>
<stop offset="0.400" stop-color="#aacba5"/>
<stop offset="0.450" stop-color="#9ec499"/>
<stop offset="0.500" stop-color="#92bc8d"/>
<stop offset="0.550" stop-color="#85b481"/>
<stop offset="0.600" stop-color="#78ac75"/>
<stop offset="0.650" stop-color="#6ba469"/>
<stop offset="0.700" stop-color="#5d9b5c"/>
<stop offset="0.750" stop-color="#4f9350"/>
<stop offset="0.800" stop-color="#418a42"/>
<stop offset="0.850" stop-color="#328135"/>
<stop offset="0.900" stop-color="#227825"/>
<stop offset="0.950" stop-color="#116e12"/>
<stop offset="1.000" stop-color="#006400"/>
</linearGradient></defs>
<g transform="rotate(0.33 508 1482)">
<rect x="130.8" y="1467" width="756" height="30" fill="url(#cbar)" stroke="#000" stroke-width="2.4"/>
<line x1="130.8" y1="1497" x2="130.8" y2="1505.5" stroke="#000" stroke-width="2"/>
<line x1="319.8" y1="1497" x2="319.8" y2="1505.5" stroke="#000" stroke-width="2"/>
<line x1="508.8" y1="1497" x2="508.8" y2="1505.5" stroke="#000" stroke-width="2"/>
<line x1="697.8" y1="1497" x2="697.8" y2="1505.5" stroke="#000" stroke-width="2"/>
<line x1="886.8" y1="1497" x2="886.8" y2="1505.5" stroke="#000" stroke-width="2"/>
</g>
<text x="121.8" y="1546.2" font-size="24" text-anchor="middle" stroke="#000">0.0</text>
<text x="310.1" y="1546.2" font-size="24" text-anchor="middle" stroke="#000">0.5</text>
<text x="498.40000000000003" y="1546.2" font-size="24" text-anchor="middle" stroke="#000">1.0</text>
<text x="686.7" y="1546.2" font-size="24" text-anchor="middle" stroke="#000">1.5</text>
<text x="875.0" y="1546.2" font-size="24" text-anchor="middle" stroke="#000">2.0</text>
<text x="465" y="1593.4" font-size="27.6" text-anchor="middle" stroke="#000">Annual Chl <tspan font-style="italic">a</tspan> [mg m<tspan font-size="17" dy="-10">-3</tspan><tspan dy="10">]</tspan></text>
<text x="21.5" y="19.6" font-size="28" font-weight="bold" stroke="#000">a</text>
<text x="972.5" y="19.6" font-size="28" font-weight="bold" stroke="#000">b</text>
<text x="972" y="628.2" font-size="28" font-weight="bold" stroke="#000">c</text>
<text x="971.5" y="1151" font-size="28" font-weight="bold" stroke="#000">d</text>
<line x1="1123" y1="104.8" x2="1123" y2="490.4" stroke="#000" stroke-width="3.3" stroke-dasharray="10.1 11.3" stroke-dashoffset="5.9" stroke-linecap="round"/>
<line x1="1149.5" y1="104.8" x2="1149.5" y2="490.4" stroke="#000" stroke-width="3.3" stroke-dasharray="10.1 11.3" stroke-dashoffset="5.9" stroke-linecap="round"/>
<line x1="1177.5" y1="104.8" x2="1177.5" y2="490.4" stroke="#000" stroke-width="3.3" stroke-dasharray="10.1 11.3" stroke-dashoffset="5.9" stroke-linecap="round"/>
<line x1="1247.4" y1="104.8" x2="1247.4" y2="490.4" stroke="#000" stroke-width="3.3" stroke-dasharray="10.1 11.3" stroke-dashoffset="5.9" stroke-linecap="round"/>
<line x1="1516" y1="104.8" x2="1516" y2="490.4" stroke="#000" stroke-width="3.3" stroke-dasharray="10.1 11.3" stroke-dashoffset="5.9" stroke-linecap="round"/>
<line x1="1596.5" y1="104.8" x2="1596.5" y2="490.4" stroke="#000" stroke-width="3.3" stroke-dasharray="10.1 11.3" stroke-dashoffset="5.9" stroke-linecap="round"/>
<line x1="1728.8" y1="104.8" x2="1728.8" y2="490.4" stroke="#000" stroke-width="3.3" stroke-dasharray="10.1 11.3" stroke-dashoffset="5.9" stroke-linecap="round"/>
<line x1="1816.5" y1="104.8" x2="1816.5" y2="490.4" stroke="#000" stroke-width="3.3" stroke-dasharray="10.1 11.3" stroke-dashoffset="5.9" stroke-linecap="round"/>
<path d="M1118.0,462.0 L1125.1,454.2 L1143.5,424.0 L1155.2,393.1 L1191.1,379.0 L1213.4,352.8 L1270.0,243.6 L1308.5,212.2 L1398.8,153.2 L1417.2,150.3 L1439.5,156.0 L1464.8,151.5 L1490.1,142.7 L1537.3,144.8 L1635.2,203.2 L1665.3,220.8 L1692.0,228.5 L1780.8,264.5 L1793.6,262.7 L1848.0,312.5 L1876.0,326.7" fill="none" stroke="#000" stroke-width="3.1"/>
<circle cx="1114.5" cy="462.5" r="12.4" fill="#86b2ba" stroke="#000" stroke-width="3.2"/>
<circle cx="1118" cy="462" r="12.4" fill="#86b2ba" stroke="#000" stroke-width="3.2"/>
<circle cx="1125.1" cy="454.2" r="12.4" fill="#236672" stroke="#000" stroke-width="3.2"/>
<circle cx="1143.5" cy="424" r="12.4" fill="#236672" stroke="#000" stroke-width="3.2"/>
<circle cx="1155.2" cy="393.1" r="12.4" fill="#0c2a38" stroke="#000" stroke-width="3.2"/>
<circle cx="1191.1" cy="379" r="12.4" fill="#7a389e" stroke="#000" stroke-width="3.2"/>
<circle cx="1213.4" cy="352.8" r="12.4" fill="#7a389e" stroke="#000" stroke-width="3.2"/>
<circle cx="1270" cy="243.6" r="12.4" fill="#cf4233" stroke="#000" stroke-width="3.2"/>
<circle cx="1308.5" cy="212.2" r="12.4" fill="#cf4233" stroke="#000" stroke-width="3.2"/>
<circle cx="1398.8" cy="153.2" r="12.4" fill="#cf4233" stroke="#000" stroke-width="3.2"/>
<circle cx="1417.2" cy="150.3" r="12.4" fill="#cf4233" stroke="#000" stroke-width="3.2"/>
<circle cx="1439.5" cy="156" r="12.4" fill="#cf4233" stroke="#000" stroke-width="3.2"/>
<circle cx="1464.8" cy="151.5" r="12.4" fill="#cf4233" stroke="#000" stroke-width="3.2"/>
<circle cx="1490.1" cy="142.7" r="12.4" fill="#cf4233" stroke="#000" stroke-width="3.2"/>
<circle cx="1537.3" cy="144.8" r="12.4" fill="#d06e20" stroke="#000" stroke-width="3.2"/>
<circle cx="1635.2" cy="203.2" r="12.4" fill="#f0b13a" stroke="#000" stroke-width="3.2"/>
<circle cx="1665.3" cy="220.8" r="12.4" fill="#f0b13a" stroke="#000" stroke-width="3.2"/>
<circle cx="1692" cy="228.5" r="12.4" fill="#f0b13a" stroke="#000" stroke-width="3.2"/>
<circle cx="1780.8" cy="264.5" r="12.4" fill="#5a8c34" stroke="#000" stroke-width="3.2"/>
<circle cx="1793.6" cy="262.7" r="12.4" fill="#5a8c34" stroke="#000" stroke-width="3.2"/>
<circle cx="1848" cy="312.5" r="12.4" fill="#327052" stroke="#000" stroke-width="3.2"/>
<circle cx="1876" cy="326.7" r="12.4" fill="#327052" stroke="#000" stroke-width="3.2"/>
<rect x="1086.8" y="104.8" width="819.7" height="385.59999999999997" fill="none" stroke="#000" stroke-width="3.1"/>
<line x1="1060.2" y1="476.3" x2="1086.8" y2="476.3" stroke="#000" stroke-width="2.6"/>
<text x="1035" y="485.1" font-size="25" text-anchor="end" stroke="#000">0</text>
<line x1="1060.2" y1="416.7" x2="1086.8" y2="416.7" stroke="#000" stroke-width="2.6"/>
<text x="1035" y="425.5" font-size="25" text-anchor="end" stroke="#000">5</text>
<line x1="1060.2" y1="357.1" x2="1086.8" y2="357.1" stroke="#000" stroke-width="2.6"/>
<text x="1035" y="365.9" font-size="25" text-anchor="end" stroke="#000">10</text>
<line x1="1060.2" y1="297.5" x2="1086.8" y2="297.5" stroke="#000" stroke-width="2.6"/>
<text x="1035" y="306.3" font-size="25" text-anchor="end" stroke="#000">15</text>
<line x1="1060.2" y1="237.9" x2="1086.8" y2="237.9" stroke="#000" stroke-width="2.6"/>
<text x="1035" y="246.7" font-size="25" text-anchor="end" stroke="#000">20</text>
<line x1="1060.2" y1="178.3" x2="1086.8" y2="178.3" stroke="#000" stroke-width="2.6"/>
<text x="1035" y="187.1" font-size="25" text-anchor="end" stroke="#000">25</text>
<line x1="1060.2" y1="118.7" x2="1086.8" y2="118.7" stroke="#000" stroke-width="2.6"/>
<text x="1035" y="127.5" font-size="25" text-anchor="end" stroke="#000">30</text>
<line x1="1127.5" y1="490.4" x2="1127.5" y2="516.5" stroke="#000" stroke-width="2.6"/>
<text x="1127.5" y="552.4" font-size="33.8" text-anchor="middle" stroke="#000">60° S</text>
<line x1="1267.5" y1="490.4" x2="1267.5" y2="516.5" stroke="#000" stroke-width="2.6"/>
<text x="1267.5" y="552.4" font-size="33.8" text-anchor="middle" stroke="#000">40° S</text>
<line x1="1407.5" y1="490.4" x2="1407.5" y2="516.5" stroke="#000" stroke-width="2.6"/>
<text x="1407.5" y="552.4" font-size="33.8" text-anchor="middle" stroke="#000">20° S</text>
<line x1="1547.5" y1="490.4" x2="1547.5" y2="516.5" stroke="#000" stroke-width="2.6"/>
<text x="1547.5" y="552.4" font-size="33.8" text-anchor="middle" stroke="#000">0° N</text>
<line x1="1687.5" y1="490.4" x2="1687.5" y2="516.5" stroke="#000" stroke-width="2.6"/>
<text x="1687.5" y="552.4" font-size="33.8" text-anchor="middle" stroke="#000">20° N</text>
<line x1="1827.5" y1="490.4" x2="1827.5" y2="516.5" stroke="#000" stroke-width="2.6"/>
<text x="1827.5" y="552.4" font-size="33.8" text-anchor="middle" stroke="#000">40° N</text>
<text x="1493.5" y="594.7" font-size="29.5" text-anchor="middle" stroke="#000">Latitude</text>
<text transform="translate(987.5,296.5) rotate(-90)" font-size="36.5" text-anchor="middle" stroke="#000">Temperature [°C]</text>
<text x="980.4" y="65.4" font-size="26.8" text-anchor="middle" stroke="#000">APLR</text>
<path d="M1004.6,72.0 L1101.6,90.4 L1101.6,104.8" fill="none" stroke="#000" stroke-width="2.8"/>
<text x="1091.5" y="65.4" font-size="26.8" text-anchor="middle" stroke="#000">ANTA</text>
<path d="M1118.0,72.0 L1137.0,90.4 L1137.0,104.8" fill="none" stroke="#000" stroke-width="2.8"/>
<text x="1186.2" y="65.4" font-size="26.8" text-anchor="middle" stroke="#000">SANT</text>
<path d="M1174.9,72.0 L1163.6,90.4 L1163.6,104.8" fill="none" stroke="#000" stroke-width="2.8"/>
<text x="1282" y="65.4" font-size="26.8" text-anchor="middle" stroke="#000">FKLD</text>
<path d="M1260.5,72.0 L1212.9,90.4 L1212.9,104.8" fill="none" stroke="#000" stroke-width="2.8"/>
<text x="1404.5" y="65.4" font-size="26.8" text-anchor="middle" stroke="#000">SATL</text>
<path d="M1392.3,72.0 L1381.0,90.4 L1381.0,104.8" fill="none" stroke="#000" stroke-width="2.8"/>
<text x="1541" y="65.4" font-size="26.8" text-anchor="middle" stroke="#000">WTRA</text>
<path d="M1540.5,70.7 L1540.5,104.8" fill="none" stroke="#000" stroke-width="2.8"/>
<text x="1664.3" y="65.4" font-size="26.8" text-anchor="middle" stroke="#000">NATR</text>
<path d="M1665.3,70.7 L1665.3,104.8" fill="none" stroke="#000" stroke-width="2.8"/>
<text x="1770.7" y="65.4" font-size="26.8" text-anchor="middle" stroke="#000">NAST</text>
<path d="M1771.5,70.7 L1771.5,104.8" fill="none" stroke="#000" stroke-width="2.8"/>
<text x="1864.6" y="65.4" font-size="26.8" text-anchor="middle" stroke="#000">NADR</text>
<path d="M1864.8,70.7 L1864.8,104.8" fill="none" stroke="#000" stroke-width="2.8"/>
<rect x="1129.4" y="706.6" width="337.0999999999999" height="100.6" fill="#c8452e" stroke="#000" stroke-width="1.8"/>
<rect x="1466.5" y="706.6" width="29.90000000000009" height="100.6" fill="#c17a10" stroke="#000" stroke-width="1.8"/>
<rect x="1496.4" y="706.6" width="22.09999999999991" height="100.6" fill="#9dbf12" stroke="#000" stroke-width="1.8"/>
<rect x="1518.5" y="706.6" width="18.09999999999991" height="100.6" fill="#1092c4" stroke="#000" stroke-width="1.8"/>
<rect x="1536.6" y="706.6" width="330.60000000000014" height="100.6" fill="#a8a8a8" stroke="#000" stroke-width="1.8"/>
<rect x="1129.4" y="895.4" width="286.8" height="101.2" fill="#e5a000" stroke="#000" stroke-width="1.8"/>
<rect x="1416.2" y="895.4" width="451" height="101.2" fill="#a8a8a8" stroke="#000" stroke-width="1.8"/>
<text x="1251" y="679.2" font-size="22.75" text-anchor="middle" stroke="#000">Bacteria</text>
<line x1="1254.8" y1="689.3" x2="1254.8" y2="706.6" stroke="#000" stroke-width="3.8"/>
<text x="1428.5" y="668.7" font-size="22.75" text-anchor="middle" stroke="#000">Archaea</text>
<path d="M1470.9,675.0 L1470.9,680.7 L1485.3,690.4 L1485.3,706.6" fill="none" stroke="#000" stroke-width="3.6"/>
<text x="1505.3" y="641.9" font-size="22.75" text-anchor="middle" stroke="#000">Eukaryota</text>
<line x1="1509.4" y1="653" x2="1509.4" y2="706.6" stroke="#000" stroke-width="3.8"/>
<text x="1573.7" y="669" font-size="22.75" text-anchor="middle" stroke="#000">Viruses</text>
<path d="M1544.0,674.3 L1544.0,682.0 L1529.1,689.0 L1529.1,706.6" fill="none" stroke="#000" stroke-width="3.6"/>
<text x="1689.8" y="678.4" font-size="22.75" text-anchor="middle" stroke="#000">unclassified</text>
<line x1="1693.7" y1="689" x2="1693.7" y2="706.6" stroke="#000" stroke-width="3.8"/>
<text x="1251.1" y="845.2" font-size="22.75" text-anchor="middle" stroke="#000">functionally</text>
<text x="1251.7" y="867.8" font-size="22.75" text-anchor="middle" stroke="#000">classified by (KEGG/CAZyme)</text>
<line x1="1250.4" y1="879" x2="1250.4" y2="895.4" stroke="#000" stroke-width="3.8"/>
<text x="1594.5" y="869" font-size="22.75" text-anchor="middle" stroke="#000">unclassified</text>
<line x1="1599" y1="879" x2="1599" y2="895.4" stroke="#000" stroke-width="3.8"/>
<line x1="1129.4" y1="1021.6" x2="1867.2" y2="1021.6" stroke="#000" stroke-width="2.4"/>
<line x1="1129.4" y1="1021.6" x2="1129.4" y2="1038.5" stroke="#000" stroke-width="2.4"/>
<text x="1129.4" y="1070.6" font-size="27" text-anchor="middle" stroke="#000">0</text>
<line x1="1277.0" y1="1021.6" x2="1277.0" y2="1038.5" stroke="#000" stroke-width="2.4"/>
<text x="1277.0" y="1070.6" font-size="27" text-anchor="middle" stroke="#000">20</text>
<line x1="1424.5" y1="1021.6" x2="1424.5" y2="1038.5" stroke="#000" stroke-width="2.4"/>
<text x="1424.5" y="1070.6" font-size="27" text-anchor="middle" stroke="#000">40</text>
<line x1="1572.1" y1="1021.6" x2="1572.1" y2="1038.5" stroke="#000" stroke-width="2.4"/>
<text x="1572.1" y="1070.6" font-size="27" text-anchor="middle" stroke="#000">60</text>
<line x1="1719.6" y1="1021.6" x2="1719.6" y2="1038.5" stroke="#000" stroke-width="2.4"/>
<text x="1719.6" y="1070.6" font-size="27" text-anchor="middle" stroke="#000">80</text>
<line x1="1867.2" y1="1021.6" x2="1867.2" y2="1038.5" stroke="#000" stroke-width="2.4"/>
<text x="1867.2" y="1070.6" font-size="27" text-anchor="middle" stroke="#000">100</text>
<text x="1504.5" y="1108.7" font-size="26.6" text-anchor="middle" stroke="#000">Proportion of AOM genes [%]</text>
<text transform="translate(997.6,849) rotate(-45)" font-size="26.7" stroke="#000"><tspan x="0" y="-13.5">Taxonomic</tspan><tspan x="0" y="13.5">classification</tspan></text>
<text transform="translate(999.5,1041.4) rotate(-45)" font-size="26.7" stroke="#000"><tspan x="0" y="-13.5">Functional</tspan><tspan x="0" y="13.5">classification</tspan></text>
<path d="M1465.5,1350.5 L1583.4,1186.5 A202,202 0 1 0 1453.2,1552.1 Z" fill="#fcfcfc" stroke="#000" stroke-width="2.8" stroke-linejoin="miter"/>
<path d="M1484.5,1347.5 L1684.2,1317.3 A202,202 0 0 0 1602.4,1183.5 Z" fill="#a6a19e" stroke="#000" stroke-width="2.8" stroke-linejoin="miter"/>
<path d="M1476.5,1357.5 L1464.2,1559.1 A202,202 0 0 0 1676.3,1328.0 Z" fill="#5e5756" stroke="#000" stroke-width="2.8" stroke-linejoin="miter"/>
<text x="1344.4" y="1336" font-size="28" text-anchor="middle" stroke="#000">58.9%</text>
<text x="1582" y="1302.3" font-size="28" text-anchor="middle" stroke="#000">12.7%</text>
<text x="1547.8" y="1441.5" font-size="28" text-anchor="middle" fill="#fff" stroke="#fff">23.8%</text>
<text x="1251.4" y="1262.2" font-size="25.5" text-anchor="end" stroke="#000">known</text>
<text x="1251.4" y="1288.3" font-size="25.5" text-anchor="end" stroke="#000">sequences</text>
<text x="1699.5" y="1294.8" font-size="25.5" text-anchor="start" stroke="#000">novel sequence</text>
<text x="1699.5" y="1321" font-size="25.5" text-anchor="start" stroke="#000">function known</text>
<text x="1587" y="1563" font-size="25.5" text-anchor="start" stroke="#000">novel sequence</text>
<text x="1587" y="1589.7" font-size="25.5" text-anchor="start" stroke="#000">function unknown</text>
<line x1="1264" y1="1279.8" x2="1272.5" y2="1282.3" stroke="#000" stroke-width="2.4"/>
<line x1="1682.4" y1="1305.9" x2="1691" y2="1303.4" stroke="#000" stroke-width="2.4"/>
<line x1="1578" y1="1532" x2="1584" y2="1541" stroke="#000" stroke-width="2.4"/>
</svg>
</body></html>
